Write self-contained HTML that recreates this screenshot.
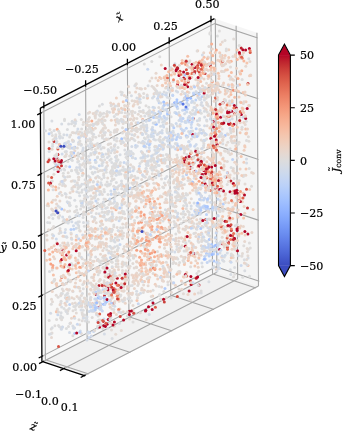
<!DOCTYPE html>
<html><head><meta charset="utf-8"><title>plot</title>
<style>html,body{margin:0;padding:0;background:#fff}svg{display:block}</style></head>
<body>
<svg width="343" height="432" viewBox="0 0 343 432" style="display:block">
<rect width="343" height="432" fill="#fff"/>
<polygon points="41.90,361.45 216.00,271.88 214.45,18.55 40.35,108.12" fill="#f8f8f8"/>
<polygon points="216.00,271.88 259.35,286.25 257.80,32.93 214.45,18.55" fill="#f5f5f5"/>
<polygon points="41.90,361.45 216.00,271.88 259.35,286.25 85.25,375.82" fill="#f1f1f1"/>
<path d="M45.38 359.66 L43.83 106.33 M45.38 359.66 L88.73 374.03 M87.17 338.16 L85.62 84.84 M87.17 338.16 L130.52 352.54 M128.95 316.66 L127.40 63.34 M128.95 316.66 L172.30 331.04 M170.73 295.16 L169.18 41.84 M170.73 295.16 L214.08 309.54 M212.52 273.67 L210.97 20.34 M212.52 273.67 L255.87 288.04 M41.87 356.38 L215.97 266.81 M215.97 266.81 L259.32 281.18 M41.50 295.59 L215.60 206.01 M215.60 206.01 L258.95 220.39 M41.12 234.79 L215.22 145.21 M215.22 145.21 L258.57 159.59 M40.75 173.99 L214.85 84.41 M214.85 84.41 L258.20 98.79 M40.38 113.19 L214.48 23.62 M214.48 23.62 L257.83 37.99 M42.77 361.74 L216.87 272.16 M216.87 272.16 L215.32 18.84 M63.58 368.64 L237.68 279.06 M237.68 279.06 L236.12 25.74 M84.38 375.54 L258.48 285.96 M258.48 285.96 L256.93 32.64" stroke="#a6a6a6" stroke-width="1.10" fill="none"/>
<g id="pts">
<g fill-opacity="1.00"><circle cx="54.7" cy="138.2" r="1.50" fill="#dddcdc"/><circle cx="61.1" cy="312.8" r="1.50" fill="#dadce0"/><circle cx="140.8" cy="158.0" r="1.50" fill="#d6dce4"/><circle cx="144.9" cy="156.1" r="1.50" fill="#dddcdc"/><circle cx="209.9" cy="252.4" r="1.50" fill="#e4d9d2"/><circle cx="153.0" cy="155.1" r="1.50" fill="#dadce0"/><circle cx="160.2" cy="207.7" r="1.50" fill="#f7b89c"/><circle cx="194.6" cy="253.6" r="1.50" fill="#d6dce4"/><circle cx="69.4" cy="216.9" r="1.50" fill="#e5d8d1"/><circle cx="223.1" cy="211.1" r="1.50" fill="#e1dad6"/><circle cx="185.1" cy="214.2" r="1.50" fill="#e4d9d2"/><circle cx="114.7" cy="272.1" r="1.50" fill="#e7d7ce"/><circle cx="96.5" cy="314.4" r="1.50" fill="#d2dbe8"/><circle cx="159.2" cy="102.8" r="1.50" fill="#c0d4f5"/><circle cx="153.5" cy="159.5" r="1.50" fill="#ccd9ed"/><circle cx="190.4" cy="219.1" r="1.50" fill="#e3d9d3"/><circle cx="87.0" cy="317.0" r="1.50" fill="#d3dbe7"/><circle cx="97.4" cy="157.8" r="1.50" fill="#dddcdc"/><circle cx="140.4" cy="102.4" r="1.50" fill="#dcdddd"/><circle cx="177.1" cy="178.6" r="1.50" fill="#e3d9d3"/><circle cx="132.2" cy="209.7" r="1.50" fill="#e2dad5"/><circle cx="142.7" cy="119.3" r="1.50" fill="#f6bfa6"/><circle cx="99.3" cy="165.7" r="1.50" fill="#c7d7f0"/><circle cx="186.6" cy="272.5" r="1.50" fill="#efcebd"/><circle cx="121.0" cy="174.1" r="1.50" fill="#dadce0"/><circle cx="75.4" cy="258.0" r="1.50" fill="#f3c7b1"/><circle cx="238.8" cy="236.0" r="1.50" fill="#e7d7ce"/><circle cx="153.6" cy="110.4" r="1.50" fill="#e8d6cc"/><circle cx="213.5" cy="254.0" r="1.50" fill="#b2ccfb"/><circle cx="98.0" cy="199.3" r="1.50" fill="#dcdddd"/><circle cx="148.2" cy="135.4" r="1.50" fill="#dadce0"/><circle cx="198.4" cy="234.4" r="1.50" fill="#ead5c9"/><circle cx="229.9" cy="226.1" r="1.50" fill="#b40426"/><circle cx="104.8" cy="273.0" r="1.50" fill="#ebd3c6"/><circle cx="130.2" cy="293.4" r="1.50" fill="#dedcdb"/><circle cx="170.3" cy="210.4" r="1.50" fill="#e1dad6"/><circle cx="132.5" cy="293.1" r="1.50" fill="#ead5c9"/><circle cx="215.6" cy="208.1" r="1.50" fill="#ecd3c5"/><circle cx="70.9" cy="156.0" r="1.50" fill="#dadce0"/><circle cx="172.9" cy="263.4" r="1.50" fill="#dedcdb"/><circle cx="82.5" cy="203.1" r="1.50" fill="#d8dce2"/><circle cx="242.1" cy="79.6" r="1.50" fill="#dddcdc"/><circle cx="166.1" cy="95.1" r="1.50" fill="#bed2f6"/><circle cx="165.5" cy="94.7" r="1.50" fill="#ccd9ed"/><circle cx="197.4" cy="252.7" r="1.50" fill="#f2cab5"/><circle cx="65.0" cy="264.5" r="1.50" fill="#f5c1a9"/><circle cx="236.3" cy="250.3" r="1.50" fill="#e6d7cf"/><circle cx="114.3" cy="273.9" r="1.50" fill="#e0dbd8"/><circle cx="227.3" cy="161.5" r="1.50" fill="#e1dad6"/><circle cx="196.2" cy="128.8" r="1.50" fill="#bfd3f6"/><circle cx="249.6" cy="189.6" r="1.50" fill="#eed0c0"/><circle cx="207.4" cy="64.5" r="1.50" fill="#e7d7ce"/><circle cx="89.6" cy="112.3" r="1.50" fill="#e7d7ce"/><circle cx="203.7" cy="52.8" r="1.50" fill="#e8d6cc"/><circle cx="198.0" cy="240.9" r="1.50" fill="#d4dbe6"/><circle cx="210.4" cy="65.9" r="1.50" fill="#c12b30"/><circle cx="78.6" cy="179.8" r="1.50" fill="#e1dad6"/><circle cx="144.5" cy="142.6" r="1.50" fill="#cfdaea"/><circle cx="181.1" cy="128.7" r="1.50" fill="#c5d6f2"/><circle cx="167.1" cy="243.1" r="1.50" fill="#e7d7ce"/><circle cx="228.4" cy="60.8" r="1.50" fill="#f2cbb7"/><circle cx="139.2" cy="94.3" r="1.50" fill="#dedcdb"/><circle cx="178.7" cy="169.5" r="1.50" fill="#dfdbd9"/><circle cx="214.0" cy="119.3" r="1.50" fill="#dcdddd"/><circle cx="201.1" cy="156.9" r="1.50" fill="#ebd3c6"/><circle cx="125.2" cy="144.9" r="1.50" fill="#f6bea4"/><circle cx="221.9" cy="186.6" r="1.50" fill="#f3c7b1"/><circle cx="116.6" cy="140.9" r="1.50" fill="#dfdbd9"/><circle cx="170.9" cy="124.4" r="1.50" fill="#d8dce2"/><circle cx="159.1" cy="286.5" r="1.50" fill="#dcdddd"/><circle cx="149.0" cy="114.9" r="1.50" fill="#efcfbf"/><circle cx="67.4" cy="129.4" r="1.50" fill="#dbdcde"/><circle cx="193.4" cy="163.0" r="1.50" fill="#e2dad5"/><circle cx="170.8" cy="173.9" r="1.50" fill="#dddcdc"/><circle cx="152.5" cy="212.9" r="1.50" fill="#efcebd"/><circle cx="111.6" cy="237.9" r="1.50" fill="#dfdbd9"/><circle cx="51.7" cy="181.2" r="1.50" fill="#ead4c8"/><circle cx="130.6" cy="155.3" r="1.50" fill="#b1cbfc"/><circle cx="88.2" cy="113.3" r="1.50" fill="#e1dad6"/><circle cx="48.5" cy="205.7" r="1.50" fill="#ead5c9"/><circle cx="85.0" cy="165.4" r="1.50" fill="#dfdbd9"/><circle cx="142.5" cy="134.4" r="1.50" fill="#d1dae9"/><circle cx="109.2" cy="156.1" r="1.50" fill="#dadce0"/><circle cx="205.4" cy="192.2" r="1.50" fill="#cfdaea"/><circle cx="189.7" cy="165.3" r="1.50" fill="#d4dbe6"/><circle cx="104.3" cy="300.6" r="1.50" fill="#dadce0"/><circle cx="130.4" cy="293.5" r="1.50" fill="#ead5c9"/><circle cx="127.4" cy="286.4" r="1.50" fill="#e5d8d1"/><circle cx="76.3" cy="272.7" r="1.50" fill="#f4c6af"/><circle cx="244.9" cy="231.6" r="1.50" fill="#b40426"/><circle cx="245.0" cy="146.9" r="1.50" fill="#f1cdba"/><circle cx="231.0" cy="224.8" r="1.50" fill="#d44e41"/><circle cx="170.3" cy="256.2" r="1.50" fill="#e7d7ce"/><circle cx="86.9" cy="286.8" r="1.50" fill="#ecd3c5"/><circle cx="119.0" cy="185.8" r="1.50" fill="#dfdbd9"/><circle cx="190.9" cy="227.3" r="1.50" fill="#dddcdc"/><circle cx="107.4" cy="207.5" r="1.50" fill="#dddcdc"/><circle cx="78.6" cy="142.6" r="1.50" fill="#d3dbe7"/><circle cx="111.9" cy="298.2" r="1.50" fill="#dedcdb"/><circle cx="198.2" cy="86.7" r="1.50" fill="#d7dce3"/><circle cx="172.2" cy="257.6" r="1.50" fill="#ead5c9"/><circle cx="248.0" cy="83.4" r="1.50" fill="#c73635"/><circle cx="119.7" cy="217.4" r="1.50" fill="#dbdcde"/><circle cx="203.6" cy="169.0" r="1.50" fill="#c53334"/><circle cx="150.8" cy="270.5" r="1.50" fill="#f2cbb7"/><circle cx="141.1" cy="230.6" r="1.50" fill="#f59f80"/><circle cx="105.8" cy="167.9" r="1.50" fill="#dedcdb"/><circle cx="71.5" cy="318.2" r="1.50" fill="#e7d7ce"/><circle cx="182.2" cy="60.4" r="1.50" fill="#f2c9b4"/><circle cx="78.2" cy="287.2" r="1.50" fill="#ead5c9"/><circle cx="249.9" cy="61.5" r="1.50" fill="#e5d8d1"/><circle cx="76.7" cy="248.0" r="1.50" fill="#f1cdba"/><circle cx="109.3" cy="185.3" r="1.50" fill="#dddcdc"/><circle cx="225.1" cy="221.3" r="1.50" fill="#b40426"/><circle cx="209.1" cy="76.0" r="1.50" fill="#dfdbd9"/><circle cx="178.4" cy="114.5" r="1.50" fill="#ccd9ed"/><circle cx="195.7" cy="112.1" r="1.50" fill="#d8dce2"/><circle cx="88.2" cy="226.6" r="1.50" fill="#ead5c9"/><circle cx="88.2" cy="145.8" r="1.50" fill="#d6dce4"/><circle cx="208.0" cy="56.9" r="1.50" fill="#dddcdc"/><circle cx="177.0" cy="143.8" r="1.50" fill="#c5d6f2"/><circle cx="152.5" cy="217.6" r="1.50" fill="#f3c7b1"/><circle cx="64.2" cy="243.1" r="1.50" fill="#f1cdba"/><circle cx="195.7" cy="277.8" r="1.50" fill="#f7b093"/><circle cx="167.8" cy="257.9" r="1.50" fill="#ead4c8"/><circle cx="86.1" cy="196.4" r="1.50" fill="#ead5c9"/><circle cx="121.7" cy="234.3" r="1.50" fill="#e5d8d1"/><circle cx="69.7" cy="205.7" r="1.50" fill="#dcdddd"/><circle cx="237.4" cy="215.1" r="1.50" fill="#edd2c3"/><circle cx="223.0" cy="209.2" r="1.50" fill="#dbdcde"/><circle cx="137.0" cy="300.5" r="1.50" fill="#f4c5ad"/><circle cx="63.6" cy="183.7" r="1.50" fill="#dddcdc"/><circle cx="206.5" cy="83.2" r="1.50" fill="#dfdbd9"/><circle cx="123.2" cy="121.8" r="1.50" fill="#e0dbd8"/><circle cx="92.7" cy="129.4" r="1.50" fill="#d8dce2"/><circle cx="180.2" cy="169.9" r="1.50" fill="#e6d7cf"/><circle cx="111.4" cy="229.6" r="1.50" fill="#e1dad6"/><circle cx="185.3" cy="202.5" r="1.50" fill="#d8dce2"/><circle cx="230.7" cy="137.8" r="1.50" fill="#d2dbe8"/><circle cx="243.5" cy="52.4" r="1.50" fill="#efcebd"/><circle cx="84.4" cy="183.9" r="1.50" fill="#d9dce1"/><circle cx="241.2" cy="156.5" r="1.50" fill="#f4c6af"/><circle cx="190.0" cy="168.7" r="1.50" fill="#de614d"/><circle cx="101.1" cy="206.4" r="1.50" fill="#d5dbe5"/><circle cx="236.2" cy="197.2" r="1.50" fill="#edd2c3"/><circle cx="84.3" cy="281.5" r="1.50" fill="#e7d7ce"/><circle cx="215.2" cy="52.6" r="1.50" fill="#efcfbf"/><circle cx="85.3" cy="132.4" r="1.50" fill="#dfdbd9"/><circle cx="213.8" cy="266.6" r="1.50" fill="#dcdddd"/><circle cx="214.5" cy="177.3" r="1.50" fill="#b40426"/><circle cx="180.8" cy="247.3" r="1.50" fill="#e1dad6"/><circle cx="240.8" cy="226.0" r="1.50" fill="#ead5c9"/><circle cx="148.1" cy="85.7" r="1.50" fill="#d9dce1"/><circle cx="110.8" cy="152.7" r="1.50" fill="#dbdcde"/><circle cx="190.5" cy="167.2" r="1.50" fill="#b40426"/><circle cx="90.6" cy="141.3" r="1.50" fill="#dbdcde"/><circle cx="127.7" cy="210.1" r="1.50" fill="#dadce0"/><circle cx="194.4" cy="135.8" r="1.50" fill="#bfd3f6"/><circle cx="115.1" cy="172.7" r="1.50" fill="#e1dad6"/><circle cx="183.6" cy="205.7" r="1.50" fill="#dcdddd"/><circle cx="87.6" cy="186.0" r="1.50" fill="#dadce0"/><circle cx="236.3" cy="107.9" r="1.50" fill="#b40426"/><circle cx="107.1" cy="268.5" r="1.50" fill="#e6d7cf"/><circle cx="225.2" cy="94.0" r="1.50" fill="#efcfbf"/><circle cx="176.8" cy="249.6" r="1.50" fill="#dfdbd9"/><circle cx="133.1" cy="184.6" r="1.50" fill="#dadce0"/><circle cx="99.0" cy="292.5" r="1.50" fill="#e5d8d1"/><circle cx="92.3" cy="231.4" r="1.50" fill="#e6d7cf"/><circle cx="129.0" cy="151.0" r="1.50" fill="#dbdcde"/><circle cx="222.4" cy="57.9" r="1.50" fill="#edd1c2"/><circle cx="140.3" cy="312.7" r="1.50" fill="#e2dad5"/><circle cx="214.2" cy="218.4" r="1.50" fill="#b40426"/><circle cx="67.8" cy="242.9" r="1.50" fill="#dddcdc"/><circle cx="148.0" cy="235.3" r="1.50" fill="#e3d9d3"/><circle cx="124.4" cy="263.1" r="1.50" fill="#dcdddd"/><circle cx="213.1" cy="267.4" r="1.50" fill="#d5dbe5"/><circle cx="167.3" cy="157.3" r="1.50" fill="#e2dad5"/><circle cx="205.9" cy="232.0" r="1.50" fill="#e6d7cf"/><circle cx="60.2" cy="230.7" r="1.50" fill="#e7d7ce"/><circle cx="220.9" cy="181.5" r="1.50" fill="#d95847"/><circle cx="135.1" cy="101.5" r="1.50" fill="#ead5c9"/><circle cx="101.3" cy="234.9" r="1.50" fill="#f3c7b1"/><circle cx="104.5" cy="212.3" r="1.50" fill="#dadce0"/><circle cx="176.9" cy="246.4" r="1.50" fill="#d9dce1"/><circle cx="180.7" cy="137.5" r="1.50" fill="#e3d9d3"/><circle cx="137.9" cy="233.5" r="1.50" fill="#e0dbd8"/><circle cx="168.3" cy="89.7" r="1.50" fill="#d2dbe8"/><circle cx="209.6" cy="196.0" r="1.50" fill="#d3dbe7"/><circle cx="136.4" cy="267.0" r="1.50" fill="#e6d7cf"/><circle cx="230.1" cy="148.7" r="1.50" fill="#e3d9d3"/><circle cx="105.0" cy="285.3" r="1.50" fill="#b40426"/><circle cx="131.2" cy="215.4" r="1.50" fill="#d4dbe6"/><circle cx="121.4" cy="283.8" r="1.50" fill="#ead5c9"/><circle cx="113.8" cy="241.0" r="1.50" fill="#dedcdb"/><circle cx="218.3" cy="260.5" r="1.50" fill="#dfdbd9"/><circle cx="188.7" cy="141.8" r="1.50" fill="#c5d6f2"/><circle cx="196.3" cy="176.1" r="1.50" fill="#dbdcde"/><circle cx="251.5" cy="186.3" r="1.50" fill="#dfdbd9"/><circle cx="125.7" cy="172.1" r="1.50" fill="#f2c9b4"/><circle cx="149.2" cy="314.5" r="1.50" fill="#d6dce4"/><circle cx="88.0" cy="162.5" r="1.50" fill="#e3d9d3"/><circle cx="187.6" cy="146.0" r="1.50" fill="#e3d9d3"/><circle cx="141.2" cy="281.0" r="1.50" fill="#efcfbf"/><circle cx="130.7" cy="218.4" r="1.50" fill="#dedcdb"/><circle cx="188.1" cy="118.0" r="1.50" fill="#d1dae9"/><circle cx="198.6" cy="172.4" r="1.50" fill="#f7b99e"/><circle cx="152.4" cy="190.8" r="1.50" fill="#f7bca1"/><circle cx="76.1" cy="244.9" r="1.50" fill="#edd1c2"/><circle cx="213.7" cy="184.7" r="1.50" fill="#e1dad6"/><circle cx="233.6" cy="183.2" r="1.50" fill="#e5d8d1"/><circle cx="243.1" cy="92.6" r="1.50" fill="#f3c7b1"/><circle cx="184.7" cy="240.3" r="1.50" fill="#f3c7b1"/><circle cx="114.9" cy="163.7" r="1.50" fill="#dbdcde"/><circle cx="227.9" cy="111.3" r="1.50" fill="#b40426"/><circle cx="219.0" cy="191.2" r="1.50" fill="#cdd9ec"/><circle cx="227.3" cy="133.8" r="1.50" fill="#d8dce2"/><circle cx="53.9" cy="174.2" r="1.50" fill="#e3d9d3"/><circle cx="233.4" cy="168.4" r="1.50" fill="#e1dad6"/><circle cx="95.4" cy="112.7" r="1.50" fill="#e0dbd8"/><circle cx="207.4" cy="202.1" r="1.50" fill="#dfdbd9"/><circle cx="170.9" cy="70.0" r="1.50" fill="#f5c1a9"/><circle cx="127.9" cy="298.7" r="1.50" fill="#d9dce1"/><circle cx="206.0" cy="178.9" r="1.50" fill="#e2dad5"/><circle cx="105.8" cy="298.9" r="1.50" fill="#cedaeb"/><circle cx="86.6" cy="303.6" r="1.50" fill="#e2dad5"/><circle cx="185.2" cy="198.3" r="1.50" fill="#d4dbe6"/><circle cx="112.2" cy="280.1" r="1.50" fill="#ec7f63"/><circle cx="53.6" cy="226.5" r="1.50" fill="#dfdbd9"/><circle cx="122.6" cy="109.5" r="1.50" fill="#cfdaea"/><circle cx="249.4" cy="242.9" r="1.50" fill="#dedcdb"/><circle cx="92.5" cy="235.8" r="1.50" fill="#dfdbd9"/><circle cx="57.9" cy="154.4" r="1.50" fill="#b40426"/><circle cx="151.6" cy="129.3" r="1.50" fill="#dbdcde"/><circle cx="76.4" cy="206.6" r="1.50" fill="#dcdddd"/><circle cx="107.4" cy="282.6" r="1.50" fill="#ead4c8"/><circle cx="187.3" cy="163.2" r="1.50" fill="#f6bfa6"/><circle cx="214.7" cy="86.8" r="1.50" fill="#cdd9ec"/><circle cx="74.5" cy="327.9" r="1.50" fill="#e2dad5"/><circle cx="169.8" cy="166.5" r="1.50" fill="#ebd3c6"/><circle cx="82.4" cy="293.5" r="1.50" fill="#d9dce1"/><circle cx="171.2" cy="135.6" r="1.50" fill="#e0dbd8"/><circle cx="64.5" cy="143.7" r="1.50" fill="#d2dbe8"/><circle cx="166.0" cy="199.8" r="1.50" fill="#e8d6cc"/><circle cx="163.6" cy="147.7" r="1.50" fill="#dfdbd9"/><circle cx="96.6" cy="122.2" r="1.50" fill="#e1dad6"/><circle cx="157.3" cy="157.0" r="1.50" fill="#dddcdc"/><circle cx="200.8" cy="234.5" r="1.50" fill="#e3d9d3"/><circle cx="169.1" cy="140.1" r="1.50" fill="#c5d6f2"/><circle cx="232.3" cy="103.0" r="1.50" fill="#c4d5f3"/><circle cx="242.7" cy="277.3" r="1.50" fill="#dcdddd"/><circle cx="137.5" cy="298.1" r="1.50" fill="#dfdbd9"/><circle cx="209.7" cy="182.7" r="1.50" fill="#e0dbd8"/><circle cx="130.3" cy="255.4" r="1.50" fill="#e8d6cc"/><circle cx="241.9" cy="129.2" r="1.50" fill="#e9d5cb"/><circle cx="113.1" cy="174.0" r="1.50" fill="#dedcdb"/><circle cx="105.4" cy="234.0" r="1.50" fill="#e6d7cf"/><circle cx="117.5" cy="254.0" r="1.50" fill="#f3c8b2"/><circle cx="61.0" cy="232.6" r="1.50" fill="#d9dce1"/><circle cx="213.9" cy="158.5" r="1.50" fill="#e3d9d3"/><circle cx="90.8" cy="268.8" r="1.50" fill="#e5d8d1"/><circle cx="97.7" cy="328.3" r="1.50" fill="#d5dbe5"/><circle cx="184.1" cy="251.1" r="1.50" fill="#dbdcde"/><circle cx="89.5" cy="303.6" r="1.50" fill="#c3d5f4"/><circle cx="124.6" cy="299.9" r="1.50" fill="#dedcdb"/><circle cx="146.0" cy="203.9" r="1.50" fill="#f7ba9f"/><circle cx="212.3" cy="225.7" r="1.50" fill="#dedcdb"/><circle cx="146.9" cy="233.2" r="1.50" fill="#f59d7e"/><circle cx="99.1" cy="213.7" r="1.50" fill="#d8dce2"/><circle cx="138.3" cy="193.2" r="1.50" fill="#d9dce1"/><circle cx="191.5" cy="222.8" r="1.50" fill="#ead4c8"/><circle cx="108.7" cy="219.3" r="1.50" fill="#e0dbd8"/><circle cx="202.3" cy="66.4" r="1.50" fill="#bd1f2d"/><circle cx="185.2" cy="214.6" r="1.50" fill="#dfdbd9"/><circle cx="200.2" cy="112.7" r="1.50" fill="#d8dce2"/><circle cx="244.1" cy="150.2" r="1.50" fill="#eed0c0"/><circle cx="167.3" cy="132.5" r="1.50" fill="#cfdaea"/><circle cx="181.2" cy="145.9" r="1.50" fill="#c6d6f1"/><circle cx="151.8" cy="61.4" r="1.50" fill="#dddcdc"/><circle cx="162.2" cy="170.8" r="1.50" fill="#ead5c9"/><circle cx="201.6" cy="163.1" r="1.50" fill="#d85646"/><circle cx="147.0" cy="223.1" r="1.50" fill="#edd1c2"/><circle cx="102.5" cy="156.8" r="1.50" fill="#c0d4f5"/><circle cx="174.6" cy="102.7" r="1.50" fill="#8caffe"/><circle cx="89.2" cy="311.4" r="1.50" fill="#cfdaea"/><circle cx="178.8" cy="264.9" r="1.50" fill="#e6d7cf"/><circle cx="208.7" cy="90.7" r="1.50" fill="#d7dce3"/><circle cx="137.9" cy="137.1" r="1.50" fill="#e7d7ce"/><circle cx="96.1" cy="237.0" r="1.50" fill="#d3dbe7"/><circle cx="127.3" cy="271.7" r="1.50" fill="#e4d9d2"/><circle cx="223.3" cy="203.9" r="1.50" fill="#b7cff9"/><circle cx="167.8" cy="154.9" r="1.50" fill="#d7dce3"/><circle cx="188.1" cy="217.4" r="1.50" fill="#e0dbd8"/><circle cx="99.1" cy="285.4" r="1.50" fill="#ba162b"/><circle cx="173.3" cy="139.1" r="1.50" fill="#dbdcde"/><circle cx="92.9" cy="173.7" r="1.50" fill="#d9dce1"/><circle cx="188.0" cy="76.4" r="1.50" fill="#edd1c2"/><circle cx="248.1" cy="258.0" r="1.50" fill="#d6dce4"/><circle cx="175.4" cy="240.3" r="1.50" fill="#cbd8ee"/><circle cx="198.9" cy="258.8" r="1.50" fill="#d8dce2"/><circle cx="198.6" cy="133.5" r="1.50" fill="#d8dce2"/><circle cx="230.9" cy="94.6" r="1.50" fill="#f6bea4"/><circle cx="207.7" cy="75.8" r="1.50" fill="#dfdbd9"/><circle cx="57.9" cy="149.1" r="1.50" fill="#dd5f4b"/><circle cx="149.8" cy="244.3" r="1.50" fill="#f5c0a7"/><circle cx="218.9" cy="227.3" r="1.50" fill="#edd2c3"/><circle cx="55.6" cy="136.7" r="1.50" fill="#e3d9d3"/><circle cx="181.3" cy="213.8" r="1.50" fill="#e3d9d3"/><circle cx="90.4" cy="238.3" r="1.50" fill="#f7bca1"/><circle cx="186.1" cy="157.4" r="1.50" fill="#b40426"/><circle cx="243.2" cy="117.3" r="1.50" fill="#cbd8ee"/><circle cx="213.5" cy="189.6" r="1.50" fill="#edd1c2"/><circle cx="100.3" cy="226.0" r="1.50" fill="#e2dad5"/><circle cx="227.9" cy="103.2" r="1.50" fill="#e8d6cc"/><circle cx="128.3" cy="132.0" r="1.50" fill="#e2dad5"/><circle cx="108.9" cy="251.2" r="1.50" fill="#e5d8d1"/><circle cx="134.1" cy="129.3" r="1.50" fill="#e1dad6"/><circle cx="64.5" cy="119.2" r="1.50" fill="#dfdbd9"/><circle cx="65.9" cy="310.6" r="1.50" fill="#dedcdb"/><circle cx="210.8" cy="245.7" r="1.50" fill="#bad0f8"/><circle cx="107.2" cy="111.4" r="1.50" fill="#dddcdc"/><circle cx="153.2" cy="267.9" r="1.50" fill="#e9785d"/><circle cx="159.4" cy="241.4" r="1.50" fill="#f6a283"/><circle cx="148.0" cy="162.8" r="1.50" fill="#d7dce3"/><circle cx="222.5" cy="260.0" r="1.50" fill="#d4dbe6"/><circle cx="226.8" cy="209.1" r="1.50" fill="#e1dad6"/><circle cx="79.2" cy="215.7" r="1.50" fill="#d2dbe8"/><circle cx="101.9" cy="153.5" r="1.50" fill="#dcdddd"/><circle cx="148.8" cy="116.0" r="1.50" fill="#dbdcde"/><circle cx="138.5" cy="283.7" r="1.50" fill="#e6d7cf"/><circle cx="123.2" cy="123.4" r="1.50" fill="#e1dad6"/><circle cx="71.0" cy="229.6" r="1.50" fill="#bad0f8"/><circle cx="212.3" cy="141.2" r="1.50" fill="#f2cbb7"/><circle cx="85.7" cy="197.5" r="1.50" fill="#e1dad6"/><circle cx="175.2" cy="66.6" r="1.50" fill="#f2c9b4"/><circle cx="132.2" cy="128.3" r="1.50" fill="#dddcdc"/><circle cx="232.2" cy="118.8" r="1.50" fill="#d7dce3"/><circle cx="163.5" cy="281.2" r="1.50" fill="#e7d7ce"/><circle cx="240.2" cy="102.1" r="1.50" fill="#dfdbd9"/><circle cx="99.6" cy="236.9" r="1.50" fill="#dedcdb"/><circle cx="102.0" cy="121.7" r="1.50" fill="#dfdbd9"/><circle cx="240.1" cy="132.7" r="1.50" fill="#f2cab5"/><circle cx="100.3" cy="305.8" r="1.50" fill="#f6bda2"/><circle cx="93.4" cy="186.3" r="1.50" fill="#e0dbd8"/><circle cx="199.6" cy="118.5" r="1.50" fill="#d4dbe6"/><circle cx="204.0" cy="94.7" r="1.50" fill="#d1dae9"/><circle cx="209.3" cy="239.6" r="1.50" fill="#aac7fd"/><circle cx="190.6" cy="266.7" r="1.50" fill="#dfdbd9"/><circle cx="118.0" cy="172.4" r="1.50" fill="#dedcdb"/><circle cx="212.1" cy="82.6" r="1.50" fill="#efcebd"/><circle cx="179.4" cy="232.3" r="1.50" fill="#e7d7ce"/><circle cx="67.8" cy="161.4" r="1.50" fill="#dfdbd9"/><circle cx="207.5" cy="206.4" r="1.50" fill="#adc9fd"/><circle cx="74.8" cy="147.3" r="1.50" fill="#9dbdff"/><circle cx="132.4" cy="247.2" r="1.50" fill="#ead5c9"/><circle cx="138.9" cy="294.4" r="1.50" fill="#e4d9d2"/><circle cx="113.8" cy="226.8" r="1.50" fill="#e0dbd8"/><circle cx="232.1" cy="100.6" r="1.50" fill="#edd1c2"/><circle cx="189.0" cy="121.9" r="1.50" fill="#c9d7f0"/><circle cx="149.8" cy="201.7" r="1.50" fill="#f59c7d"/><circle cx="102.0" cy="206.8" r="1.50" fill="#f2c9b4"/><circle cx="97.0" cy="168.8" r="1.50" fill="#e0dbd8"/><circle cx="140.6" cy="213.0" r="1.50" fill="#f7b99e"/><circle cx="78.2" cy="276.7" r="1.50" fill="#f3c8b2"/><circle cx="100.5" cy="308.1" r="1.50" fill="#b9d0f9"/><circle cx="225.3" cy="89.7" r="1.50" fill="#ebd3c6"/><circle cx="209.9" cy="34.0" r="1.50" fill="#dcdddd"/><circle cx="111.5" cy="104.7" r="1.50" fill="#cfdaea"/><circle cx="108.1" cy="263.7" r="1.50" fill="#ebd3c6"/><circle cx="161.1" cy="276.2" r="1.50" fill="#f2cbb7"/><circle cx="88.1" cy="248.2" r="1.50" fill="#e8d6cc"/><circle cx="100.2" cy="170.6" r="1.50" fill="#dfdbd9"/><circle cx="73.7" cy="122.6" r="1.50" fill="#d8dce2"/><circle cx="157.2" cy="227.1" r="1.50" fill="#e6d7cf"/><circle cx="223.8" cy="261.2" r="1.50" fill="#dadce0"/><circle cx="160.0" cy="92.8" r="1.50" fill="#dddcdc"/><circle cx="57.2" cy="129.2" r="1.50" fill="#f7b093"/><circle cx="104.1" cy="147.7" r="1.50" fill="#e1dad6"/><circle cx="100.4" cy="320.0" r="1.50" fill="#e2dad5"/><circle cx="201.5" cy="233.0" r="1.50" fill="#eed0c0"/><circle cx="66.3" cy="283.4" r="1.50" fill="#e5d8d1"/><circle cx="127.3" cy="136.6" r="1.50" fill="#e1dad6"/><circle cx="238.6" cy="193.9" r="1.50" fill="#de614d"/><circle cx="168.5" cy="209.2" r="1.50" fill="#f2cbb7"/><circle cx="106.8" cy="162.6" r="1.50" fill="#e6d7cf"/><circle cx="110.9" cy="283.4" r="1.50" fill="#dcdddd"/><circle cx="97.4" cy="111.1" r="1.50" fill="#d3dbe7"/><circle cx="168.5" cy="166.8" r="1.50" fill="#d7dce3"/><circle cx="104.3" cy="125.3" r="1.50" fill="#e5d8d1"/><circle cx="117.9" cy="122.1" r="1.50" fill="#e0dbd8"/><circle cx="97.7" cy="320.9" r="1.50" fill="#cbd8ee"/><circle cx="113.8" cy="208.1" r="1.50" fill="#f4c6af"/><circle cx="246.9" cy="63.1" r="1.50" fill="#f4c6af"/><circle cx="191.3" cy="131.2" r="1.50" fill="#bad0f8"/><circle cx="205.3" cy="164.9" r="1.50" fill="#e4d9d2"/><circle cx="167.6" cy="213.9" r="1.50" fill="#edd1c2"/><circle cx="64.0" cy="308.5" r="1.50" fill="#dcdddd"/><circle cx="157.2" cy="215.0" r="1.50" fill="#efcfbf"/><circle cx="146.0" cy="238.1" r="1.50" fill="#e4d9d2"/><circle cx="88.5" cy="239.8" r="1.50" fill="#e2dad5"/><circle cx="171.5" cy="198.2" r="1.50" fill="#e6d7cf"/><circle cx="74.9" cy="156.0" r="1.50" fill="#edd1c2"/><circle cx="189.3" cy="167.8" r="1.50" fill="#edd2c3"/><circle cx="201.6" cy="219.5" r="1.50" fill="#d9dce1"/><circle cx="202.7" cy="72.5" r="1.50" fill="#f7a889"/><circle cx="173.7" cy="276.4" r="1.50" fill="#e0dbd8"/><circle cx="53.0" cy="214.1" r="1.50" fill="#e3d9d3"/><circle cx="56.7" cy="283.6" r="1.50" fill="#ecd3c5"/><circle cx="227.7" cy="240.9" r="1.50" fill="#dbdcde"/><circle cx="95.9" cy="268.0" r="1.50" fill="#dcdddd"/><circle cx="165.9" cy="103.8" r="1.50" fill="#d4dbe6"/><circle cx="182.7" cy="173.0" r="1.50" fill="#efcfbf"/><circle cx="196.3" cy="278.2" r="1.50" fill="#b8122a"/><circle cx="216.3" cy="50.0" r="1.50" fill="#f7a98b"/><circle cx="136.5" cy="261.6" r="1.50" fill="#e6d7cf"/><circle cx="110.8" cy="317.4" r="1.50" fill="#dbdcde"/><circle cx="121.7" cy="188.8" r="1.50" fill="#dddcdc"/><circle cx="128.2" cy="253.8" r="1.50" fill="#e9d5cb"/><circle cx="147.3" cy="151.1" r="1.50" fill="#d1dae9"/><circle cx="99.2" cy="242.7" r="1.50" fill="#e6d7cf"/><circle cx="216.4" cy="207.6" r="1.50" fill="#cedaeb"/><circle cx="227.1" cy="104.9" r="1.50" fill="#e9785d"/><circle cx="105.2" cy="272.6" r="1.50" fill="#d2dbe8"/><circle cx="68.8" cy="296.7" r="1.50" fill="#dddcdc"/><circle cx="227.8" cy="142.3" r="1.50" fill="#e1dad6"/><circle cx="61.2" cy="160.6" r="1.50" fill="#dddcdc"/><circle cx="184.5" cy="150.6" r="1.50" fill="#e6d7cf"/><circle cx="104.0" cy="189.4" r="1.50" fill="#dfdbd9"/><circle cx="91.4" cy="235.5" r="1.50" fill="#f7bca1"/><circle cx="101.8" cy="130.6" r="1.50" fill="#e1dad6"/><circle cx="98.1" cy="297.9" r="1.50" fill="#9ebeff"/><circle cx="95.8" cy="288.4" r="1.50" fill="#b40426"/><circle cx="100.3" cy="221.8" r="1.50" fill="#e1dad6"/><circle cx="79.9" cy="297.9" r="1.50" fill="#d6dce4"/><circle cx="192.8" cy="245.3" r="1.50" fill="#dddcdc"/><circle cx="212.3" cy="132.8" r="1.50" fill="#f7b194"/><circle cx="104.7" cy="159.8" r="1.50" fill="#dddcdc"/><circle cx="175.5" cy="169.2" r="1.50" fill="#f5c4ac"/><circle cx="48.9" cy="249.3" r="1.50" fill="#efcebd"/><circle cx="172.2" cy="250.4" r="1.50" fill="#e5d8d1"/><circle cx="162.4" cy="280.7" r="1.50" fill="#e7d7ce"/><circle cx="178.9" cy="238.0" r="1.50" fill="#e9d5cb"/><circle cx="68.2" cy="202.8" r="1.50" fill="#c4d5f3"/><circle cx="148.7" cy="120.6" r="1.50" fill="#dddcdc"/><circle cx="96.0" cy="288.8" r="1.50" fill="#edd1c2"/><circle cx="206.9" cy="177.7" r="1.50" fill="#e16751"/><circle cx="129.0" cy="206.1" r="1.50" fill="#e7d7ce"/><circle cx="96.2" cy="294.6" r="1.50" fill="#b40426"/><circle cx="50.6" cy="313.3" r="1.50" fill="#d5dbe5"/><circle cx="91.6" cy="149.2" r="1.50" fill="#dddcdc"/><circle cx="216.0" cy="116.8" r="1.50" fill="#f7af91"/><circle cx="205.5" cy="64.8" r="1.50" fill="#f7af91"/><circle cx="149.6" cy="218.0" r="1.50" fill="#f7af91"/><circle cx="212.8" cy="160.7" r="1.50" fill="#f5c4ac"/><circle cx="124.8" cy="149.9" r="1.50" fill="#dadce0"/><circle cx="86.3" cy="214.6" r="1.50" fill="#dbdcde"/><circle cx="221.0" cy="222.8" r="1.50" fill="#dfdbd9"/><circle cx="131.7" cy="189.0" r="1.50" fill="#dcdddd"/><circle cx="214.6" cy="202.4" r="1.50" fill="#dfdbd9"/><circle cx="204.0" cy="79.0" r="1.50" fill="#ebd3c6"/><circle cx="103.9" cy="319.1" r="1.50" fill="#ccd9ed"/><circle cx="65.3" cy="297.8" r="1.50" fill="#dadce0"/><circle cx="60.6" cy="192.2" r="1.50" fill="#e8d6cc"/><circle cx="182.0" cy="245.7" r="1.50" fill="#e6d7cf"/><circle cx="233.9" cy="242.1" r="1.50" fill="#f2cab5"/><circle cx="175.4" cy="285.2" r="1.50" fill="#ead5c9"/><circle cx="153.7" cy="207.2" r="1.50" fill="#bbd1f8"/><circle cx="136.6" cy="267.4" r="1.50" fill="#e4d9d2"/><circle cx="126.2" cy="178.2" r="1.50" fill="#dadce0"/><circle cx="222.7" cy="85.5" r="1.50" fill="#e7d7ce"/><circle cx="67.0" cy="134.9" r="1.50" fill="#d3dbe7"/><circle cx="135.4" cy="211.3" r="1.50" fill="#e3d9d3"/><circle cx="83.1" cy="214.4" r="1.50" fill="#d4dbe6"/><circle cx="104.1" cy="177.6" r="1.50" fill="#dbdcde"/><circle cx="90.2" cy="259.6" r="1.50" fill="#e5d8d1"/><circle cx="142.1" cy="265.1" r="1.50" fill="#f4c6af"/><circle cx="56.8" cy="209.9" r="1.50" fill="#dcdddd"/><circle cx="152.5" cy="301.2" r="1.50" fill="#cfdaea"/><circle cx="156.5" cy="183.3" r="1.50" fill="#edd1c2"/><circle cx="132.0" cy="294.5" r="1.50" fill="#e6d7cf"/><circle cx="117.4" cy="294.2" r="1.50" fill="#e3d9d3"/><circle cx="203.8" cy="140.7" r="1.50" fill="#a5c3fe"/><circle cx="172.9" cy="125.7" r="1.50" fill="#d3dbe7"/><circle cx="154.0" cy="169.8" r="1.50" fill="#e3d9d3"/><circle cx="159.3" cy="295.4" r="1.50" fill="#dddcdc"/><circle cx="221.9" cy="219.9" r="1.50" fill="#f5c0a7"/><circle cx="68.5" cy="273.4" r="1.50" fill="#efcfbf"/><circle cx="103.7" cy="175.5" r="1.50" fill="#dadce0"/><circle cx="247.9" cy="234.0" r="1.50" fill="#b40426"/><circle cx="128.5" cy="287.1" r="1.50" fill="#e7d7ce"/><circle cx="86.5" cy="241.1" r="1.50" fill="#e8d6cc"/><circle cx="88.6" cy="187.2" r="1.50" fill="#dbdcde"/><circle cx="167.5" cy="255.8" r="1.50" fill="#dedcdb"/><circle cx="95.5" cy="152.5" r="1.50" fill="#dedcdb"/><circle cx="113.8" cy="255.9" r="1.50" fill="#dfdbd9"/><circle cx="115.9" cy="282.9" r="1.50" fill="#b40426"/><circle cx="236.1" cy="114.1" r="1.50" fill="#e4d9d2"/><circle cx="123.7" cy="284.5" r="1.50" fill="#f0cdbb"/><circle cx="63.2" cy="221.2" r="1.50" fill="#e0dbd8"/><circle cx="168.0" cy="284.8" r="1.50" fill="#dbdcde"/><circle cx="136.8" cy="182.8" r="1.50" fill="#e5d8d1"/><circle cx="174.5" cy="169.6" r="1.50" fill="#d2dbe8"/><circle cx="108.2" cy="149.8" r="1.50" fill="#dddcdc"/><circle cx="224.4" cy="99.6" r="1.50" fill="#edd1c2"/><circle cx="50.7" cy="183.0" r="1.50" fill="#b40426"/><circle cx="241.3" cy="114.5" r="1.50" fill="#b40426"/><circle cx="175.4" cy="143.5" r="1.50" fill="#dcdddd"/><circle cx="93.0" cy="229.9" r="1.50" fill="#e7d7ce"/><circle cx="64.6" cy="236.6" r="1.50" fill="#dcdddd"/><circle cx="136.3" cy="210.3" r="1.50" fill="#f5c0a7"/><circle cx="188.2" cy="149.1" r="1.50" fill="#e4d9d2"/><circle cx="184.9" cy="75.1" r="1.50" fill="#aac7fd"/><circle cx="94.8" cy="152.9" r="1.50" fill="#dbdcde"/><circle cx="125.0" cy="145.2" r="1.50" fill="#e7d7ce"/><circle cx="110.2" cy="271.6" r="1.50" fill="#e1dad6"/><circle cx="135.8" cy="84.4" r="1.50" fill="#e5d8d1"/><circle cx="51.4" cy="247.5" r="1.50" fill="#f3c7b1"/><circle cx="79.7" cy="246.2" r="1.50" fill="#f7b79b"/><circle cx="108.9" cy="211.2" r="1.50" fill="#dbdcde"/><circle cx="213.6" cy="63.3" r="1.50" fill="#f5c2aa"/><circle cx="218.1" cy="215.7" r="1.50" fill="#c4d5f3"/><circle cx="164.3" cy="109.9" r="1.50" fill="#dbdcde"/><circle cx="79.2" cy="138.2" r="1.50" fill="#dadce0"/><circle cx="83.1" cy="315.7" r="1.50" fill="#edd1c2"/><circle cx="121.9" cy="203.2" r="1.50" fill="#dedcdb"/><circle cx="91.6" cy="277.2" r="1.50" fill="#e0dbd8"/><circle cx="134.0" cy="169.1" r="1.50" fill="#dddcdc"/><circle cx="186.2" cy="159.8" r="1.50" fill="#e7d7ce"/><circle cx="214.5" cy="72.2" r="1.50" fill="#e3d9d3"/><circle cx="229.4" cy="115.7" r="1.50" fill="#dedcdb"/><circle cx="126.2" cy="227.0" r="1.50" fill="#dfdbd9"/><circle cx="77.4" cy="148.0" r="1.50" fill="#e0dbd8"/><circle cx="189.6" cy="118.9" r="1.50" fill="#b40426"/><circle cx="235.3" cy="54.7" r="1.50" fill="#edd2c3"/><circle cx="191.0" cy="73.7" r="1.50" fill="#f6bea4"/><circle cx="163.7" cy="127.1" r="1.50" fill="#cedaeb"/><circle cx="128.8" cy="258.1" r="1.50" fill="#dedcdb"/><circle cx="178.9" cy="289.1" r="1.50" fill="#e1dad6"/><circle cx="147.5" cy="171.7" r="1.50" fill="#e2dad5"/><circle cx="136.0" cy="122.8" r="1.50" fill="#e3d9d3"/><circle cx="147.9" cy="200.0" r="1.50" fill="#f3c7b1"/><circle cx="83.2" cy="151.2" r="1.50" fill="#dfdbd9"/><circle cx="135.7" cy="195.3" r="1.50" fill="#dcdddd"/><circle cx="215.2" cy="146.9" r="1.50" fill="#f59f80"/><circle cx="189.9" cy="60.8" r="1.50" fill="#e0dbd8"/><circle cx="97.9" cy="307.6" r="1.50" fill="#b40426"/><circle cx="134.8" cy="239.6" r="1.50" fill="#ead4c8"/><circle cx="201.4" cy="77.8" r="1.50" fill="#f7b599"/><circle cx="64.5" cy="284.4" r="1.50" fill="#dadce0"/><circle cx="78.6" cy="156.3" r="1.50" fill="#dbdcde"/><circle cx="49.2" cy="320.4" r="1.50" fill="#dedcdb"/><circle cx="113.8" cy="224.9" r="1.50" fill="#dddcdc"/><circle cx="177.5" cy="84.6" r="1.50" fill="#b40426"/><circle cx="217.9" cy="113.3" r="1.50" fill="#dedcdb"/><circle cx="79.3" cy="253.4" r="1.50" fill="#ead5c9"/><circle cx="86.5" cy="297.9" r="1.50" fill="#dcdddd"/><circle cx="222.7" cy="226.6" r="1.50" fill="#b40426"/><circle cx="213.3" cy="123.7" r="1.50" fill="#f1cdba"/><circle cx="143.3" cy="192.8" r="1.50" fill="#dfdbd9"/><circle cx="99.3" cy="296.9" r="1.50" fill="#b9d0f9"/><circle cx="163.3" cy="268.2" r="1.50" fill="#e2dad5"/><circle cx="223.9" cy="169.8" r="1.50" fill="#e7d7ce"/><circle cx="228.9" cy="96.5" r="1.50" fill="#ecd3c5"/><circle cx="80.7" cy="136.2" r="1.50" fill="#d6dce4"/><circle cx="103.6" cy="117.0" r="1.50" fill="#e0dbd8"/><circle cx="188.0" cy="227.6" r="1.50" fill="#e1dad6"/><circle cx="141.6" cy="263.3" r="1.50" fill="#efcfbf"/><circle cx="187.0" cy="154.4" r="1.50" fill="#dedcdb"/><circle cx="176.0" cy="238.3" r="1.50" fill="#e3d9d3"/><circle cx="75.2" cy="303.0" r="1.50" fill="#e3d9d3"/><circle cx="180.3" cy="116.5" r="1.50" fill="#c7d7f0"/><circle cx="218.9" cy="78.4" r="1.50" fill="#f1cdba"/><circle cx="202.8" cy="247.1" r="1.50" fill="#e0dbd8"/><circle cx="81.6" cy="129.0" r="1.50" fill="#dddcdc"/><circle cx="229.0" cy="86.0" r="1.50" fill="#c9d7f0"/><circle cx="95.1" cy="116.5" r="1.50" fill="#dbdcde"/><circle cx="120.3" cy="285.3" r="1.50" fill="#ead4c8"/><circle cx="202.8" cy="175.0" r="1.50" fill="#d8dce2"/><circle cx="188.0" cy="156.4" r="1.50" fill="#e2dad5"/><circle cx="109.6" cy="304.0" r="1.50" fill="#eed0c0"/><circle cx="231.9" cy="101.8" r="1.50" fill="#f1cdba"/><circle cx="190.9" cy="86.9" r="1.50" fill="#f0cdbb"/><circle cx="233.1" cy="257.5" r="1.50" fill="#e5d8d1"/><circle cx="208.6" cy="114.8" r="1.50" fill="#dbdcde"/><circle cx="72.9" cy="326.0" r="1.50" fill="#d9dce1"/><circle cx="111.3" cy="239.0" r="1.50" fill="#e5d8d1"/><circle cx="87.0" cy="181.6" r="1.50" fill="#d5dbe5"/><circle cx="49.0" cy="217.6" r="1.50" fill="#e1dad6"/><circle cx="186.8" cy="148.7" r="1.50" fill="#dbdcde"/><circle cx="177.6" cy="81.2" r="1.50" fill="#f7ba9f"/><circle cx="243.9" cy="162.2" r="1.50" fill="#efcebd"/><circle cx="116.6" cy="217.5" r="1.50" fill="#e5d8d1"/><circle cx="226.3" cy="145.1" r="1.50" fill="#e4d9d2"/><circle cx="136.6" cy="291.2" r="1.50" fill="#d7dce3"/><circle cx="111.7" cy="283.8" r="1.50" fill="#e0654f"/><circle cx="51.5" cy="215.0" r="1.50" fill="#d7dce3"/><circle cx="198.2" cy="267.3" r="1.50" fill="#ebd3c6"/><circle cx="183.5" cy="217.3" r="1.50" fill="#dbdcde"/><circle cx="67.2" cy="297.9" r="1.50" fill="#f2cab5"/><circle cx="145.3" cy="177.3" r="1.50" fill="#e2dad5"/><circle cx="108.0" cy="213.8" r="1.50" fill="#e1dad6"/><circle cx="236.2" cy="203.4" r="1.50" fill="#f0cdbb"/><circle cx="166.2" cy="199.9" r="1.50" fill="#ead5c9"/><circle cx="131.6" cy="194.7" r="1.50" fill="#dadce0"/><circle cx="77.7" cy="162.0" r="1.50" fill="#d9dce1"/><circle cx="72.7" cy="265.3" r="1.50" fill="#dbdcde"/><circle cx="137.8" cy="171.4" r="1.50" fill="#dcdddd"/><circle cx="177.5" cy="157.5" r="1.50" fill="#e1dad6"/><circle cx="216.8" cy="110.8" r="1.50" fill="#f7bca1"/><circle cx="89.4" cy="148.0" r="1.50" fill="#dadce0"/><circle cx="210.0" cy="190.4" r="1.50" fill="#e46e56"/><circle cx="119.6" cy="112.6" r="1.50" fill="#e7d7ce"/><circle cx="134.8" cy="140.4" r="1.50" fill="#dcdddd"/><circle cx="99.5" cy="272.6" r="1.50" fill="#e2dad5"/><circle cx="106.4" cy="245.9" r="1.50" fill="#f4c6af"/><circle cx="106.2" cy="138.8" r="1.50" fill="#d7dce3"/><circle cx="108.0" cy="194.5" r="1.50" fill="#dbdcde"/><circle cx="113.0" cy="179.4" r="1.50" fill="#dbdcde"/><circle cx="99.1" cy="190.9" r="1.50" fill="#dedcdb"/><circle cx="218.1" cy="243.4" r="1.50" fill="#d6dce4"/><circle cx="99.3" cy="177.5" r="1.50" fill="#dfdbd9"/><circle cx="229.1" cy="76.0" r="1.50" fill="#f7bca1"/><circle cx="214.1" cy="130.5" r="1.50" fill="#f39475"/><circle cx="167.8" cy="282.1" r="1.50" fill="#e1dad6"/><circle cx="220.6" cy="117.2" r="1.50" fill="#b40426"/><circle cx="82.4" cy="170.0" r="1.50" fill="#dadce0"/><circle cx="191.5" cy="114.2" r="1.50" fill="#dddcdc"/><circle cx="87.5" cy="280.8" r="1.50" fill="#e9d5cb"/><circle cx="98.8" cy="119.8" r="1.50" fill="#e1dad6"/><circle cx="76.0" cy="215.5" r="1.50" fill="#d6dce4"/><circle cx="223.9" cy="165.1" r="1.50" fill="#e5d8d1"/><circle cx="204.0" cy="107.9" r="1.50" fill="#e6d7cf"/><circle cx="164.2" cy="273.4" r="1.50" fill="#e8d6cc"/><circle cx="117.5" cy="236.5" r="1.50" fill="#dddcdc"/><circle cx="83.2" cy="174.0" r="1.50" fill="#dddcdc"/><circle cx="129.3" cy="133.8" r="1.50" fill="#dbdcde"/><circle cx="185.4" cy="148.3" r="1.50" fill="#dadce0"/><circle cx="97.7" cy="235.4" r="1.50" fill="#dedcdb"/><circle cx="246.7" cy="132.9" r="1.50" fill="#f1cdba"/><circle cx="108.3" cy="291.6" r="1.50" fill="#edd2c3"/><circle cx="162.9" cy="149.2" r="1.50" fill="#cbd8ee"/><circle cx="80.8" cy="267.4" r="1.50" fill="#f3c8b2"/><circle cx="177.8" cy="67.3" r="1.50" fill="#e6d7cf"/><circle cx="173.2" cy="259.4" r="1.50" fill="#ead4c8"/><circle cx="88.5" cy="229.9" r="1.50" fill="#dbdcde"/><circle cx="117.3" cy="250.7" r="1.50" fill="#e1dad6"/><circle cx="135.7" cy="256.0" r="1.50" fill="#e6d7cf"/><circle cx="203.5" cy="131.8" r="1.50" fill="#d5dbe5"/><circle cx="174.6" cy="257.7" r="1.50" fill="#e9d5cb"/><circle cx="75.9" cy="132.9" r="1.50" fill="#dbdcde"/><circle cx="131.1" cy="151.6" r="1.50" fill="#d8dce2"/><circle cx="192.9" cy="244.5" r="1.50" fill="#ebd3c6"/><circle cx="133.5" cy="258.3" r="1.50" fill="#e1dad6"/><circle cx="84.6" cy="161.0" r="1.50" fill="#d8dce2"/><circle cx="167.2" cy="195.2" r="1.50" fill="#dfdbd9"/><circle cx="179.4" cy="160.6" r="1.50" fill="#e3d9d3"/><circle cx="154.1" cy="88.5" r="1.50" fill="#e2dad5"/><circle cx="226.7" cy="221.4" r="1.50" fill="#da5a49"/><circle cx="154.2" cy="161.9" r="1.50" fill="#dedcdb"/><circle cx="126.3" cy="135.0" r="1.50" fill="#dfdbd9"/><circle cx="152.0" cy="226.4" r="1.50" fill="#f59f80"/><circle cx="96.4" cy="111.7" r="1.50" fill="#e1dad6"/><circle cx="162.2" cy="279.8" r="1.50" fill="#e6d7cf"/><circle cx="62.5" cy="185.6" r="1.50" fill="#e0dbd8"/><circle cx="157.1" cy="85.4" r="1.50" fill="#e7d7ce"/><circle cx="88.8" cy="162.7" r="1.50" fill="#dddcdc"/><circle cx="145.1" cy="253.7" r="1.50" fill="#f6bda2"/><circle cx="160.3" cy="232.9" r="1.50" fill="#edd2c3"/><circle cx="56.4" cy="311.7" r="1.50" fill="#e5d8d1"/><circle cx="91.9" cy="311.2" r="1.50" fill="#dadce0"/><circle cx="111.0" cy="288.4" r="1.50" fill="#e6d7cf"/><circle cx="188.6" cy="104.9" r="1.50" fill="#cdd9ec"/><circle cx="153.1" cy="273.6" r="1.50" fill="#e2dad5"/><circle cx="179.8" cy="200.8" r="1.50" fill="#f3c8b2"/><circle cx="161.6" cy="299.5" r="1.50" fill="#e2dad5"/><circle cx="239.6" cy="196.5" r="1.50" fill="#efcfbf"/><circle cx="163.0" cy="266.3" r="1.50" fill="#d6dce4"/><circle cx="110.4" cy="132.3" r="1.50" fill="#dcdddd"/><circle cx="210.9" cy="90.5" r="1.50" fill="#f5c0a7"/><circle cx="111.1" cy="170.9" r="1.50" fill="#e1dad6"/><circle cx="176.8" cy="155.1" r="1.50" fill="#dedcdb"/><circle cx="202.6" cy="105.8" r="1.50" fill="#d5dbe5"/><circle cx="98.7" cy="237.4" r="1.50" fill="#f6bda2"/><circle cx="184.2" cy="277.1" r="1.50" fill="#eed0c0"/><circle cx="180.7" cy="247.9" r="1.50" fill="#dcdddd"/><circle cx="73.0" cy="180.8" r="1.50" fill="#e1dad6"/><circle cx="196.8" cy="219.7" r="1.50" fill="#e8d6cc"/><circle cx="151.3" cy="134.6" r="1.50" fill="#cdd9ec"/><circle cx="213.7" cy="154.2" r="1.50" fill="#e6d7cf"/><circle cx="219.1" cy="110.8" r="1.50" fill="#eed0c0"/><circle cx="148.4" cy="112.0" r="1.50" fill="#dedcdb"/><circle cx="218.3" cy="84.6" r="1.50" fill="#e3d9d3"/><circle cx="168.2" cy="234.3" r="1.50" fill="#f3c7b1"/><circle cx="177.7" cy="149.7" r="1.50" fill="#f6bfa6"/><circle cx="146.5" cy="247.4" r="1.50" fill="#e2dad5"/><circle cx="194.7" cy="162.7" r="1.50" fill="#dbdcde"/><circle cx="100.1" cy="191.6" r="1.50" fill="#dddcdc"/><circle cx="98.1" cy="171.6" r="1.50" fill="#e0dbd8"/><circle cx="168.2" cy="256.5" r="1.50" fill="#f3c8b2"/><circle cx="105.5" cy="326.4" r="1.50" fill="#b40426"/><circle cx="193.8" cy="94.1" r="1.50" fill="#a7c5fe"/><circle cx="204.7" cy="246.0" r="1.50" fill="#e4d9d2"/><circle cx="206.6" cy="120.1" r="1.50" fill="#d4dbe6"/><circle cx="160.3" cy="149.1" r="1.50" fill="#e3d9d3"/><circle cx="178.1" cy="134.3" r="1.50" fill="#cbd8ee"/><circle cx="201.5" cy="196.0" r="1.50" fill="#c1d4f4"/><circle cx="190.1" cy="237.6" r="1.50" fill="#f3c7b1"/><circle cx="200.6" cy="61.2" r="1.50" fill="#edd2c3"/><circle cx="125.3" cy="154.0" r="1.50" fill="#dedcdb"/><circle cx="129.4" cy="311.3" r="1.50" fill="#b40426"/><circle cx="97.2" cy="229.2" r="1.50" fill="#f2c9b4"/><circle cx="167.7" cy="252.8" r="1.50" fill="#efcfbf"/><circle cx="232.4" cy="142.6" r="1.50" fill="#e2dad5"/><circle cx="204.6" cy="117.0" r="1.50" fill="#d8dce2"/><circle cx="67.5" cy="142.6" r="1.50" fill="#e7d7ce"/><circle cx="219.4" cy="30.9" r="1.50" fill="#dedcdb"/><circle cx="213.2" cy="121.5" r="1.50" fill="#b40426"/><circle cx="144.7" cy="218.4" r="1.50" fill="#dcdddd"/><circle cx="232.6" cy="159.6" r="1.50" fill="#c1d4f4"/><circle cx="237.2" cy="230.5" r="1.50" fill="#b40426"/><circle cx="191.3" cy="124.6" r="1.50" fill="#ccd9ed"/><circle cx="235.3" cy="136.6" r="1.50" fill="#ead4c8"/><circle cx="126.1" cy="262.9" r="1.50" fill="#e6d7cf"/><circle cx="113.4" cy="149.6" r="1.50" fill="#d4dbe6"/><circle cx="234.4" cy="113.7" r="1.50" fill="#cd423b"/><circle cx="56.1" cy="267.9" r="1.50" fill="#dbdcde"/><circle cx="230.8" cy="180.9" r="1.50" fill="#be242e"/><circle cx="229.8" cy="105.3" r="1.50" fill="#f4c6af"/><circle cx="103.0" cy="289.7" r="1.50" fill="#c9d7f0"/><circle cx="83.2" cy="237.9" r="1.50" fill="#f2c9b4"/><circle cx="135.8" cy="207.5" r="1.50" fill="#f4c5ad"/><circle cx="166.8" cy="176.6" r="1.50" fill="#dadce0"/><circle cx="110.3" cy="278.5" r="1.50" fill="#eed0c0"/><circle cx="186.0" cy="251.0" r="1.50" fill="#e1dad6"/><circle cx="189.1" cy="255.1" r="1.50" fill="#c32e31"/><circle cx="219.0" cy="220.7" r="1.50" fill="#ebd3c6"/><circle cx="229.0" cy="110.7" r="1.50" fill="#e7d7ce"/><circle cx="122.5" cy="277.4" r="1.50" fill="#e1dad6"/><circle cx="63.3" cy="290.8" r="1.50" fill="#e3d9d3"/><circle cx="60.6" cy="262.7" r="1.50" fill="#e3d9d3"/><circle cx="136.3" cy="189.9" r="1.50" fill="#e1dad6"/><circle cx="78.8" cy="243.6" r="1.50" fill="#dddcdc"/><circle cx="210.3" cy="74.6" r="1.50" fill="#e4d9d2"/><circle cx="89.4" cy="234.5" r="1.50" fill="#f7ba9f"/><circle cx="176.3" cy="217.6" r="1.50" fill="#dbdcde"/><circle cx="179.0" cy="120.4" r="1.50" fill="#d7dce3"/><circle cx="146.4" cy="240.2" r="1.50" fill="#f6a283"/><circle cx="227.6" cy="172.8" r="1.50" fill="#f08a6c"/><circle cx="82.7" cy="235.1" r="1.50" fill="#d4dbe6"/><circle cx="140.8" cy="279.4" r="1.50" fill="#edd1c2"/><circle cx="198.2" cy="211.0" r="1.50" fill="#d7dce3"/><circle cx="147.7" cy="69.2" r="1.50" fill="#cad8ef"/><circle cx="90.8" cy="153.4" r="1.50" fill="#d8dce2"/><circle cx="107.3" cy="211.4" r="1.50" fill="#e0dbd8"/><circle cx="150.4" cy="119.7" r="1.50" fill="#dadce0"/><circle cx="116.0" cy="206.2" r="1.50" fill="#e5d8d1"/><circle cx="235.8" cy="76.5" r="1.50" fill="#ead4c8"/><circle cx="167.9" cy="112.3" r="1.50" fill="#d1dae9"/><circle cx="208.3" cy="166.9" r="1.50" fill="#d75445"/><circle cx="201.3" cy="196.7" r="1.50" fill="#f1cdba"/><circle cx="153.2" cy="159.8" r="1.50" fill="#dcdddd"/><circle cx="182.5" cy="160.7" r="1.50" fill="#e3d9d3"/><circle cx="54.9" cy="325.7" r="1.50" fill="#dddcdc"/><circle cx="109.0" cy="204.6" r="1.50" fill="#dddcdc"/><circle cx="195.2" cy="184.4" r="1.50" fill="#edd2c3"/><circle cx="64.0" cy="219.5" r="1.50" fill="#dadce0"/><circle cx="74.8" cy="200.2" r="1.50" fill="#d9dce1"/><circle cx="145.7" cy="274.5" r="1.50" fill="#e9d5cb"/><circle cx="106.7" cy="116.3" r="1.50" fill="#e6d7cf"/><circle cx="139.7" cy="221.8" r="1.50" fill="#e0dbd8"/><circle cx="193.9" cy="157.5" r="1.50" fill="#ecd3c5"/><circle cx="234.3" cy="105.4" r="1.50" fill="#b40426"/><circle cx="220.9" cy="189.3" r="1.50" fill="#b40426"/><circle cx="81.2" cy="170.8" r="1.50" fill="#d7dce3"/><circle cx="154.4" cy="167.0" r="1.50" fill="#e0dbd8"/><circle cx="90.3" cy="188.7" r="1.50" fill="#dedcdb"/><circle cx="167.9" cy="193.5" r="1.50" fill="#e0dbd8"/><circle cx="127.4" cy="235.1" r="1.50" fill="#ead4c8"/><circle cx="108.5" cy="151.5" r="1.50" fill="#e0dbd8"/><circle cx="212.3" cy="74.5" r="1.50" fill="#ead4c8"/><circle cx="197.1" cy="68.3" r="1.50" fill="#f6a283"/><circle cx="56.6" cy="204.0" r="1.50" fill="#e7d7ce"/><circle cx="159.0" cy="175.7" r="1.50" fill="#d3dbe7"/><circle cx="210.3" cy="52.8" r="1.50" fill="#f2cbb7"/><circle cx="96.2" cy="151.9" r="1.50" fill="#dcdddd"/><circle cx="197.3" cy="226.9" r="1.50" fill="#e2dad5"/><circle cx="52.6" cy="186.2" r="1.50" fill="#f4c6af"/><circle cx="80.1" cy="230.9" r="1.50" fill="#ecd3c5"/><circle cx="101.8" cy="156.0" r="1.50" fill="#d9dce1"/><circle cx="84.1" cy="136.3" r="1.50" fill="#c9d7f0"/><circle cx="166.9" cy="87.2" r="1.50" fill="#d9dce1"/><circle cx="140.5" cy="293.2" r="1.50" fill="#d3dbe7"/><circle cx="213.0" cy="222.6" r="1.50" fill="#f1cdba"/><circle cx="134.5" cy="101.0" r="1.50" fill="#e3d9d3"/><circle cx="58.5" cy="346.6" r="1.50" fill="#d85646"/><circle cx="120.5" cy="212.7" r="1.50" fill="#edd2c3"/><circle cx="211.5" cy="71.5" r="1.50" fill="#e5d8d1"/><circle cx="173.8" cy="262.3" r="1.50" fill="#dfdbd9"/><circle cx="183.3" cy="241.6" r="1.50" fill="#e3d9d3"/><circle cx="175.5" cy="240.5" r="1.50" fill="#e6d7cf"/><circle cx="64.3" cy="209.9" r="1.50" fill="#e4d9d2"/><circle cx="121.7" cy="139.9" r="1.50" fill="#dcdddd"/><circle cx="122.6" cy="262.1" r="1.50" fill="#e3d9d3"/><circle cx="207.8" cy="147.6" r="1.50" fill="#ebd3c6"/><circle cx="99.5" cy="327.2" r="1.50" fill="#c0282f"/><circle cx="115.1" cy="196.3" r="1.50" fill="#dadce0"/><circle cx="111.1" cy="105.7" r="1.50" fill="#dedcdb"/><circle cx="79.7" cy="324.7" r="1.50" fill="#e1dad6"/><circle cx="188.0" cy="180.5" r="1.50" fill="#dedcdb"/><circle cx="146.4" cy="168.6" r="1.50" fill="#e0dbd8"/><circle cx="225.9" cy="108.0" r="1.50" fill="#ebd3c6"/><circle cx="195.5" cy="149.7" r="1.50" fill="#dbdcde"/><circle cx="236.9" cy="90.1" r="1.50" fill="#ead4c8"/><circle cx="162.0" cy="96.8" r="1.50" fill="#e1dad6"/><circle cx="90.5" cy="263.3" r="1.50" fill="#f3c8b2"/><circle cx="228.5" cy="181.5" r="1.50" fill="#e5d8d1"/><circle cx="194.5" cy="137.0" r="1.50" fill="#e3d9d3"/><circle cx="103.3" cy="267.2" r="1.50" fill="#e6d7cf"/><circle cx="211.9" cy="253.3" r="1.50" fill="#b5cdfa"/><circle cx="213.1" cy="180.5" r="1.50" fill="#e57058"/><circle cx="135.2" cy="182.0" r="1.50" fill="#dadce0"/><circle cx="100.9" cy="185.0" r="1.50" fill="#dcdddd"/><circle cx="111.9" cy="293.6" r="1.50" fill="#d8dce2"/><circle cx="199.4" cy="206.5" r="1.50" fill="#dadce0"/><circle cx="244.7" cy="213.2" r="1.50" fill="#ebd3c6"/><circle cx="216.9" cy="128.3" r="1.50" fill="#e1dad6"/><circle cx="91.3" cy="336.1" r="1.50" fill="#d1dae9"/><circle cx="153.7" cy="133.1" r="1.50" fill="#b9d0f9"/><circle cx="205.7" cy="219.4" r="1.50" fill="#cf453c"/><circle cx="80.3" cy="169.5" r="1.50" fill="#dadce0"/><circle cx="127.8" cy="175.1" r="1.50" fill="#d9dce1"/><circle cx="207.2" cy="262.4" r="1.50" fill="#c5d6f2"/><circle cx="78.2" cy="187.5" r="1.50" fill="#e4d9d2"/><circle cx="184.3" cy="162.5" r="1.50" fill="#b40426"/><circle cx="144.8" cy="158.2" r="1.50" fill="#dbdcde"/><circle cx="135.8" cy="178.3" r="1.50" fill="#dddcdc"/><circle cx="208.6" cy="166.5" r="1.50" fill="#e0dbd8"/><circle cx="51.2" cy="329.1" r="1.50" fill="#dedcdb"/><circle cx="59.4" cy="168.4" r="1.50" fill="#cf453c"/><circle cx="130.4" cy="188.0" r="1.50" fill="#bad0f8"/><circle cx="239.7" cy="53.9" r="1.50" fill="#d65244"/><circle cx="65.7" cy="156.2" r="1.50" fill="#e0dbd8"/><circle cx="208.7" cy="231.4" r="1.50" fill="#dedcdb"/><circle cx="129.8" cy="119.4" r="1.50" fill="#ead5c9"/><circle cx="150.4" cy="242.6" r="1.50" fill="#edd2c3"/><circle cx="206.3" cy="186.1" r="1.50" fill="#b40426"/><circle cx="205.0" cy="73.5" r="1.50" fill="#c53334"/><circle cx="180.4" cy="102.7" r="1.50" fill="#c5d6f2"/><circle cx="97.9" cy="148.1" r="1.50" fill="#e1dad6"/><circle cx="172.1" cy="137.4" r="1.50" fill="#cfdaea"/><circle cx="104.5" cy="295.7" r="1.50" fill="#c0282f"/><circle cx="225.6" cy="63.8" r="1.50" fill="#e7d7ce"/><circle cx="143.0" cy="123.7" r="1.50" fill="#dedcdb"/><circle cx="145.6" cy="262.8" r="1.50" fill="#ecd3c5"/><circle cx="138.7" cy="101.8" r="1.50" fill="#d9dce1"/><circle cx="106.2" cy="243.5" r="1.50" fill="#ead5c9"/><circle cx="136.4" cy="127.9" r="1.50" fill="#ebd3c6"/><circle cx="156.2" cy="90.7" r="1.50" fill="#d3dbe7"/><circle cx="203.1" cy="152.1" r="1.50" fill="#dbdcde"/><circle cx="73.0" cy="310.7" r="1.50" fill="#e0dbd8"/><circle cx="142.1" cy="133.6" r="1.50" fill="#d5dbe5"/><circle cx="208.1" cy="198.5" r="1.50" fill="#c3d5f4"/><circle cx="112.8" cy="216.5" r="1.50" fill="#d6dce4"/><circle cx="106.2" cy="258.4" r="1.50" fill="#dcdddd"/><circle cx="154.5" cy="201.5" r="1.50" fill="#f7a889"/><circle cx="110.2" cy="276.3" r="1.50" fill="#e26952"/><circle cx="87.1" cy="122.1" r="1.50" fill="#ebd3c6"/><circle cx="216.3" cy="115.0" r="1.50" fill="#f7b89c"/><circle cx="204.6" cy="198.0" r="1.50" fill="#cfdaea"/><circle cx="112.0" cy="248.2" r="1.50" fill="#e0dbd8"/><circle cx="193.4" cy="118.5" r="1.50" fill="#d95847"/><circle cx="136.9" cy="128.9" r="1.50" fill="#e1dad6"/><circle cx="186.3" cy="60.7" r="1.50" fill="#f7b89c"/><circle cx="100.7" cy="245.3" r="1.50" fill="#ead4c8"/><circle cx="186.5" cy="204.4" r="1.50" fill="#dedcdb"/><circle cx="127.9" cy="161.9" r="1.50" fill="#d7dce3"/><circle cx="215.2" cy="108.1" r="1.50" fill="#e0dbd8"/><circle cx="134.5" cy="283.7" r="1.50" fill="#e8d6cc"/><circle cx="58.7" cy="212.5" r="1.50" fill="#e2dad5"/><circle cx="114.4" cy="322.1" r="1.50" fill="#b50927"/><circle cx="146.8" cy="113.3" r="1.50" fill="#dcdddd"/><circle cx="91.5" cy="186.8" r="1.50" fill="#dadce0"/><circle cx="95.3" cy="128.3" r="1.50" fill="#e7d7ce"/><circle cx="111.4" cy="193.9" r="1.50" fill="#dcdddd"/><circle cx="191.1" cy="262.7" r="1.50" fill="#f2cbb7"/><circle cx="91.2" cy="267.1" r="1.50" fill="#e3d9d3"/><circle cx="217.6" cy="268.7" r="1.50" fill="#ccd9ed"/><circle cx="227.2" cy="184.4" r="1.50" fill="#dedcdb"/><circle cx="146.0" cy="198.0" r="1.50" fill="#e2dad5"/><circle cx="112.1" cy="338.5" r="1.50" fill="#d9dce1"/><circle cx="188.4" cy="81.2" r="1.50" fill="#dedcdb"/><circle cx="249.2" cy="168.4" r="1.50" fill="#dcdddd"/><circle cx="169.9" cy="268.9" r="1.50" fill="#e1dad6"/><circle cx="111.6" cy="248.3" r="1.50" fill="#d8dce2"/><circle cx="59.6" cy="133.5" r="1.50" fill="#dddcdc"/><circle cx="135.6" cy="145.6" r="1.50" fill="#c6d6f1"/><circle cx="191.1" cy="284.6" r="1.50" fill="#b40426"/><circle cx="167.6" cy="265.1" r="1.50" fill="#f1ccb8"/><circle cx="93.6" cy="134.3" r="1.50" fill="#d8dce2"/><circle cx="79.6" cy="230.4" r="1.50" fill="#dddcdc"/><circle cx="128.8" cy="216.5" r="1.50" fill="#d7dce3"/><circle cx="86.0" cy="267.5" r="1.50" fill="#ead5c9"/><circle cx="148.9" cy="139.9" r="1.50" fill="#d2dbe8"/><circle cx="121.8" cy="170.0" r="1.50" fill="#dbdcde"/><circle cx="204.6" cy="125.8" r="1.50" fill="#d3dbe7"/><circle cx="158.6" cy="101.0" r="1.50" fill="#d8dce2"/><circle cx="71.4" cy="159.6" r="1.50" fill="#d7dce3"/><circle cx="175.6" cy="149.1" r="1.50" fill="#c5d6f2"/><circle cx="222.9" cy="169.0" r="1.50" fill="#e6d7cf"/><circle cx="132.1" cy="176.3" r="1.50" fill="#e1dad6"/><circle cx="205.5" cy="108.9" r="1.50" fill="#dbdcde"/><circle cx="224.7" cy="230.2" r="1.50" fill="#f5c1a9"/><circle cx="102.3" cy="311.1" r="1.50" fill="#c4d5f3"/><circle cx="70.6" cy="135.1" r="1.50" fill="#e1dad6"/><circle cx="191.6" cy="77.3" r="1.50" fill="#f0cdbb"/><circle cx="144.8" cy="116.0" r="1.50" fill="#dadce0"/><circle cx="207.1" cy="125.8" r="1.50" fill="#e1dad6"/><circle cx="167.1" cy="118.2" r="1.50" fill="#d6dce4"/><circle cx="141.6" cy="265.3" r="1.50" fill="#eed0c0"/><circle cx="216.3" cy="137.0" r="1.50" fill="#f2c9b4"/><circle cx="49.0" cy="142.1" r="1.50" fill="#e2dad5"/><circle cx="96.7" cy="300.8" r="1.50" fill="#ead5c9"/><circle cx="137.3" cy="231.0" r="1.50" fill="#f7b79b"/><circle cx="225.2" cy="198.9" r="1.50" fill="#dcdddd"/><circle cx="116.0" cy="289.3" r="1.50" fill="#d8dce2"/><circle cx="204.1" cy="174.6" r="1.50" fill="#b40426"/><circle cx="85.4" cy="321.0" r="1.50" fill="#dbdcde"/><circle cx="225.7" cy="91.5" r="1.50" fill="#f2cbb7"/><circle cx="229.7" cy="119.9" r="1.50" fill="#d2dbe8"/><circle cx="109.8" cy="270.6" r="1.50" fill="#e0dbd8"/><circle cx="158.2" cy="80.4" r="1.50" fill="#f0cdbb"/><circle cx="110.8" cy="261.3" r="1.50" fill="#e5d8d1"/><circle cx="193.8" cy="253.8" r="1.50" fill="#b40426"/><circle cx="131.3" cy="250.1" r="1.50" fill="#e9d5cb"/><circle cx="144.0" cy="281.6" r="1.50" fill="#f0cdbb"/><circle cx="161.4" cy="237.4" r="1.50" fill="#f6a586"/><circle cx="94.4" cy="188.6" r="1.50" fill="#f1cdba"/><circle cx="151.2" cy="178.2" r="1.50" fill="#ead4c8"/><circle cx="46.7" cy="235.3" r="1.50" fill="#e3d9d3"/><circle cx="190.4" cy="280.9" r="1.50" fill="#ca3b37"/><circle cx="56.9" cy="158.1" r="1.50" fill="#ba162b"/><circle cx="136.7" cy="130.9" r="1.50" fill="#e1dad6"/><circle cx="168.0" cy="252.6" r="1.50" fill="#e4d9d2"/><circle cx="136.0" cy="279.8" r="1.50" fill="#e2dad5"/><circle cx="102.8" cy="147.4" r="1.50" fill="#dddcdc"/><circle cx="122.0" cy="266.8" r="1.50" fill="#e0dbd8"/><circle cx="100.1" cy="112.8" r="1.50" fill="#e2dad5"/><circle cx="195.0" cy="257.0" r="1.50" fill="#edd1c2"/><circle cx="116.2" cy="260.8" r="1.50" fill="#dcdddd"/><circle cx="227.3" cy="172.8" r="1.50" fill="#cbd8ee"/><circle cx="142.8" cy="153.6" r="1.50" fill="#d9dce1"/><circle cx="134.9" cy="134.5" r="1.50" fill="#e6d7cf"/><circle cx="186.9" cy="168.8" r="1.50" fill="#ead5c9"/><circle cx="164.3" cy="144.3" r="1.50" fill="#dcdddd"/><circle cx="181.1" cy="146.9" r="1.50" fill="#e5d8d1"/><circle cx="180.1" cy="137.6" r="1.50" fill="#e5d8d1"/><circle cx="201.6" cy="102.4" r="1.50" fill="#d5dbe5"/><circle cx="182.8" cy="165.8" r="1.50" fill="#e9d5cb"/><circle cx="196.0" cy="67.2" r="1.50" fill="#e2dad5"/><circle cx="220.2" cy="61.2" r="1.50" fill="#ebd3c6"/><circle cx="144.3" cy="290.3" r="1.50" fill="#ead4c8"/><circle cx="207.7" cy="157.3" r="1.50" fill="#ecd3c5"/><circle cx="83.8" cy="283.2" r="1.50" fill="#e9d5cb"/><circle cx="93.4" cy="292.5" r="1.50" fill="#dedcdb"/><circle cx="124.3" cy="95.4" r="1.50" fill="#e7d7ce"/><circle cx="95.7" cy="236.5" r="1.50" fill="#f5c4ac"/><circle cx="52.0" cy="332.9" r="1.50" fill="#e2dad5"/><circle cx="251.9" cy="232.5" r="1.50" fill="#e8d6cc"/><circle cx="145.4" cy="139.1" r="1.50" fill="#d7dce3"/><circle cx="71.4" cy="181.3" r="1.50" fill="#e4d9d2"/><circle cx="158.2" cy="93.3" r="1.50" fill="#dddcdc"/><circle cx="221.5" cy="63.9" r="1.50" fill="#f3c8b2"/><circle cx="63.8" cy="245.9" r="1.50" fill="#efcfbf"/><circle cx="127.4" cy="288.9" r="1.50" fill="#ebd3c6"/><circle cx="178.4" cy="228.4" r="1.50" fill="#e6d7cf"/><circle cx="109.5" cy="112.3" r="1.50" fill="#d9dce1"/><circle cx="165.4" cy="215.0" r="1.50" fill="#d3dbe7"/><circle cx="51.9" cy="121.1" r="1.50" fill="#d9dce1"/><circle cx="89.4" cy="117.4" r="1.50" fill="#e2dad5"/><circle cx="195.5" cy="233.0" r="1.50" fill="#e2dad5"/><circle cx="186.3" cy="195.1" r="1.50" fill="#dadce0"/><circle cx="97.5" cy="203.0" r="1.50" fill="#dadce0"/><circle cx="141.8" cy="268.2" r="1.50" fill="#f2cbb7"/><circle cx="70.0" cy="148.3" r="1.50" fill="#dddcdc"/><circle cx="228.8" cy="49.8" r="1.50" fill="#edd2c3"/><circle cx="63.3" cy="176.1" r="1.50" fill="#e0dbd8"/><circle cx="176.4" cy="69.5" r="1.50" fill="#b40426"/><circle cx="101.3" cy="193.5" r="1.50" fill="#e1dad6"/><circle cx="79.2" cy="248.0" r="1.50" fill="#f7b396"/><circle cx="139.4" cy="166.3" r="1.50" fill="#cbd8ee"/><circle cx="192.6" cy="73.3" r="1.50" fill="#d44e41"/><circle cx="208.2" cy="187.7" r="1.50" fill="#e1dad6"/><circle cx="131.9" cy="224.6" r="1.50" fill="#f3c7b1"/><circle cx="220.7" cy="107.8" r="1.50" fill="#e8d6cc"/><circle cx="242.2" cy="58.2" r="1.50" fill="#f08b6e"/><circle cx="118.7" cy="240.0" r="1.50" fill="#c5d6f2"/><circle cx="89.8" cy="138.7" r="1.50" fill="#dbdcde"/><circle cx="135.8" cy="274.6" r="1.50" fill="#edd1c2"/><circle cx="106.4" cy="220.2" r="1.50" fill="#e5d8d1"/><circle cx="158.7" cy="185.2" r="1.50" fill="#efcebd"/><circle cx="185.9" cy="165.1" r="1.50" fill="#e2dad5"/><circle cx="118.0" cy="166.2" r="1.50" fill="#d7dce3"/><circle cx="215.9" cy="189.3" r="1.50" fill="#dddcdc"/><circle cx="201.9" cy="248.4" r="1.50" fill="#d6dce4"/><circle cx="206.5" cy="253.4" r="1.50" fill="#afcafc"/><circle cx="117.7" cy="187.0" r="1.50" fill="#dadce0"/><circle cx="201.6" cy="252.1" r="1.50" fill="#dfdbd9"/><circle cx="140.9" cy="199.3" r="1.50" fill="#e1dad6"/><circle cx="143.3" cy="176.3" r="1.50" fill="#e0dbd8"/><circle cx="220.7" cy="220.9" r="1.50" fill="#dfdbd9"/><circle cx="223.1" cy="84.7" r="1.50" fill="#e3d9d3"/><circle cx="184.4" cy="184.6" r="1.50" fill="#dedcdb"/><circle cx="194.4" cy="72.9" r="1.50" fill="#b40426"/><circle cx="175.7" cy="240.8" r="1.50" fill="#e5d8d1"/><circle cx="121.3" cy="255.6" r="1.50" fill="#dedcdb"/><circle cx="222.2" cy="55.5" r="1.50" fill="#f2cbb7"/><circle cx="219.1" cy="92.5" r="1.50" fill="#cbd8ee"/><circle cx="157.4" cy="147.6" r="1.50" fill="#d2dbe8"/><circle cx="176.1" cy="144.1" r="1.50" fill="#d9dce1"/><circle cx="69.5" cy="332.4" r="1.50" fill="#d3dbe7"/><circle cx="115.4" cy="125.0" r="1.50" fill="#e8d6cc"/><circle cx="52.4" cy="135.5" r="1.50" fill="#dedcdb"/><circle cx="101.8" cy="185.1" r="1.50" fill="#dadce0"/><circle cx="60.5" cy="280.6" r="1.50" fill="#f5c4ac"/><circle cx="140.0" cy="163.4" r="1.50" fill="#dddcdc"/><circle cx="152.4" cy="216.8" r="1.50" fill="#f0cdbb"/><circle cx="89.5" cy="305.3" r="1.50" fill="#d2dbe8"/><circle cx="132.4" cy="157.7" r="1.50" fill="#d4dbe6"/><circle cx="192.6" cy="130.9" r="1.50" fill="#dddcdc"/><circle cx="182.6" cy="130.4" r="1.50" fill="#d1dae9"/><circle cx="232.9" cy="56.4" r="1.50" fill="#e1dad6"/><circle cx="90.3" cy="252.9" r="1.50" fill="#e7d7ce"/><circle cx="198.3" cy="152.0" r="1.50" fill="#dddcdc"/><circle cx="176.8" cy="257.8" r="1.50" fill="#e3d9d3"/><circle cx="124.7" cy="174.8" r="1.50" fill="#e0dbd8"/><circle cx="209.2" cy="114.1" r="1.50" fill="#dfdbd9"/><circle cx="203.0" cy="67.4" r="1.50" fill="#f2cbb7"/><circle cx="235.8" cy="145.8" r="1.50" fill="#ead5c9"/><circle cx="242.1" cy="107.9" r="1.50" fill="#f2cab5"/><circle cx="133.7" cy="183.0" r="1.50" fill="#dfdbd9"/><circle cx="74.9" cy="186.7" r="1.50" fill="#e0dbd8"/><circle cx="152.0" cy="231.4" r="1.50" fill="#dcdddd"/><circle cx="91.5" cy="190.1" r="1.50" fill="#dfdbd9"/><circle cx="203.2" cy="89.3" r="1.50" fill="#ecd3c5"/><circle cx="217.4" cy="100.0" r="1.50" fill="#e0dbd8"/><circle cx="59.6" cy="215.4" r="1.50" fill="#dddcdc"/><circle cx="132.9" cy="157.6" r="1.50" fill="#d9dce1"/><circle cx="205.1" cy="133.5" r="1.50" fill="#cdd9ec"/><circle cx="93.2" cy="129.9" r="1.50" fill="#e3d9d3"/><circle cx="136.4" cy="195.6" r="1.50" fill="#e3d9d3"/><circle cx="114.3" cy="116.6" r="1.50" fill="#dbdcde"/><circle cx="187.4" cy="146.3" r="1.50" fill="#e4d9d2"/><circle cx="54.6" cy="258.7" r="1.50" fill="#e5d8d1"/><circle cx="82.3" cy="258.7" r="1.50" fill="#e3d9d3"/><circle cx="117.3" cy="204.6" r="1.50" fill="#dcdddd"/><circle cx="70.6" cy="323.1" r="1.50" fill="#e7d7ce"/><circle cx="100.8" cy="304.1" r="1.50" fill="#9abbff"/><circle cx="93.9" cy="205.9" r="1.50" fill="#ebd3c6"/><circle cx="192.8" cy="69.8" r="1.50" fill="#df634e"/><circle cx="175.7" cy="243.8" r="1.50" fill="#e9d5cb"/><circle cx="115.8" cy="206.3" r="1.50" fill="#c6d6f1"/><circle cx="205.0" cy="62.9" r="1.50" fill="#e1dad6"/><circle cx="177.6" cy="179.3" r="1.50" fill="#e6d7cf"/><circle cx="183.6" cy="78.1" r="1.50" fill="#b40426"/><circle cx="225.4" cy="202.4" r="1.50" fill="#e4d9d2"/><circle cx="115.8" cy="130.2" r="1.50" fill="#ecd3c5"/><circle cx="107.4" cy="232.8" r="1.50" fill="#ead4c8"/><circle cx="149.3" cy="245.5" r="1.50" fill="#f1ccb8"/><circle cx="210.3" cy="178.0" r="1.50" fill="#cd423b"/><circle cx="103.0" cy="268.1" r="1.50" fill="#e3d9d3"/><circle cx="201.3" cy="64.1" r="1.50" fill="#e16751"/><circle cx="90.5" cy="299.7" r="1.50" fill="#ebd3c6"/><circle cx="119.9" cy="308.9" r="1.50" fill="#e4d9d2"/><circle cx="177.9" cy="161.7" r="1.50" fill="#f4c6af"/><circle cx="208.4" cy="91.9" r="1.50" fill="#e9d5cb"/><circle cx="192.2" cy="70.4" r="1.50" fill="#efcfbf"/><circle cx="79.6" cy="187.0" r="1.50" fill="#dddcdc"/><circle cx="245.5" cy="95.0" r="1.50" fill="#eed0c0"/><circle cx="192.4" cy="247.4" r="1.50" fill="#f2cbb7"/><circle cx="161.3" cy="95.9" r="1.50" fill="#e2dad5"/><circle cx="62.2" cy="181.3" r="1.50" fill="#dddcdc"/><circle cx="199.9" cy="193.5" r="1.50" fill="#e1dad6"/><circle cx="197.6" cy="277.0" r="1.50" fill="#b40426"/><circle cx="87.7" cy="197.0" r="1.50" fill="#d7dce3"/><circle cx="240.2" cy="111.8" r="1.50" fill="#d24b40"/><circle cx="158.9" cy="140.1" r="1.50" fill="#d2dbe8"/><circle cx="105.2" cy="269.5" r="1.50" fill="#e1dad6"/><circle cx="165.3" cy="185.1" r="1.50" fill="#e5d8d1"/><circle cx="221.3" cy="112.0" r="1.50" fill="#f0cdbb"/><circle cx="171.0" cy="68.4" r="1.50" fill="#d2dbe8"/><circle cx="165.4" cy="240.3" r="1.50" fill="#efcebd"/><circle cx="175.5" cy="197.1" r="1.50" fill="#dfdbd9"/><circle cx="195.1" cy="66.7" r="1.50" fill="#f5c1a9"/><circle cx="114.4" cy="276.0" r="1.50" fill="#d7dce3"/><circle cx="92.9" cy="137.1" r="1.50" fill="#e1dad6"/><circle cx="105.9" cy="293.0" r="1.50" fill="#cdd9ec"/><circle cx="136.1" cy="206.4" r="1.50" fill="#dedcdb"/><circle cx="228.4" cy="242.3" r="1.50" fill="#b40426"/><circle cx="67.6" cy="176.7" r="1.50" fill="#dfdbd9"/><circle cx="214.5" cy="176.5" r="1.50" fill="#e8d6cc"/><circle cx="206.2" cy="207.1" r="1.50" fill="#9ebeff"/><circle cx="164.0" cy="145.1" r="1.50" fill="#d3dbe7"/><circle cx="204.9" cy="140.3" r="1.50" fill="#cedaeb"/><circle cx="79.1" cy="298.0" r="1.50" fill="#dfdbd9"/><circle cx="233.3" cy="191.0" r="1.50" fill="#f5c1a9"/><circle cx="140.7" cy="251.2" r="1.50" fill="#f7a889"/><circle cx="204.4" cy="174.8" r="1.50" fill="#efcebd"/><circle cx="159.0" cy="139.6" r="1.50" fill="#dedcdb"/><circle cx="220.0" cy="135.2" r="1.50" fill="#d9dce1"/><circle cx="212.9" cy="161.9" r="1.50" fill="#dedcdb"/><circle cx="164.5" cy="244.5" r="1.50" fill="#f5c4ac"/><circle cx="117.2" cy="257.3" r="1.50" fill="#dddcdc"/><circle cx="51.9" cy="202.3" r="1.50" fill="#f4c6af"/><circle cx="195.1" cy="171.2" r="1.50" fill="#c43032"/><circle cx="222.6" cy="123.7" r="1.50" fill="#cf453c"/><circle cx="138.7" cy="198.0" r="1.50" fill="#e8d6cc"/><circle cx="179.9" cy="182.1" r="1.50" fill="#ecd3c5"/><circle cx="250.6" cy="75.5" r="1.50" fill="#f2cab5"/><circle cx="165.0" cy="288.4" r="1.50" fill="#b2ccfb"/><circle cx="233.0" cy="142.7" r="1.50" fill="#dedcdb"/><circle cx="199.8" cy="199.6" r="1.50" fill="#d7dce3"/><circle cx="112.3" cy="267.7" r="1.50" fill="#ecd3c5"/><circle cx="197.4" cy="85.5" r="1.50" fill="#edd2c3"/><circle cx="143.1" cy="110.6" r="1.50" fill="#dadce0"/><circle cx="172.7" cy="95.1" r="1.50" fill="#cdd9ec"/><circle cx="98.2" cy="274.8" r="1.50" fill="#dcdddd"/><circle cx="87.7" cy="301.9" r="1.50" fill="#dcdddd"/><circle cx="238.4" cy="184.0" r="1.50" fill="#edd2c3"/><circle cx="177.0" cy="106.7" r="1.50" fill="#a3c2fe"/><circle cx="100.0" cy="323.2" r="1.50" fill="#dadce0"/><circle cx="202.2" cy="169.2" r="1.50" fill="#e3d9d3"/><circle cx="212.2" cy="141.9" r="1.50" fill="#ead5c9"/><circle cx="111.1" cy="231.4" r="1.50" fill="#ebd3c6"/><circle cx="106.5" cy="263.9" r="1.50" fill="#e3d9d3"/><circle cx="147.2" cy="98.0" r="1.50" fill="#dcdddd"/><circle cx="174.9" cy="63.7" r="1.50" fill="#d3dbe7"/><circle cx="68.6" cy="124.0" r="1.50" fill="#d9dce1"/><circle cx="101.3" cy="284.6" r="1.50" fill="#f1cdba"/><circle cx="219.8" cy="61.1" r="1.50" fill="#f2c9b4"/><circle cx="67.5" cy="271.3" r="1.50" fill="#eb7d62"/><circle cx="184.5" cy="88.5" r="1.50" fill="#f6bea4"/><circle cx="204.7" cy="87.8" r="1.50" fill="#d4dbe6"/><circle cx="90.8" cy="256.7" r="1.50" fill="#e2dad5"/><circle cx="117.0" cy="206.2" r="1.50" fill="#e1dad6"/><circle cx="197.7" cy="50.8" r="1.50" fill="#edd1c2"/><circle cx="131.5" cy="175.2" r="1.50" fill="#dcdddd"/><circle cx="63.9" cy="169.1" r="1.50" fill="#dddcdc"/><circle cx="224.0" cy="71.6" r="1.50" fill="#e1dad6"/><circle cx="82.2" cy="206.0" r="1.50" fill="#e9d5cb"/><circle cx="181.8" cy="63.2" r="1.50" fill="#f4987a"/><circle cx="157.3" cy="134.5" r="1.50" fill="#d7dce3"/><circle cx="162.1" cy="119.2" r="1.50" fill="#dddcdc"/><circle cx="164.4" cy="104.0" r="1.50" fill="#dcdddd"/><circle cx="121.9" cy="186.1" r="1.50" fill="#dadce0"/><circle cx="160.4" cy="242.1" r="1.50" fill="#f5a081"/><circle cx="59.7" cy="184.3" r="1.50" fill="#e2dad5"/><circle cx="104.1" cy="215.5" r="1.50" fill="#d5dbe5"/><circle cx="110.6" cy="103.1" r="1.50" fill="#e8d6cc"/><circle cx="189.3" cy="161.9" r="1.50" fill="#f2cbb7"/><circle cx="86.0" cy="182.7" r="1.50" fill="#f1ccb8"/><circle cx="220.4" cy="56.4" r="1.50" fill="#ead4c8"/><circle cx="66.6" cy="255.0" r="1.50" fill="#b40426"/><circle cx="94.4" cy="124.0" r="1.50" fill="#e0dbd8"/><circle cx="230.1" cy="123.3" r="1.50" fill="#da5a49"/><circle cx="116.8" cy="161.6" r="1.50" fill="#dbdcde"/><circle cx="180.4" cy="102.8" r="1.50" fill="#96b7ff"/><circle cx="157.9" cy="150.1" r="1.50" fill="#d3dbe7"/><circle cx="148.1" cy="197.0" r="1.50" fill="#edd1c2"/><circle cx="194.5" cy="247.3" r="1.50" fill="#e4d9d2"/><circle cx="69.6" cy="274.8" r="1.50" fill="#e5d8d1"/><circle cx="97.5" cy="143.6" r="1.50" fill="#dbdcde"/><circle cx="93.9" cy="261.3" r="1.50" fill="#e9d5cb"/><circle cx="122.2" cy="211.0" r="1.50" fill="#e0dbd8"/><circle cx="190.9" cy="276.4" r="1.50" fill="#b40426"/><circle cx="153.9" cy="96.6" r="1.50" fill="#d2dbe8"/><circle cx="207.5" cy="169.0" r="1.50" fill="#d75445"/><circle cx="199.8" cy="61.2" r="1.50" fill="#f2cbb7"/><circle cx="146.6" cy="245.3" r="1.50" fill="#f5c4ac"/><circle cx="195.4" cy="107.5" r="1.50" fill="#dadce0"/><circle cx="167.0" cy="210.8" r="1.50" fill="#e6d7cf"/><circle cx="75.8" cy="287.1" r="1.50" fill="#d4dbe6"/><circle cx="112.2" cy="262.3" r="1.50" fill="#e1dad6"/><circle cx="198.4" cy="83.2" r="1.50" fill="#ecd3c5"/><circle cx="110.9" cy="190.9" r="1.50" fill="#d4dbe6"/><circle cx="217.7" cy="243.9" r="1.50" fill="#cedaeb"/><circle cx="115.7" cy="334.3" r="1.50" fill="#e4d9d2"/><circle cx="133.6" cy="167.3" r="1.50" fill="#e1dad6"/><circle cx="196.1" cy="79.4" r="1.50" fill="#efcfbf"/><circle cx="178.3" cy="135.5" r="1.50" fill="#cfdaea"/><circle cx="184.7" cy="98.4" r="1.50" fill="#92b4fe"/><circle cx="60.9" cy="161.9" r="1.50" fill="#b40426"/><circle cx="133.3" cy="139.1" r="1.50" fill="#d9dce1"/><circle cx="212.3" cy="86.6" r="1.50" fill="#d9dce1"/><circle cx="128.3" cy="195.5" r="1.50" fill="#e4d9d2"/><circle cx="133.4" cy="120.0" r="1.50" fill="#e2dad5"/><circle cx="151.2" cy="195.3" r="1.50" fill="#e3d9d3"/><circle cx="65.2" cy="193.6" r="1.50" fill="#dadce0"/><circle cx="129.0" cy="113.9" r="1.50" fill="#dfdbd9"/><circle cx="210.3" cy="88.8" r="1.50" fill="#e6d7cf"/><circle cx="137.6" cy="295.2" r="1.50" fill="#e4d9d2"/><circle cx="176.2" cy="123.6" r="1.50" fill="#cedaeb"/><circle cx="220.5" cy="132.5" r="1.50" fill="#d9dce1"/><circle cx="57.8" cy="314.8" r="1.50" fill="#ccd9ed"/><circle cx="230.3" cy="269.8" r="1.50" fill="#dadce0"/><circle cx="203.3" cy="69.6" r="1.50" fill="#edd2c3"/><circle cx="78.9" cy="271.4" r="1.50" fill="#e2dad5"/><circle cx="199.4" cy="98.3" r="1.50" fill="#d4dbe6"/><circle cx="133.7" cy="281.6" r="1.50" fill="#ead5c9"/><circle cx="119.1" cy="301.2" r="1.50" fill="#ead5c9"/><circle cx="148.0" cy="120.0" r="1.50" fill="#e1dad6"/><circle cx="74.8" cy="211.6" r="1.50" fill="#dedcdb"/><circle cx="81.7" cy="135.8" r="1.50" fill="#dbdcde"/><circle cx="151.9" cy="77.9" r="1.50" fill="#e5d8d1"/><circle cx="217.6" cy="118.4" r="1.50" fill="#f18d6f"/><circle cx="154.7" cy="204.1" r="1.50" fill="#f1cdba"/><circle cx="87.8" cy="280.9" r="1.50" fill="#e8d6cc"/><circle cx="116.9" cy="171.1" r="1.50" fill="#d9dce1"/><circle cx="140.3" cy="185.5" r="1.50" fill="#d6dce4"/><circle cx="52.5" cy="301.7" r="1.50" fill="#e2dad5"/><circle cx="67.5" cy="313.4" r="1.50" fill="#dbdcde"/><circle cx="164.8" cy="245.0" r="1.50" fill="#e9d5cb"/><circle cx="189.1" cy="141.6" r="1.50" fill="#d3dbe7"/><circle cx="60.0" cy="228.4" r="1.50" fill="#dddcdc"/><circle cx="110.6" cy="313.4" r="1.50" fill="#b40426"/><circle cx="99.1" cy="205.7" r="1.50" fill="#dcdddd"/><circle cx="132.1" cy="285.6" r="1.50" fill="#dbdcde"/><circle cx="71.4" cy="237.9" r="1.50" fill="#ead5c9"/><circle cx="203.1" cy="141.2" r="1.50" fill="#d8dce2"/><circle cx="160.8" cy="103.0" r="1.50" fill="#d9dce1"/><circle cx="166.5" cy="93.1" r="1.50" fill="#d6dce4"/><circle cx="107.2" cy="301.2" r="1.50" fill="#b3cdfb"/><circle cx="61.0" cy="181.7" r="1.50" fill="#e5d8d1"/><circle cx="166.0" cy="194.4" r="1.50" fill="#e5d8d1"/><circle cx="219.3" cy="125.4" r="1.50" fill="#f1ccb8"/><circle cx="218.3" cy="122.5" r="1.50" fill="#f7b89c"/><circle cx="147.5" cy="222.1" r="1.50" fill="#d8dce2"/><circle cx="55.9" cy="208.0" r="1.50" fill="#e9d5cb"/><circle cx="234.8" cy="243.3" r="1.50" fill="#e5d8d1"/><circle cx="130.0" cy="285.8" r="1.50" fill="#dddcdc"/><circle cx="161.5" cy="95.5" r="1.50" fill="#e5d8d1"/><circle cx="56.3" cy="239.0" r="1.50" fill="#cedaeb"/><circle cx="88.9" cy="208.1" r="1.50" fill="#d9dce1"/><circle cx="192.2" cy="283.3" r="1.50" fill="#dd5f4b"/><circle cx="108.3" cy="139.1" r="1.50" fill="#e0dbd8"/><circle cx="114.0" cy="164.4" r="1.50" fill="#dadce0"/><circle cx="66.0" cy="194.2" r="1.50" fill="#d9dce1"/><circle cx="191.4" cy="139.0" r="1.50" fill="#dddcdc"/><circle cx="112.0" cy="212.0" r="1.50" fill="#e1dad6"/><circle cx="107.5" cy="165.6" r="1.50" fill="#e5d8d1"/><circle cx="220.2" cy="92.1" r="1.50" fill="#efcfbf"/><circle cx="95.2" cy="247.0" r="1.50" fill="#eed0c0"/><circle cx="157.6" cy="98.5" r="1.50" fill="#c4d5f3"/><circle cx="107.3" cy="115.1" r="1.50" fill="#e7d7ce"/><circle cx="162.0" cy="277.3" r="1.50" fill="#ead5c9"/><circle cx="108.1" cy="153.9" r="1.50" fill="#e2dad5"/><circle cx="135.0" cy="112.5" r="1.50" fill="#dddcdc"/><circle cx="157.9" cy="173.9" r="1.50" fill="#e1dad6"/><circle cx="191.1" cy="208.8" r="1.50" fill="#dcdddd"/><circle cx="103.7" cy="173.8" r="1.50" fill="#e0dbd8"/><circle cx="132.2" cy="114.6" r="1.50" fill="#e0dbd8"/><circle cx="210.1" cy="90.5" r="1.50" fill="#d9dce1"/><circle cx="160.3" cy="236.8" r="1.50" fill="#f6bfa6"/><circle cx="103.7" cy="297.9" r="1.50" fill="#aac7fd"/><circle cx="216.6" cy="128.4" r="1.50" fill="#ee8669"/><circle cx="200.3" cy="212.5" r="1.50" fill="#cfdaea"/><circle cx="77.8" cy="221.9" r="1.50" fill="#dadce0"/><circle cx="186.2" cy="226.3" r="1.50" fill="#e0dbd8"/><circle cx="161.0" cy="254.4" r="1.50" fill="#f4c6af"/><circle cx="106.0" cy="219.4" r="1.50" fill="#d6dce4"/><circle cx="200.8" cy="129.8" r="1.50" fill="#b6cefa"/><circle cx="141.3" cy="142.7" r="1.50" fill="#d8dce2"/><circle cx="177.2" cy="137.2" r="1.50" fill="#bed2f6"/><circle cx="199.2" cy="222.2" r="1.50" fill="#dcdddd"/><circle cx="157.4" cy="161.6" r="1.50" fill="#c0d4f5"/><circle cx="192.4" cy="167.7" r="1.50" fill="#dfdbd9"/><circle cx="73.6" cy="141.0" r="1.50" fill="#d9dce1"/><circle cx="169.2" cy="227.0" r="1.50" fill="#ecd3c5"/><circle cx="221.5" cy="123.5" r="1.50" fill="#c73635"/><circle cx="230.7" cy="209.2" r="1.50" fill="#edd1c2"/><circle cx="152.5" cy="98.0" r="1.50" fill="#d7dce3"/><circle cx="170.8" cy="147.2" r="1.50" fill="#d5dbe5"/><circle cx="239.1" cy="142.3" r="1.50" fill="#e2dad5"/><circle cx="56.5" cy="155.4" r="1.50" fill="#d9dce1"/><circle cx="184.5" cy="98.1" r="1.50" fill="#e9d5cb"/><circle cx="208.9" cy="166.8" r="1.50" fill="#ebd3c6"/><circle cx="72.8" cy="248.7" r="1.50" fill="#efcfbf"/><circle cx="212.1" cy="141.2" r="1.50" fill="#f1cdba"/><circle cx="169.4" cy="136.0" r="1.50" fill="#bed2f6"/><circle cx="248.4" cy="249.5" r="1.50" fill="#e0dbd8"/><circle cx="232.8" cy="207.2" r="1.50" fill="#dadce0"/><circle cx="105.9" cy="229.1" r="1.50" fill="#c6d6f1"/><circle cx="167.2" cy="274.4" r="1.50" fill="#e2dad5"/><circle cx="60.5" cy="260.9" r="1.50" fill="#f39577"/><circle cx="184.5" cy="159.9" r="1.50" fill="#b40426"/><circle cx="67.8" cy="311.1" r="1.50" fill="#e0dbd8"/><circle cx="112.9" cy="255.0" r="1.50" fill="#e1dad6"/><circle cx="163.8" cy="291.5" r="1.50" fill="#dfdbd9"/><circle cx="139.6" cy="257.2" r="1.50" fill="#f7aa8c"/><circle cx="119.7" cy="275.2" r="1.50" fill="#edd2c3"/><circle cx="175.8" cy="223.8" r="1.50" fill="#e6d7cf"/><circle cx="196.3" cy="228.6" r="1.50" fill="#ead4c8"/><circle cx="122.2" cy="92.5" r="1.50" fill="#dcdddd"/><circle cx="115.3" cy="238.0" r="1.50" fill="#dcdddd"/><circle cx="85.1" cy="131.6" r="1.50" fill="#e3d9d3"/><circle cx="69.4" cy="197.5" r="1.50" fill="#e2dad5"/><circle cx="213.8" cy="185.0" r="1.50" fill="#e9d5cb"/><circle cx="54.3" cy="162.2" r="1.50" fill="#dddcdc"/><circle cx="223.9" cy="233.1" r="1.50" fill="#e9d5cb"/><circle cx="150.7" cy="160.6" r="1.50" fill="#e9d5cb"/><circle cx="174.8" cy="159.4" r="1.50" fill="#ebd3c6"/><circle cx="84.9" cy="303.5" r="1.50" fill="#dedcdb"/><circle cx="150.4" cy="257.7" r="1.50" fill="#f7af91"/><circle cx="193.1" cy="182.6" r="1.50" fill="#f4c6af"/><circle cx="155.8" cy="208.1" r="1.50" fill="#ebd3c6"/><circle cx="184.0" cy="200.9" r="1.50" fill="#dedcdb"/><circle cx="146.8" cy="127.0" r="1.50" fill="#e0dbd8"/><circle cx="104.9" cy="212.4" r="1.50" fill="#e0dbd8"/><circle cx="114.3" cy="132.3" r="1.50" fill="#e1dad6"/><circle cx="114.9" cy="130.1" r="1.50" fill="#dfdbd9"/><circle cx="116.3" cy="182.5" r="1.50" fill="#dbdcde"/><circle cx="149.4" cy="150.4" r="1.50" fill="#cedaeb"/><circle cx="172.3" cy="228.3" r="1.50" fill="#d5dbe5"/><circle cx="223.9" cy="120.9" r="1.50" fill="#dcdddd"/><circle cx="212.1" cy="124.7" r="1.50" fill="#f3c7b1"/><circle cx="227.0" cy="240.9" r="1.50" fill="#e2dad5"/><circle cx="79.0" cy="298.6" r="1.50" fill="#dfdbd9"/><circle cx="123.2" cy="199.3" r="1.50" fill="#f0cdbb"/><circle cx="172.3" cy="88.3" r="1.50" fill="#d3dbe7"/><circle cx="181.5" cy="238.2" r="1.50" fill="#e2dad5"/><circle cx="170.0" cy="240.7" r="1.50" fill="#edd1c2"/><circle cx="53.1" cy="210.8" r="1.50" fill="#e7d7ce"/><circle cx="162.5" cy="94.3" r="1.50" fill="#ccd9ed"/><circle cx="189.5" cy="171.8" r="1.50" fill="#f4c6af"/><circle cx="233.6" cy="233.5" r="1.50" fill="#e67259"/><circle cx="222.3" cy="243.7" r="1.50" fill="#b40426"/><circle cx="200.0" cy="172.9" r="1.50" fill="#f1cdba"/><circle cx="105.8" cy="266.0" r="1.50" fill="#dbdcde"/><circle cx="163.1" cy="228.7" r="1.50" fill="#f7aa8c"/><circle cx="99.4" cy="187.6" r="1.50" fill="#d6dce4"/><circle cx="52.9" cy="218.5" r="1.50" fill="#d9dce1"/><circle cx="238.4" cy="227.8" r="1.50" fill="#cd423b"/><circle cx="223.3" cy="228.2" r="1.50" fill="#dfdbd9"/><circle cx="184.1" cy="99.1" r="1.50" fill="#cbd8ee"/><circle cx="131.8" cy="146.6" r="1.50" fill="#d4dbe6"/><circle cx="69.4" cy="289.6" r="1.50" fill="#e2dad5"/><circle cx="132.0" cy="217.1" r="1.50" fill="#f2cbb7"/><circle cx="148.6" cy="224.7" r="1.50" fill="#dcdddd"/><circle cx="128.8" cy="103.5" r="1.50" fill="#e2dad5"/><circle cx="124.2" cy="290.7" r="1.50" fill="#e1dad6"/><circle cx="79.8" cy="167.3" r="1.50" fill="#e1dad6"/><circle cx="200.5" cy="218.9" r="1.50" fill="#e1dad6"/><circle cx="207.4" cy="200.4" r="1.50" fill="#d3dbe7"/><circle cx="150.1" cy="143.5" r="1.50" fill="#c7d7f0"/><circle cx="102.8" cy="250.6" r="1.50" fill="#e7d7ce"/><circle cx="200.7" cy="91.2" r="1.50" fill="#adc9fd"/><circle cx="171.3" cy="171.3" r="1.50" fill="#e2dad5"/><circle cx="139.4" cy="107.5" r="1.50" fill="#dadce0"/><circle cx="71.0" cy="280.4" r="1.50" fill="#e9d5cb"/><circle cx="217.4" cy="174.2" r="1.50" fill="#eed0c0"/><circle cx="56.8" cy="285.7" r="1.50" fill="#f0cdbb"/><circle cx="128.2" cy="235.1" r="1.50" fill="#dcdddd"/><circle cx="73.0" cy="291.4" r="1.50" fill="#dadce0"/><circle cx="91.7" cy="306.8" r="1.50" fill="#c5d6f2"/><circle cx="98.0" cy="229.1" r="1.50" fill="#dcdddd"/><circle cx="160.3" cy="196.0" r="1.50" fill="#e0dbd8"/><circle cx="86.3" cy="189.7" r="1.50" fill="#dddcdc"/><circle cx="224.5" cy="150.7" r="1.50" fill="#e4d9d2"/><circle cx="116.8" cy="119.1" r="1.50" fill="#d6dce4"/><circle cx="151.1" cy="235.8" r="1.50" fill="#e3d9d3"/><circle cx="192.6" cy="67.1" r="1.50" fill="#f7b396"/><circle cx="164.9" cy="269.9" r="1.50" fill="#ebd3c6"/><circle cx="159.7" cy="204.0" r="1.50" fill="#f6bda2"/><circle cx="114.4" cy="269.9" r="1.50" fill="#ead4c8"/><circle cx="73.8" cy="246.8" r="1.50" fill="#f2c9b4"/><circle cx="116.1" cy="156.5" r="1.50" fill="#d8dce2"/><circle cx="49.2" cy="151.4" r="1.50" fill="#d8dce2"/><circle cx="150.4" cy="227.3" r="1.50" fill="#f7b497"/><circle cx="55.7" cy="187.1" r="1.50" fill="#f7b79b"/><circle cx="162.9" cy="155.5" r="1.50" fill="#dadce0"/><circle cx="200.4" cy="162.7" r="1.50" fill="#b40426"/><circle cx="108.8" cy="232.8" r="1.50" fill="#ead4c8"/><circle cx="177.8" cy="259.1" r="1.50" fill="#dddcdc"/><circle cx="172.1" cy="88.9" r="1.50" fill="#e1dad6"/><circle cx="140.2" cy="172.3" r="1.50" fill="#f5c1a9"/><circle cx="49.5" cy="149.0" r="1.50" fill="#dfdbd9"/><circle cx="148.7" cy="279.7" r="1.50" fill="#f2cab5"/><circle cx="111.3" cy="194.2" r="1.50" fill="#c6d6f1"/><circle cx="142.8" cy="120.4" r="1.50" fill="#d4dbe6"/><circle cx="179.5" cy="250.8" r="1.50" fill="#e7d7ce"/><circle cx="102.1" cy="212.3" r="1.50" fill="#dedcdb"/><circle cx="104.1" cy="247.9" r="1.50" fill="#e0dbd8"/><circle cx="174.5" cy="73.2" r="1.50" fill="#ecd3c5"/><circle cx="192.3" cy="182.1" r="1.50" fill="#a7c5fe"/><circle cx="123.8" cy="286.9" r="1.50" fill="#e7d7ce"/><circle cx="191.1" cy="243.1" r="1.50" fill="#efcebd"/><circle cx="64.4" cy="180.6" r="1.50" fill="#dfdbd9"/><circle cx="93.5" cy="276.7" r="1.50" fill="#e1dad6"/><circle cx="110.3" cy="315.4" r="1.50" fill="#b40426"/><circle cx="164.8" cy="161.9" r="1.50" fill="#e1dad6"/><circle cx="239.4" cy="52.5" r="1.50" fill="#b40426"/><circle cx="212.2" cy="177.8" r="1.50" fill="#ee8669"/><circle cx="206.9" cy="121.0" r="1.50" fill="#dddcdc"/><circle cx="61.2" cy="276.6" r="1.50" fill="#ead5c9"/><circle cx="204.6" cy="64.8" r="1.50" fill="#f7ac8e"/><circle cx="133.1" cy="310.7" r="1.50" fill="#e8d6cc"/><circle cx="232.0" cy="249.2" r="1.50" fill="#ecd3c5"/><circle cx="113.5" cy="271.0" r="1.50" fill="#e3d9d3"/><circle cx="48.1" cy="176.4" r="1.50" fill="#e8d6cc"/><circle cx="58.5" cy="325.4" r="1.50" fill="#dedcdb"/><circle cx="147.4" cy="256.7" r="1.50" fill="#f1cdba"/><circle cx="245.7" cy="118.5" r="1.50" fill="#b40426"/><circle cx="82.9" cy="173.3" r="1.50" fill="#f1cdba"/><circle cx="214.6" cy="251.2" r="1.50" fill="#c1d4f4"/><circle cx="83.1" cy="317.9" r="1.50" fill="#e2dad5"/><circle cx="194.0" cy="113.7" r="1.50" fill="#cfdaea"/><circle cx="238.6" cy="183.0" r="1.50" fill="#f1cdba"/><circle cx="125.2" cy="282.0" r="1.50" fill="#ecd3c5"/><circle cx="52.5" cy="238.0" r="1.50" fill="#e7d7ce"/><circle cx="181.2" cy="256.2" r="1.50" fill="#e6d7cf"/><circle cx="150.3" cy="115.7" r="1.50" fill="#d8dce2"/><circle cx="90.7" cy="196.1" r="1.50" fill="#dddcdc"/><circle cx="111.7" cy="176.3" r="1.50" fill="#dedcdb"/><circle cx="115.8" cy="290.3" r="1.50" fill="#b40426"/><circle cx="160.4" cy="277.5" r="1.50" fill="#cad8ef"/><circle cx="183.0" cy="195.7" r="1.50" fill="#e2dad5"/><circle cx="246.5" cy="189.2" r="1.50" fill="#da5a49"/><circle cx="122.2" cy="196.5" r="1.50" fill="#e0dbd8"/><circle cx="228.3" cy="152.7" r="1.50" fill="#e3d9d3"/><circle cx="166.9" cy="244.4" r="1.50" fill="#f1ccb8"/><circle cx="245.8" cy="66.2" r="1.50" fill="#e5d8d1"/><circle cx="139.5" cy="263.3" r="1.50" fill="#f1cdba"/><circle cx="184.8" cy="79.0" r="1.50" fill="#da5a49"/><circle cx="83.5" cy="222.4" r="1.50" fill="#d8dce2"/><circle cx="206.8" cy="161.7" r="1.50" fill="#edd1c2"/><circle cx="61.1" cy="328.0" r="1.50" fill="#e0dbd8"/><circle cx="157.2" cy="158.1" r="1.50" fill="#e4d9d2"/><circle cx="165.1" cy="77.0" r="1.50" fill="#f7ba9f"/><circle cx="150.8" cy="267.8" r="1.50" fill="#d6dce4"/><circle cx="246.0" cy="101.7" r="1.50" fill="#efcebd"/><circle cx="153.8" cy="139.3" r="1.50" fill="#d5dbe5"/><circle cx="189.1" cy="240.9" r="1.50" fill="#dbdcde"/><circle cx="214.1" cy="85.5" r="1.50" fill="#e0dbd8"/><circle cx="86.7" cy="133.5" r="1.50" fill="#dddcdc"/><circle cx="129.8" cy="127.4" r="1.50" fill="#dcdddd"/><circle cx="126.7" cy="163.7" r="1.50" fill="#d9dce1"/><circle cx="169.2" cy="221.9" r="1.50" fill="#e4d9d2"/><circle cx="217.5" cy="175.1" r="1.50" fill="#f08a6c"/><circle cx="178.4" cy="225.6" r="1.50" fill="#e6d7cf"/><circle cx="172.2" cy="203.2" r="1.50" fill="#e2dad5"/><circle cx="150.6" cy="193.4" r="1.50" fill="#e9d5cb"/><circle cx="59.1" cy="250.3" r="1.50" fill="#ead4c8"/><circle cx="165.8" cy="230.0" r="1.50" fill="#f5c0a7"/><circle cx="173.6" cy="174.1" r="1.50" fill="#e6d7cf"/><circle cx="227.4" cy="247.2" r="1.50" fill="#d85646"/><circle cx="189.7" cy="221.9" r="1.50" fill="#dddcdc"/><circle cx="73.4" cy="141.0" r="1.50" fill="#d9dce1"/><circle cx="133.0" cy="238.1" r="1.50" fill="#f6bda2"/><circle cx="111.8" cy="229.6" r="1.50" fill="#d9dce1"/><circle cx="52.2" cy="327.7" r="1.50" fill="#dadce0"/><circle cx="53.1" cy="200.3" r="1.50" fill="#e4d9d2"/><circle cx="211.0" cy="83.7" r="1.50" fill="#e4d9d2"/><circle cx="164.7" cy="117.9" r="1.50" fill="#c4d5f3"/><circle cx="99.4" cy="106.0" r="1.50" fill="#dddcdc"/><circle cx="125.2" cy="188.4" r="1.50" fill="#e2dad5"/><circle cx="52.1" cy="149.2" r="1.50" fill="#e4d9d2"/><circle cx="181.4" cy="281.1" r="1.50" fill="#efcfbf"/><circle cx="183.0" cy="229.1" r="1.50" fill="#e7d7ce"/><circle cx="144.8" cy="247.4" r="1.50" fill="#e4d9d2"/><circle cx="134.2" cy="277.9" r="1.50" fill="#e2dad5"/><circle cx="52.2" cy="181.1" r="1.50" fill="#dfdbd9"/><circle cx="60.3" cy="136.3" r="1.50" fill="#dcdddd"/><circle cx="117.3" cy="240.0" r="1.50" fill="#e3d9d3"/><circle cx="119.1" cy="295.3" r="1.50" fill="#f08b6e"/><circle cx="231.2" cy="140.3" r="1.50" fill="#e5d8d1"/><circle cx="126.2" cy="96.8" r="1.50" fill="#dedcdb"/><circle cx="123.2" cy="121.1" r="1.50" fill="#d8dce2"/><circle cx="89.7" cy="182.1" r="1.50" fill="#dbdcde"/><circle cx="222.8" cy="139.5" r="1.50" fill="#ebd3c6"/><circle cx="101.3" cy="261.1" r="1.50" fill="#dedcdb"/><circle cx="69.2" cy="298.9" r="1.50" fill="#dadce0"/><circle cx="74.9" cy="150.8" r="1.50" fill="#e7d7ce"/><circle cx="111.5" cy="251.8" r="1.50" fill="#dfdbd9"/><circle cx="205.6" cy="173.6" r="1.50" fill="#b40426"/><circle cx="133.3" cy="119.9" r="1.50" fill="#e4d9d2"/><circle cx="210.1" cy="227.2" r="1.50" fill="#ead5c9"/><circle cx="191.1" cy="282.5" r="1.50" fill="#ecd3c5"/><circle cx="171.5" cy="251.7" r="1.50" fill="#d8dce2"/><circle cx="182.2" cy="79.1" r="1.50" fill="#dcdddd"/><circle cx="235.3" cy="142.5" r="1.50" fill="#dbdcde"/><circle cx="248.9" cy="141.3" r="1.50" fill="#e0dbd8"/><circle cx="228.3" cy="134.5" r="1.50" fill="#e5d8d1"/><circle cx="145.8" cy="125.9" r="1.50" fill="#d9dce1"/><circle cx="236.6" cy="137.6" r="1.50" fill="#dddcdc"/><circle cx="154.0" cy="219.3" r="1.50" fill="#e3d9d3"/><circle cx="245.9" cy="263.8" r="1.50" fill="#dfdbd9"/><circle cx="107.7" cy="177.9" r="1.50" fill="#e3d9d3"/><circle cx="242.0" cy="127.3" r="1.50" fill="#dcdddd"/><circle cx="157.8" cy="100.1" r="1.50" fill="#d9dce1"/><circle cx="111.6" cy="261.8" r="1.50" fill="#dcdddd"/><circle cx="170.3" cy="222.2" r="1.50" fill="#ead5c9"/><circle cx="185.9" cy="243.9" r="1.50" fill="#ead5c9"/><circle cx="105.2" cy="289.0" r="1.50" fill="#d6dce4"/><circle cx="70.1" cy="192.7" r="1.50" fill="#e4d9d2"/><circle cx="51.7" cy="209.1" r="1.50" fill="#e8d6cc"/><circle cx="148.4" cy="141.6" r="1.50" fill="#d1dae9"/><circle cx="214.2" cy="101.2" r="1.50" fill="#ead5c9"/><circle cx="81.8" cy="132.7" r="1.50" fill="#dbdcde"/><circle cx="118.0" cy="147.4" r="1.50" fill="#dcdddd"/><circle cx="207.4" cy="95.2" r="1.50" fill="#dadce0"/><circle cx="92.7" cy="303.9" r="1.50" fill="#e7745b"/><circle cx="250.6" cy="75.1" r="1.50" fill="#e8d6cc"/><circle cx="104.0" cy="199.0" r="1.50" fill="#dadce0"/><circle cx="195.4" cy="133.8" r="1.50" fill="#cad8ef"/><circle cx="208.5" cy="243.9" r="1.50" fill="#cdd9ec"/><circle cx="217.4" cy="36.0" r="1.50" fill="#dcdddd"/><circle cx="176.2" cy="91.0" r="1.50" fill="#d7dce3"/><circle cx="116.1" cy="193.3" r="1.50" fill="#e0dbd8"/><circle cx="208.0" cy="115.6" r="1.50" fill="#e8d6cc"/><circle cx="101.1" cy="204.1" r="1.50" fill="#dedcdb"/><circle cx="85.0" cy="260.3" r="1.50" fill="#dfdbd9"/><circle cx="208.1" cy="231.4" r="1.50" fill="#dddcdc"/><circle cx="69.2" cy="308.6" r="1.50" fill="#d8dce2"/><circle cx="233.6" cy="186.3" r="1.50" fill="#ead5c9"/><circle cx="159.8" cy="237.9" r="1.50" fill="#f7b99e"/><circle cx="91.6" cy="207.1" r="1.50" fill="#dfdbd9"/><circle cx="221.2" cy="59.6" r="1.50" fill="#edd2c3"/><circle cx="194.5" cy="114.1" r="1.50" fill="#d6dce4"/><circle cx="158.5" cy="96.3" r="1.50" fill="#cfdaea"/><circle cx="198.2" cy="70.6" r="1.50" fill="#de614d"/><circle cx="167.8" cy="115.0" r="1.50" fill="#d8dce2"/><circle cx="92.2" cy="188.7" r="1.50" fill="#e0dbd8"/><circle cx="153.8" cy="216.6" r="1.50" fill="#dcdddd"/><circle cx="93.3" cy="187.6" r="1.50" fill="#dddcdc"/><circle cx="231.2" cy="61.3" r="1.50" fill="#f7ba9f"/><circle cx="215.3" cy="178.9" r="1.50" fill="#f2c9b4"/><circle cx="141.1" cy="262.4" r="1.50" fill="#f7b093"/><circle cx="155.0" cy="124.1" r="1.50" fill="#cfdaea"/><circle cx="209.0" cy="186.9" r="1.50" fill="#e2dad5"/><circle cx="122.7" cy="224.1" r="1.50" fill="#e4d9d2"/><circle cx="111.8" cy="236.8" r="1.50" fill="#f2cab5"/><circle cx="211.3" cy="108.5" r="1.50" fill="#f0cdbb"/><circle cx="231.7" cy="111.2" r="1.50" fill="#b40426"/><circle cx="134.8" cy="85.8" r="1.50" fill="#dadce0"/><circle cx="211.3" cy="239.2" r="1.50" fill="#e7d7ce"/><circle cx="96.4" cy="144.7" r="1.50" fill="#dcdddd"/><circle cx="173.2" cy="81.6" r="1.50" fill="#dddcdc"/><circle cx="85.6" cy="244.4" r="1.50" fill="#ebd3c6"/><circle cx="116.7" cy="131.8" r="1.50" fill="#e0dbd8"/><circle cx="175.6" cy="190.7" r="1.50" fill="#e5d8d1"/><circle cx="151.4" cy="239.6" r="1.50" fill="#f0cdbb"/><circle cx="144.7" cy="217.6" r="1.50" fill="#f7b79b"/><circle cx="193.1" cy="217.7" r="1.50" fill="#e7d7ce"/><circle cx="75.8" cy="121.2" r="1.50" fill="#d7dce3"/><circle cx="124.6" cy="251.8" r="1.50" fill="#e1dad6"/><circle cx="204.7" cy="256.5" r="1.50" fill="#c3d5f4"/><circle cx="81.6" cy="192.3" r="1.50" fill="#dcdddd"/><circle cx="204.4" cy="240.3" r="1.50" fill="#dbdcde"/><circle cx="62.2" cy="326.9" r="1.50" fill="#dddcdc"/><circle cx="232.6" cy="218.6" r="1.50" fill="#f4c5ad"/><circle cx="154.9" cy="269.4" r="1.50" fill="#f4987a"/><circle cx="154.9" cy="162.2" r="1.50" fill="#e1dad6"/><circle cx="75.5" cy="169.9" r="1.50" fill="#dddcdc"/><circle cx="215.7" cy="192.9" r="1.50" fill="#e4d9d2"/><circle cx="159.4" cy="114.6" r="1.50" fill="#e0dbd8"/><circle cx="95.2" cy="160.3" r="1.50" fill="#bcd2f7"/><circle cx="216.1" cy="150.0" r="1.50" fill="#f5a081"/><circle cx="196.9" cy="273.4" r="1.50" fill="#dedcdb"/><circle cx="237.5" cy="245.2" r="1.50" fill="#e0dbd8"/><circle cx="100.5" cy="304.3" r="1.50" fill="#dadce0"/><circle cx="152.9" cy="130.1" r="1.50" fill="#dddcdc"/><circle cx="66.2" cy="311.6" r="1.50" fill="#d9dce1"/><circle cx="210.9" cy="246.8" r="1.50" fill="#9bbcff"/><circle cx="58.8" cy="218.1" r="1.50" fill="#d9dce1"/><circle cx="83.2" cy="310.2" r="1.50" fill="#dbdcde"/><circle cx="177.2" cy="177.7" r="1.50" fill="#ebd3c6"/><circle cx="227.9" cy="226.6" r="1.50" fill="#e8d6cc"/><circle cx="116.1" cy="219.0" r="1.50" fill="#dbdcde"/><circle cx="163.0" cy="217.4" r="1.50" fill="#e1dad6"/><circle cx="58.1" cy="205.9" r="1.50" fill="#d8dce2"/><circle cx="88.4" cy="176.1" r="1.50" fill="#dbdcde"/><circle cx="180.7" cy="199.0" r="1.50" fill="#dfdbd9"/><circle cx="78.6" cy="161.2" r="1.50" fill="#dcdddd"/><circle cx="210.8" cy="107.0" r="1.50" fill="#efcebd"/><circle cx="232.8" cy="244.6" r="1.50" fill="#ebd3c6"/><circle cx="228.6" cy="243.4" r="1.50" fill="#e36c55"/><circle cx="95.2" cy="287.1" r="1.50" fill="#dedcdb"/><circle cx="197.8" cy="210.5" r="1.50" fill="#d1dae9"/><circle cx="246.7" cy="259.5" r="1.50" fill="#e3d9d3"/><circle cx="219.5" cy="189.6" r="1.50" fill="#b40426"/><circle cx="82.2" cy="190.1" r="1.50" fill="#dadce0"/><circle cx="164.9" cy="163.0" r="1.50" fill="#e6d7cf"/><circle cx="118.7" cy="297.7" r="1.50" fill="#e1dad6"/><circle cx="178.2" cy="165.4" r="1.50" fill="#f3c8b2"/><circle cx="165.2" cy="137.4" r="1.50" fill="#cdd9ec"/><circle cx="127.8" cy="195.5" r="1.50" fill="#e1dad6"/><circle cx="182.6" cy="74.4" r="1.50" fill="#e3d9d3"/><circle cx="195.0" cy="211.7" r="1.50" fill="#d1dae9"/><circle cx="100.3" cy="206.8" r="1.50" fill="#dcdddd"/><circle cx="62.7" cy="243.1" r="1.50" fill="#e7d7ce"/><circle cx="110.9" cy="173.6" r="1.50" fill="#dfdbd9"/><circle cx="146.7" cy="223.2" r="1.50" fill="#e2dad5"/><circle cx="202.4" cy="59.8" r="1.50" fill="#f5c0a7"/><circle cx="81.2" cy="144.2" r="1.50" fill="#dfdbd9"/><circle cx="183.5" cy="211.5" r="1.50" fill="#d8dce2"/><circle cx="212.1" cy="62.2" r="1.50" fill="#f5c2aa"/><circle cx="202.0" cy="234.0" r="1.50" fill="#d4dbe6"/><circle cx="181.8" cy="80.4" r="1.50" fill="#f7b396"/><circle cx="231.3" cy="230.5" r="1.50" fill="#c73635"/><circle cx="212.3" cy="81.6" r="1.50" fill="#f6a283"/><circle cx="72.2" cy="147.9" r="1.50" fill="#c4d5f3"/><circle cx="110.3" cy="282.9" r="1.50" fill="#cedaeb"/><circle cx="192.5" cy="73.5" r="1.50" fill="#e57058"/><circle cx="76.1" cy="239.9" r="1.50" fill="#f6bea4"/><circle cx="129.7" cy="245.9" r="1.50" fill="#edd2c3"/><circle cx="206.3" cy="134.5" r="1.50" fill="#cfdaea"/><circle cx="220.3" cy="174.6" r="1.50" fill="#f4c6af"/><circle cx="188.5" cy="104.7" r="1.50" fill="#cedaeb"/><circle cx="102.0" cy="163.7" r="1.50" fill="#dcdddd"/><circle cx="200.6" cy="195.0" r="1.50" fill="#d2dbe8"/><circle cx="163.7" cy="102.0" r="1.50" fill="#a6c4fe"/><circle cx="136.9" cy="185.1" r="1.50" fill="#e3d9d3"/><circle cx="156.6" cy="170.8" r="1.50" fill="#e5d8d1"/><circle cx="103.0" cy="286.2" r="1.50" fill="#e6d7cf"/><circle cx="117.3" cy="119.2" r="1.50" fill="#dedcdb"/><circle cx="140.5" cy="129.0" r="1.50" fill="#e3d9d3"/><circle cx="156.0" cy="203.7" r="1.50" fill="#edd1c2"/><circle cx="69.9" cy="268.5" r="1.50" fill="#f7ba9f"/><circle cx="209.4" cy="164.9" r="1.50" fill="#f2cbb7"/><circle cx="190.1" cy="146.2" r="1.50" fill="#c9d7f0"/><circle cx="120.4" cy="162.4" r="1.50" fill="#dadce0"/><circle cx="210.6" cy="197.9" r="1.50" fill="#dedcdb"/><circle cx="127.5" cy="176.3" r="1.50" fill="#d9dce1"/><circle cx="137.2" cy="196.7" r="1.50" fill="#f0cdbb"/><circle cx="114.9" cy="167.4" r="1.50" fill="#dbdcde"/><circle cx="129.0" cy="268.2" r="1.50" fill="#e7d7ce"/><circle cx="89.2" cy="180.5" r="1.50" fill="#dfdbd9"/><circle cx="199.0" cy="181.2" r="1.50" fill="#f6a586"/><circle cx="110.5" cy="183.9" r="1.50" fill="#dcdddd"/><circle cx="198.8" cy="237.1" r="1.50" fill="#c7d7f0"/><circle cx="141.8" cy="161.4" r="1.50" fill="#dcdddd"/><circle cx="119.9" cy="170.9" r="1.50" fill="#d9dce1"/><circle cx="221.4" cy="185.8" r="1.50" fill="#edd2c3"/><circle cx="178.6" cy="186.8" r="1.50" fill="#e0dbd8"/><circle cx="182.2" cy="118.2" r="1.50" fill="#dbdcde"/><circle cx="119.9" cy="194.5" r="1.50" fill="#dddcdc"/><circle cx="133.4" cy="275.7" r="1.50" fill="#efcfbf"/><circle cx="127.7" cy="158.4" r="1.50" fill="#dcdddd"/><circle cx="180.2" cy="124.5" r="1.50" fill="#d2dbe8"/><circle cx="91.1" cy="290.1" r="1.50" fill="#e6d7cf"/><circle cx="160.4" cy="155.1" r="1.50" fill="#c5d6f2"/><circle cx="125.1" cy="218.5" r="1.50" fill="#e7d7ce"/><circle cx="198.9" cy="257.8" r="1.50" fill="#f4c6af"/><circle cx="232.0" cy="183.3" r="1.50" fill="#efcfbf"/><circle cx="145.5" cy="310.9" r="1.50" fill="#b70d28"/><circle cx="249.5" cy="105.6" r="1.50" fill="#e7d7ce"/><circle cx="178.1" cy="166.8" r="1.50" fill="#efcebd"/><circle cx="118.6" cy="105.8" r="1.50" fill="#ead5c9"/><circle cx="73.5" cy="328.2" r="1.50" fill="#d6dce4"/><circle cx="108.5" cy="150.5" r="1.50" fill="#dadce0"/><circle cx="111.2" cy="253.7" r="1.50" fill="#dadce0"/><circle cx="100.9" cy="264.0" r="1.50" fill="#dcdddd"/><circle cx="210.1" cy="146.9" r="1.50" fill="#f5c4ac"/><circle cx="126.4" cy="133.6" r="1.50" fill="#dddcdc"/><circle cx="178.1" cy="193.8" r="1.50" fill="#dddcdc"/><circle cx="136.8" cy="277.5" r="1.50" fill="#e5d8d1"/><circle cx="117.3" cy="129.5" r="1.50" fill="#e7d7ce"/><circle cx="90.2" cy="189.0" r="1.50" fill="#e0dbd8"/><circle cx="194.7" cy="146.2" r="1.50" fill="#cad8ef"/><circle cx="124.6" cy="191.5" r="1.50" fill="#dedcdb"/><circle cx="204.0" cy="159.9" r="1.50" fill="#dcdddd"/><circle cx="135.6" cy="92.1" r="1.50" fill="#ead5c9"/><circle cx="183.0" cy="176.4" r="1.50" fill="#d4dbe6"/><circle cx="176.1" cy="102.4" r="1.50" fill="#cbd8ee"/><circle cx="101.2" cy="309.5" r="1.50" fill="#d3dbe7"/><circle cx="97.3" cy="260.4" r="1.50" fill="#eed0c0"/><circle cx="101.6" cy="231.5" r="1.50" fill="#e7d7ce"/><circle cx="198.6" cy="88.3" r="1.50" fill="#e4d9d2"/><circle cx="82.2" cy="204.8" r="1.50" fill="#d7dce3"/><circle cx="239.5" cy="84.8" r="1.50" fill="#f6bea4"/><circle cx="236.9" cy="261.0" r="1.50" fill="#e2dad5"/><circle cx="209.6" cy="158.9" r="1.50" fill="#f1ccb8"/><circle cx="69.6" cy="137.0" r="1.50" fill="#dddcdc"/><circle cx="146.1" cy="133.5" r="1.50" fill="#d7dce3"/><circle cx="152.0" cy="263.8" r="1.50" fill="#f5c4ac"/><circle cx="215.0" cy="108.5" r="1.50" fill="#e7d7ce"/><circle cx="171.3" cy="124.9" r="1.50" fill="#dddcdc"/><circle cx="177.6" cy="92.0" r="1.50" fill="#d5dbe5"/><circle cx="165.0" cy="228.2" r="1.50" fill="#f7ba9f"/><circle cx="56.1" cy="283.9" r="1.50" fill="#efcfbf"/><circle cx="208.3" cy="209.0" r="1.50" fill="#aac7fd"/><circle cx="178.4" cy="217.7" r="1.50" fill="#e1dad6"/><circle cx="118.4" cy="285.3" r="1.50" fill="#d75445"/><circle cx="231.3" cy="255.4" r="1.50" fill="#cad8ef"/><circle cx="137.0" cy="240.5" r="1.50" fill="#f59f80"/><circle cx="113.2" cy="112.2" r="1.50" fill="#ecd3c5"/><circle cx="176.3" cy="139.5" r="1.50" fill="#b9d0f9"/><circle cx="86.0" cy="318.1" r="1.50" fill="#dcdddd"/><circle cx="102.0" cy="122.2" r="1.50" fill="#e6d7cf"/><circle cx="161.9" cy="159.4" r="1.50" fill="#e1dad6"/><circle cx="207.3" cy="219.5" r="1.50" fill="#dbdcde"/><circle cx="195.0" cy="210.5" r="1.50" fill="#b3cdfb"/><circle cx="77.0" cy="296.4" r="1.50" fill="#e6d7cf"/><circle cx="210.3" cy="118.9" r="1.50" fill="#d2dbe8"/><circle cx="48.0" cy="161.7" r="1.50" fill="#cd423b"/><circle cx="96.1" cy="162.0" r="1.50" fill="#dcdddd"/><circle cx="194.9" cy="71.5" r="1.50" fill="#c73635"/><circle cx="223.1" cy="116.0" r="1.50" fill="#d7dce3"/><circle cx="78.1" cy="185.1" r="1.50" fill="#dadce0"/><circle cx="148.5" cy="282.0" r="1.50" fill="#f2cbb7"/><circle cx="193.2" cy="120.1" r="1.50" fill="#d4dbe6"/><circle cx="234.7" cy="172.9" r="1.50" fill="#e4d9d2"/><circle cx="159.6" cy="216.5" r="1.50" fill="#f29072"/><circle cx="192.7" cy="134.4" r="1.50" fill="#b40426"/><circle cx="107.9" cy="289.7" r="1.50" fill="#b40426"/><circle cx="214.0" cy="246.4" r="1.50" fill="#aec9fc"/><circle cx="131.4" cy="95.8" r="1.50" fill="#d7dce3"/><circle cx="172.2" cy="125.0" r="1.50" fill="#dbdcde"/><circle cx="111.3" cy="231.3" r="1.50" fill="#e3d9d3"/><circle cx="146.0" cy="271.6" r="1.50" fill="#f4c6af"/><circle cx="184.3" cy="93.6" r="1.50" fill="#e2dad5"/><circle cx="214.5" cy="90.9" r="1.50" fill="#e3d9d3"/><circle cx="165.9" cy="236.1" r="1.50" fill="#f2c9b4"/><circle cx="93.2" cy="182.0" r="1.50" fill="#dedcdb"/><circle cx="130.0" cy="224.7" r="1.50" fill="#e4d9d2"/><circle cx="200.0" cy="88.3" r="1.50" fill="#e1dad6"/><circle cx="54.1" cy="141.6" r="1.50" fill="#c53334"/><circle cx="106.8" cy="259.8" r="1.50" fill="#d4dbe6"/><circle cx="230.2" cy="261.3" r="1.50" fill="#e5d8d1"/><circle cx="99.6" cy="326.6" r="1.50" fill="#b40426"/><circle cx="131.3" cy="138.4" r="1.50" fill="#d7dce3"/><circle cx="200.9" cy="104.7" r="1.50" fill="#d9dce1"/><circle cx="64.6" cy="170.1" r="1.50" fill="#dbdcde"/><circle cx="190.6" cy="98.2" r="1.50" fill="#9bbcff"/><circle cx="123.6" cy="320.1" r="1.50" fill="#b40426"/><circle cx="242.0" cy="256.1" r="1.50" fill="#dbdcde"/><circle cx="104.4" cy="334.0" r="1.50" fill="#d5dbe5"/><circle cx="76.2" cy="228.2" r="1.50" fill="#d3dbe7"/><circle cx="206.9" cy="219.3" r="1.50" fill="#cfdaea"/><circle cx="178.5" cy="73.5" r="1.50" fill="#eed0c0"/><circle cx="220.7" cy="241.9" r="1.50" fill="#e3d9d3"/><circle cx="185.0" cy="121.3" r="1.50" fill="#dbdcde"/><circle cx="112.4" cy="179.1" r="1.50" fill="#e1dad6"/><circle cx="117.9" cy="240.1" r="1.50" fill="#e3d9d3"/><circle cx="126.7" cy="265.8" r="1.50" fill="#dbdcde"/><circle cx="91.9" cy="133.3" r="1.50" fill="#dddcdc"/><circle cx="87.8" cy="248.9" r="1.50" fill="#edd2c3"/><circle cx="208.5" cy="96.7" r="1.50" fill="#dbdcde"/><circle cx="173.5" cy="239.5" r="1.50" fill="#d4dbe6"/><circle cx="97.7" cy="326.2" r="1.50" fill="#dfdbd9"/><circle cx="239.1" cy="114.3" r="1.50" fill="#dfdbd9"/><circle cx="135.5" cy="211.3" r="1.50" fill="#f7b599"/><circle cx="68.9" cy="145.1" r="1.50" fill="#dedcdb"/><circle cx="137.0" cy="262.1" r="1.50" fill="#ebd3c6"/><circle cx="178.5" cy="196.4" r="1.50" fill="#e1dad6"/><circle cx="55.5" cy="164.2" r="1.50" fill="#dfdbd9"/><circle cx="118.5" cy="269.6" r="1.50" fill="#e8d6cc"/><circle cx="223.3" cy="190.5" r="1.50" fill="#f3c8b2"/><circle cx="68.5" cy="326.5" r="1.50" fill="#dedcdb"/><circle cx="241.1" cy="265.4" r="1.50" fill="#ccd9ed"/><circle cx="137.8" cy="123.1" r="1.50" fill="#e3d9d3"/><circle cx="179.7" cy="163.3" r="1.50" fill="#e8d6cc"/><circle cx="105.7" cy="302.8" r="1.50" fill="#dedcdb"/><circle cx="225.5" cy="193.7" r="1.50" fill="#ebd3c6"/><circle cx="213.2" cy="92.8" r="1.50" fill="#dbdcde"/><circle cx="60.9" cy="169.9" r="1.50" fill="#d8dce2"/><circle cx="90.3" cy="143.5" r="1.50" fill="#d9dce1"/><circle cx="219.2" cy="131.3" r="1.50" fill="#f7b396"/><circle cx="175.0" cy="135.1" r="1.50" fill="#d8dce2"/><circle cx="128.5" cy="279.9" r="1.50" fill="#dfdbd9"/><circle cx="201.9" cy="262.9" r="1.50" fill="#d4dbe6"/><circle cx="179.0" cy="174.7" r="1.50" fill="#e8d6cc"/><circle cx="145.4" cy="249.6" r="1.50" fill="#f59c7d"/><circle cx="170.1" cy="158.5" r="1.50" fill="#e7d7ce"/><circle cx="56.6" cy="319.5" r="1.50" fill="#dedcdb"/><circle cx="121.7" cy="183.4" r="1.50" fill="#dfdbd9"/><circle cx="150.5" cy="224.3" r="1.50" fill="#ebd3c6"/><circle cx="215.3" cy="97.2" r="1.50" fill="#cfdaea"/><circle cx="176.2" cy="187.5" r="1.50" fill="#eed0c0"/><circle cx="185.0" cy="230.1" r="1.50" fill="#e4d9d2"/><circle cx="247.2" cy="248.5" r="1.50" fill="#e4d9d2"/><circle cx="185.4" cy="284.5" r="1.50" fill="#f0cdbb"/><circle cx="60.8" cy="315.8" r="1.50" fill="#dadce0"/><circle cx="189.6" cy="183.8" r="1.50" fill="#f0cdbb"/><circle cx="215.5" cy="88.8" r="1.50" fill="#e9d5cb"/><circle cx="73.7" cy="132.7" r="1.50" fill="#e3d9d3"/><circle cx="189.5" cy="158.6" r="1.50" fill="#f1cdba"/><circle cx="185.2" cy="122.2" r="1.50" fill="#cbd8ee"/><circle cx="78.2" cy="152.9" r="1.50" fill="#dbdcde"/><circle cx="81.3" cy="203.1" r="1.50" fill="#dadce0"/><circle cx="244.1" cy="206.5" r="1.50" fill="#ecd3c5"/><circle cx="67.9" cy="310.0" r="1.50" fill="#dfdbd9"/><circle cx="240.1" cy="57.2" r="1.50" fill="#f7b89c"/><circle cx="208.8" cy="246.1" r="1.50" fill="#c5d6f2"/><circle cx="209.5" cy="174.6" r="1.50" fill="#dadce0"/><circle cx="228.7" cy="202.7" r="1.50" fill="#ecd3c5"/><circle cx="155.9" cy="265.7" r="1.50" fill="#dddcdc"/><circle cx="219.9" cy="211.6" r="1.50" fill="#dbdcde"/><circle cx="167.4" cy="97.2" r="1.50" fill="#d9dce1"/><circle cx="99.7" cy="314.0" r="1.50" fill="#df634e"/><circle cx="97.8" cy="181.7" r="1.50" fill="#e1dad6"/><circle cx="114.5" cy="189.2" r="1.50" fill="#abc8fd"/><circle cx="243.9" cy="60.9" r="1.50" fill="#f7b89c"/><circle cx="222.7" cy="140.6" r="1.50" fill="#e5d8d1"/><circle cx="176.9" cy="99.7" r="1.50" fill="#adc9fd"/><circle cx="170.9" cy="217.8" r="1.50" fill="#e9d5cb"/><circle cx="113.5" cy="104.0" r="1.50" fill="#ead5c9"/><circle cx="239.1" cy="233.9" r="1.50" fill="#f2cab5"/><circle cx="101.6" cy="223.5" r="1.50" fill="#dfdbd9"/><circle cx="186.1" cy="84.6" r="1.50" fill="#df634e"/><circle cx="125.9" cy="175.0" r="1.50" fill="#dbdcde"/><circle cx="165.2" cy="68.5" r="1.50" fill="#b40426"/><circle cx="61.0" cy="266.1" r="1.50" fill="#f7af91"/><circle cx="147.6" cy="291.6" r="1.50" fill="#e4d9d2"/><circle cx="88.3" cy="125.8" r="1.50" fill="#e7d7ce"/><circle cx="223.8" cy="123.0" r="1.50" fill="#b40426"/><circle cx="196.0" cy="188.5" r="1.50" fill="#e2dad5"/><circle cx="158.4" cy="211.9" r="1.50" fill="#e5d8d1"/><circle cx="130.2" cy="196.0" r="1.50" fill="#f3c8b2"/><circle cx="144.4" cy="138.0" r="1.50" fill="#dcdddd"/><circle cx="122.7" cy="185.2" r="1.50" fill="#e0dbd8"/><circle cx="213.5" cy="127.0" r="1.50" fill="#b40426"/><circle cx="105.1" cy="120.5" r="1.50" fill="#dcdddd"/><circle cx="228.8" cy="57.6" r="1.50" fill="#f2cbb7"/><circle cx="95.5" cy="309.5" r="1.50" fill="#dcdddd"/><circle cx="177.6" cy="68.5" r="1.50" fill="#b40426"/><circle cx="144.6" cy="281.5" r="1.50" fill="#efcfbf"/><circle cx="161.9" cy="169.4" r="1.50" fill="#efcebd"/><circle cx="139.5" cy="111.3" r="1.50" fill="#dadce0"/><circle cx="220.8" cy="55.0" r="1.50" fill="#e1dad6"/><circle cx="200.5" cy="189.1" r="1.50" fill="#f2cbb7"/><circle cx="216.4" cy="241.2" r="1.50" fill="#d7dce3"/><circle cx="71.2" cy="255.4" r="1.50" fill="#e0dbd8"/><circle cx="212.4" cy="183.0" r="1.50" fill="#b40426"/><circle cx="214.2" cy="70.2" r="1.50" fill="#f1ccb8"/><circle cx="222.5" cy="110.0" r="1.50" fill="#e9d5cb"/><circle cx="177.7" cy="145.8" r="1.50" fill="#bed2f6"/><circle cx="204.3" cy="176.3" r="1.50" fill="#e9d5cb"/><circle cx="203.2" cy="168.3" r="1.50" fill="#f5c1a9"/><circle cx="165.6" cy="271.8" r="1.50" fill="#ead5c9"/><circle cx="216.0" cy="149.5" r="1.50" fill="#ebd3c6"/><circle cx="119.4" cy="235.9" r="1.50" fill="#e1dad6"/><circle cx="71.9" cy="243.4" r="1.50" fill="#e6d7cf"/><circle cx="84.2" cy="297.9" r="1.50" fill="#dddcdc"/><circle cx="146.2" cy="164.3" r="1.50" fill="#d9dce1"/><circle cx="66.1" cy="222.2" r="1.50" fill="#dedcdb"/><circle cx="208.6" cy="90.5" r="1.50" fill="#e7d7ce"/><circle cx="106.3" cy="169.4" r="1.50" fill="#dfdbd9"/><circle cx="134.3" cy="118.2" r="1.50" fill="#e6d7cf"/><circle cx="213.9" cy="188.4" r="1.50" fill="#e2dad5"/><circle cx="197.9" cy="80.1" r="1.50" fill="#f3c8b2"/><circle cx="65.3" cy="179.7" r="1.50" fill="#e3d9d3"/><circle cx="197.9" cy="124.6" r="1.50" fill="#e1dad6"/><circle cx="199.4" cy="170.3" r="1.50" fill="#e3d9d3"/><circle cx="121.2" cy="143.4" r="1.50" fill="#dfdbd9"/><circle cx="226.1" cy="177.1" r="1.50" fill="#d95847"/><circle cx="73.5" cy="225.7" r="1.50" fill="#d1dae9"/><circle cx="215.4" cy="238.3" r="1.50" fill="#dedcdb"/><circle cx="99.5" cy="114.8" r="1.50" fill="#e0dbd8"/><circle cx="120.0" cy="165.5" r="1.50" fill="#efcfbf"/><circle cx="173.3" cy="132.4" r="1.50" fill="#dadce0"/><circle cx="116.0" cy="209.8" r="1.50" fill="#f7b79b"/><circle cx="114.6" cy="201.6" r="1.50" fill="#d3dbe7"/><circle cx="163.5" cy="162.7" r="1.50" fill="#dbdcde"/><circle cx="143.3" cy="227.0" r="1.50" fill="#f4c6af"/><circle cx="217.6" cy="82.7" r="1.50" fill="#e6d7cf"/><circle cx="117.6" cy="105.8" r="1.50" fill="#dfdbd9"/><circle cx="223.2" cy="241.8" r="1.50" fill="#e3d9d3"/><circle cx="70.5" cy="197.8" r="1.50" fill="#dadce0"/><circle cx="231.4" cy="141.1" r="1.50" fill="#e3d9d3"/><circle cx="108.5" cy="314.8" r="1.50" fill="#bb1b2c"/><circle cx="129.7" cy="260.2" r="1.50" fill="#dbdcde"/><circle cx="181.2" cy="182.6" r="1.50" fill="#d8dce2"/><circle cx="218.9" cy="177.9" r="1.50" fill="#f4c5ad"/><circle cx="83.6" cy="317.9" r="1.50" fill="#d4dbe6"/><circle cx="188.0" cy="77.4" r="1.50" fill="#e3d9d3"/><circle cx="117.8" cy="114.0" r="1.50" fill="#ead4c8"/><circle cx="157.9" cy="151.5" r="1.50" fill="#cbd8ee"/><circle cx="193.8" cy="85.9" r="1.50" fill="#e2dad5"/><circle cx="237.1" cy="224.4" r="1.50" fill="#dbdcde"/><circle cx="128.2" cy="182.9" r="1.50" fill="#dedcdb"/><circle cx="104.4" cy="170.0" r="1.50" fill="#cbd8ee"/><circle cx="237.9" cy="216.9" r="1.50" fill="#f3c7b1"/><circle cx="152.1" cy="165.7" r="1.50" fill="#e6d7cf"/><circle cx="117.2" cy="296.3" r="1.50" fill="#f29072"/><circle cx="77.3" cy="131.4" r="1.50" fill="#dddcdc"/><circle cx="163.9" cy="138.9" r="1.50" fill="#dfdbd9"/><circle cx="91.2" cy="228.3" r="1.50" fill="#e0dbd8"/><circle cx="91.3" cy="145.8" r="1.50" fill="#cdd9ec"/><circle cx="103.7" cy="113.3" r="1.50" fill="#dddcdc"/><circle cx="124.3" cy="131.3" r="1.50" fill="#ebd3c6"/><circle cx="153.3" cy="218.4" r="1.50" fill="#f4c6af"/><circle cx="104.3" cy="256.6" r="1.50" fill="#e1dad6"/><circle cx="227.5" cy="249.2" r="1.50" fill="#e36c55"/><circle cx="178.8" cy="200.0" r="1.50" fill="#dcdddd"/><circle cx="75.3" cy="306.5" r="1.50" fill="#dddcdc"/><circle cx="192.1" cy="64.2" r="1.50" fill="#b40426"/><circle cx="180.2" cy="119.2" r="1.50" fill="#c9d7f0"/><circle cx="140.9" cy="111.6" r="1.50" fill="#e0dbd8"/><circle cx="192.7" cy="190.2" r="1.50" fill="#edd2c3"/><circle cx="142.6" cy="160.7" r="1.50" fill="#e2dad5"/><circle cx="151.2" cy="167.3" r="1.50" fill="#dcdddd"/><circle cx="153.6" cy="87.6" r="1.50" fill="#e0dbd8"/><circle cx="223.0" cy="102.7" r="1.50" fill="#b8122a"/><circle cx="190.0" cy="192.9" r="1.50" fill="#ead5c9"/><circle cx="168.3" cy="84.4" r="1.50" fill="#dddcdc"/><circle cx="231.3" cy="229.1" r="1.50" fill="#ee8669"/><circle cx="123.5" cy="232.9" r="1.50" fill="#dfdbd9"/><circle cx="240.2" cy="122.6" r="1.50" fill="#ecd3c5"/><circle cx="114.0" cy="312.4" r="1.50" fill="#edd1c2"/><circle cx="146.1" cy="170.9" r="1.50" fill="#dedcdb"/><circle cx="146.7" cy="124.9" r="1.50" fill="#d6dce4"/><circle cx="93.0" cy="310.6" r="1.50" fill="#bed2f6"/><circle cx="100.5" cy="324.9" r="1.50" fill="#dddcdc"/><circle cx="198.0" cy="135.5" r="1.50" fill="#dddcdc"/><circle cx="145.7" cy="268.3" r="1.50" fill="#ead4c8"/><circle cx="209.9" cy="128.1" r="1.50" fill="#f1ccb8"/><circle cx="118.6" cy="309.4" r="1.50" fill="#ee8669"/><circle cx="208.9" cy="209.8" r="1.50" fill="#c5d6f2"/><circle cx="50.5" cy="184.7" r="1.50" fill="#dc5d4a"/><circle cx="225.5" cy="100.7" r="1.50" fill="#d8dce2"/><circle cx="156.0" cy="274.9" r="1.50" fill="#efcebd"/><circle cx="83.3" cy="288.7" r="1.50" fill="#dddcdc"/><circle cx="107.1" cy="283.0" r="1.50" fill="#d4dbe6"/><circle cx="207.5" cy="103.9" r="1.50" fill="#dadce0"/><circle cx="125.8" cy="116.7" r="1.50" fill="#ead4c8"/><circle cx="159.5" cy="261.8" r="1.50" fill="#f0cdbb"/><circle cx="47.2" cy="205.4" r="1.50" fill="#e1dad6"/><circle cx="209.9" cy="178.1" r="1.50" fill="#f0cdbb"/><circle cx="199.8" cy="208.4" r="1.50" fill="#c7d7f0"/><circle cx="113.4" cy="303.3" r="1.50" fill="#cb3e38"/><circle cx="236.4" cy="121.9" r="1.50" fill="#e8d6cc"/><circle cx="169.7" cy="216.3" r="1.50" fill="#e4d9d2"/><circle cx="92.6" cy="249.8" r="1.50" fill="#e6d7cf"/><circle cx="118.4" cy="248.0" r="1.50" fill="#d9dce1"/><circle cx="227.2" cy="226.4" r="1.50" fill="#edd1c2"/><circle cx="157.2" cy="117.2" r="1.50" fill="#ead4c8"/><circle cx="247.2" cy="108.6" r="1.50" fill="#b40426"/><circle cx="242.3" cy="201.7" r="1.50" fill="#f1cdba"/><circle cx="99.1" cy="135.7" r="1.50" fill="#e0dbd8"/><circle cx="228.3" cy="152.3" r="1.50" fill="#dfdbd9"/><circle cx="107.4" cy="157.6" r="1.50" fill="#d9dce1"/><circle cx="94.8" cy="145.0" r="1.50" fill="#d8dce2"/><circle cx="138.1" cy="281.8" r="1.50" fill="#ead5c9"/><circle cx="185.2" cy="257.3" r="1.50" fill="#d5dbe5"/><circle cx="146.9" cy="113.3" r="1.50" fill="#dddcdc"/><circle cx="208.4" cy="57.6" r="1.50" fill="#e9d5cb"/><circle cx="115.4" cy="187.7" r="1.50" fill="#dadce0"/><circle cx="118.9" cy="110.8" r="1.50" fill="#eed0c0"/><circle cx="172.5" cy="282.9" r="1.50" fill="#e7d7ce"/><circle cx="138.4" cy="241.2" r="1.50" fill="#edd2c3"/><circle cx="181.7" cy="289.2" r="1.50" fill="#e8d6cc"/><circle cx="212.4" cy="226.1" r="1.50" fill="#e4d9d2"/><circle cx="228.9" cy="218.9" r="1.50" fill="#e7d7ce"/><circle cx="131.4" cy="210.7" r="1.50" fill="#e0dbd8"/><circle cx="55.2" cy="161.0" r="1.50" fill="#b40426"/><circle cx="231.4" cy="153.7" r="1.50" fill="#ead4c8"/><circle cx="197.0" cy="136.4" r="1.50" fill="#b7cff9"/><circle cx="141.2" cy="127.7" r="1.50" fill="#dbdcde"/><circle cx="124.5" cy="213.7" r="1.50" fill="#dddcdc"/><circle cx="208.5" cy="75.7" r="1.50" fill="#f5c4ac"/><circle cx="182.7" cy="133.1" r="1.50" fill="#c5d6f2"/><circle cx="62.6" cy="327.0" r="1.50" fill="#d1dae9"/><circle cx="214.1" cy="178.7" r="1.50" fill="#f3c8b2"/><circle cx="159.7" cy="77.5" r="1.50" fill="#f4c5ad"/><circle cx="159.0" cy="120.1" r="1.50" fill="#ccd9ed"/><circle cx="57.4" cy="154.6" r="1.50" fill="#d44e41"/><circle cx="210.1" cy="180.4" r="1.50" fill="#edd2c3"/><circle cx="74.2" cy="316.8" r="1.50" fill="#f4c5ad"/><circle cx="77.8" cy="154.2" r="1.50" fill="#dedcdb"/><circle cx="142.6" cy="157.6" r="1.50" fill="#d1dae9"/><circle cx="194.5" cy="135.8" r="1.50" fill="#b6cefa"/><circle cx="207.6" cy="234.3" r="1.50" fill="#dedcdb"/><circle cx="97.6" cy="287.8" r="1.50" fill="#d6dce4"/><circle cx="149.5" cy="240.4" r="1.50" fill="#d9dce1"/><circle cx="164.0" cy="272.8" r="1.50" fill="#f0cdbb"/><circle cx="58.7" cy="131.2" r="1.50" fill="#dcdddd"/><circle cx="169.0" cy="155.8" r="1.50" fill="#e6d7cf"/><circle cx="230.3" cy="79.2" r="1.50" fill="#e0dbd8"/><circle cx="51.1" cy="333.7" r="1.50" fill="#dbdcde"/><circle cx="128.7" cy="109.5" r="1.50" fill="#e7d7ce"/><circle cx="210.9" cy="126.8" r="1.50" fill="#e2dad5"/><circle cx="129.3" cy="203.9" r="1.50" fill="#ead4c8"/><circle cx="164.1" cy="92.0" r="1.50" fill="#dadce0"/><circle cx="78.5" cy="133.9" r="1.50" fill="#e8d6cc"/><circle cx="205.3" cy="259.0" r="1.50" fill="#b6cefa"/><circle cx="212.7" cy="55.0" r="1.50" fill="#ecd3c5"/><circle cx="229.7" cy="220.2" r="1.50" fill="#edd2c3"/><circle cx="178.8" cy="183.9" r="1.50" fill="#ecd3c5"/><circle cx="179.9" cy="126.2" r="1.50" fill="#e8d6cc"/><circle cx="175.2" cy="202.9" r="1.50" fill="#edd1c2"/><circle cx="85.0" cy="179.7" r="1.50" fill="#dbdcde"/><circle cx="76.2" cy="244.2" r="1.50" fill="#eed0c0"/><circle cx="111.6" cy="231.4" r="1.50" fill="#d9dce1"/><circle cx="168.8" cy="133.6" r="1.50" fill="#e3d9d3"/><circle cx="180.0" cy="104.1" r="1.50" fill="#cbd8ee"/><circle cx="129.8" cy="253.3" r="1.50" fill="#e1dad6"/><circle cx="80.2" cy="280.6" r="1.50" fill="#ead4c8"/><circle cx="62.9" cy="183.4" r="1.50" fill="#d9dce1"/><circle cx="88.1" cy="221.6" r="1.50" fill="#e0dbd8"/><circle cx="85.1" cy="274.2" r="1.50" fill="#dedcdb"/><circle cx="82.2" cy="320.7" r="1.50" fill="#dfdbd9"/><circle cx="158.5" cy="219.1" r="1.50" fill="#f4987a"/><circle cx="219.1" cy="180.9" r="1.50" fill="#f1cdba"/><circle cx="142.6" cy="192.8" r="1.50" fill="#f6a385"/><circle cx="148.9" cy="151.4" r="1.50" fill="#efcfbf"/><circle cx="201.4" cy="221.4" r="1.50" fill="#e1dad6"/><circle cx="138.6" cy="212.6" r="1.50" fill="#e5d8d1"/><circle cx="75.5" cy="185.1" r="1.50" fill="#dadce0"/><circle cx="94.3" cy="197.7" r="1.50" fill="#dedcdb"/><circle cx="229.6" cy="62.3" r="1.50" fill="#edd1c2"/><circle cx="229.0" cy="212.8" r="1.50" fill="#eed0c0"/><circle cx="123.5" cy="142.4" r="1.50" fill="#d9dce1"/><circle cx="157.2" cy="236.3" r="1.50" fill="#f59d7e"/><circle cx="138.8" cy="98.0" r="1.50" fill="#dddcdc"/><circle cx="149.3" cy="144.7" r="1.50" fill="#b6cefa"/><circle cx="211.8" cy="169.9" r="1.50" fill="#f6bda2"/><circle cx="93.3" cy="277.7" r="1.50" fill="#e9d5cb"/><circle cx="106.5" cy="238.9" r="1.50" fill="#ecd3c5"/><circle cx="151.2" cy="263.3" r="1.50" fill="#f7bca1"/><circle cx="123.0" cy="301.5" r="1.50" fill="#dcdddd"/><circle cx="204.4" cy="93.4" r="1.50" fill="#dfdbd9"/><circle cx="78.4" cy="177.2" r="1.50" fill="#dadce0"/><circle cx="165.3" cy="217.9" r="1.50" fill="#ecd3c5"/><circle cx="141.7" cy="276.8" r="1.50" fill="#eed0c0"/><circle cx="119.1" cy="172.1" r="1.50" fill="#dcdddd"/><circle cx="68.3" cy="147.5" r="1.50" fill="#d7dce3"/><circle cx="146.4" cy="171.4" r="1.50" fill="#dbdcde"/><circle cx="80.7" cy="185.9" r="1.50" fill="#dbdcde"/><circle cx="245.0" cy="91.9" r="1.50" fill="#ebd3c6"/><circle cx="191.2" cy="119.0" r="1.50" fill="#d8dce2"/><circle cx="237.7" cy="85.5" r="1.50" fill="#d1dae9"/><circle cx="111.5" cy="303.1" r="1.50" fill="#b6cefa"/><circle cx="156.4" cy="261.5" r="1.50" fill="#e2dad5"/><circle cx="89.0" cy="337.6" r="1.50" fill="#cbd8ee"/><circle cx="123.5" cy="249.1" r="1.50" fill="#e4d9d2"/><circle cx="72.3" cy="160.4" r="1.50" fill="#dbdcde"/><circle cx="48.4" cy="190.1" r="1.50" fill="#f7ba9f"/><circle cx="96.1" cy="308.2" r="1.50" fill="#cedaeb"/><circle cx="48.6" cy="182.9" r="1.50" fill="#d95847"/><circle cx="234.9" cy="273.9" r="1.50" fill="#dedcdb"/><circle cx="154.7" cy="252.0" r="1.50" fill="#f39475"/><circle cx="107.1" cy="246.3" r="1.50" fill="#e2dad5"/><circle cx="222.2" cy="237.3" r="1.50" fill="#e3d9d3"/><circle cx="111.3" cy="120.3" r="1.50" fill="#ecd3c5"/><circle cx="199.5" cy="120.3" r="1.50" fill="#dedcdb"/><circle cx="59.6" cy="144.2" r="1.50" fill="#dddcdc"/><circle cx="66.3" cy="197.1" r="1.50" fill="#dfdbd9"/><circle cx="148.5" cy="225.6" r="1.50" fill="#f1ccb8"/><circle cx="110.8" cy="218.4" r="1.50" fill="#d9dce1"/><circle cx="160.8" cy="213.6" r="1.50" fill="#f7b396"/><circle cx="199.1" cy="204.0" r="1.50" fill="#e6d7cf"/><circle cx="81.6" cy="158.7" r="1.50" fill="#dbdcde"/><circle cx="189.8" cy="133.7" r="1.50" fill="#d1dae9"/><circle cx="210.6" cy="77.6" r="1.50" fill="#dedcdb"/><circle cx="211.0" cy="143.7" r="1.50" fill="#edd1c2"/><circle cx="78.0" cy="304.0" r="1.50" fill="#dedcdb"/><circle cx="107.6" cy="233.7" r="1.50" fill="#edd1c2"/><circle cx="177.6" cy="108.5" r="1.50" fill="#ccd9ed"/><circle cx="81.3" cy="257.3" r="1.50" fill="#d8dce2"/><circle cx="205.6" cy="187.4" r="1.50" fill="#f6bfa6"/><circle cx="121.3" cy="207.8" r="1.50" fill="#dedcdb"/><circle cx="187.1" cy="166.1" r="1.50" fill="#f1ccb8"/><circle cx="79.6" cy="253.8" r="1.50" fill="#e0dbd8"/><circle cx="91.5" cy="254.6" r="1.50" fill="#edd1c2"/><circle cx="232.7" cy="236.1" r="1.50" fill="#df634e"/><circle cx="77.5" cy="159.0" r="1.50" fill="#e2dad5"/><circle cx="82.1" cy="312.8" r="1.50" fill="#dfdbd9"/><circle cx="152.5" cy="215.4" r="1.50" fill="#e6d7cf"/><circle cx="242.5" cy="55.3" r="1.50" fill="#e3d9d3"/><circle cx="77.9" cy="224.5" r="1.50" fill="#d8dce2"/><circle cx="81.3" cy="333.6" r="1.50" fill="#e1dad6"/><circle cx="81.7" cy="305.1" r="1.50" fill="#ecd3c5"/><circle cx="215.6" cy="109.6" r="1.50" fill="#c73635"/><circle cx="121.4" cy="108.3" r="1.50" fill="#edd1c2"/><circle cx="147.7" cy="164.1" r="1.50" fill="#d6dce4"/><circle cx="113.0" cy="166.8" r="1.50" fill="#e0dbd8"/><circle cx="234.7" cy="114.5" r="1.50" fill="#ead4c8"/><circle cx="143.6" cy="97.6" r="1.50" fill="#dcdddd"/><circle cx="204.1" cy="93.1" r="1.50" fill="#b40426"/><circle cx="136.9" cy="276.4" r="1.50" fill="#e9d5cb"/><circle cx="69.4" cy="202.7" r="1.50" fill="#dbdcde"/><circle cx="88.8" cy="283.1" r="1.50" fill="#dadce0"/><circle cx="198.4" cy="213.3" r="1.50" fill="#a3c2fe"/><circle cx="72.3" cy="153.0" r="1.50" fill="#edd2c3"/><circle cx="95.0" cy="172.2" r="1.50" fill="#d8dce2"/><circle cx="241.2" cy="48.0" r="1.50" fill="#be242e"/><circle cx="196.4" cy="153.8" r="1.50" fill="#ebd3c6"/><circle cx="182.9" cy="179.3" r="1.50" fill="#f1cdba"/><circle cx="62.2" cy="254.7" r="1.50" fill="#f18f71"/><circle cx="152.2" cy="309.4" r="1.50" fill="#b40426"/><circle cx="93.3" cy="307.5" r="1.50" fill="#e0dbd8"/><circle cx="212.4" cy="132.5" r="1.50" fill="#e6d7cf"/><circle cx="131.8" cy="183.0" r="1.50" fill="#e1dad6"/><circle cx="218.2" cy="266.1" r="1.50" fill="#d6dce4"/><circle cx="107.0" cy="267.9" r="1.50" fill="#b40426"/><circle cx="204.1" cy="205.8" r="1.50" fill="#c1d4f4"/><circle cx="227.9" cy="90.5" r="1.50" fill="#edd1c2"/><circle cx="224.6" cy="160.9" r="1.50" fill="#ead5c9"/><circle cx="164.3" cy="183.0" r="1.50" fill="#dddcdc"/><circle cx="110.2" cy="273.8" r="1.50" fill="#dddcdc"/><circle cx="86.7" cy="196.0" r="1.50" fill="#dadce0"/><circle cx="244.7" cy="145.7" r="1.50" fill="#f0cdbb"/><circle cx="55.8" cy="134.7" r="1.50" fill="#dddcdc"/><circle cx="232.4" cy="87.2" r="1.50" fill="#f1ccb8"/><circle cx="190.5" cy="153.4" r="1.50" fill="#e8765c"/><circle cx="102.1" cy="118.9" r="1.50" fill="#e5d8d1"/><circle cx="73.8" cy="306.5" r="1.50" fill="#dcdddd"/><circle cx="212.7" cy="207.7" r="1.50" fill="#d3dbe7"/><circle cx="121.6" cy="94.7" r="1.50" fill="#dadce0"/><circle cx="182.7" cy="213.9" r="1.50" fill="#dcdddd"/><circle cx="161.7" cy="160.9" r="1.50" fill="#dfdbd9"/><circle cx="211.6" cy="244.4" r="1.50" fill="#aec9fc"/><circle cx="177.6" cy="181.4" r="1.50" fill="#e9d5cb"/><circle cx="240.7" cy="112.1" r="1.50" fill="#e26952"/><circle cx="148.8" cy="257.1" r="1.50" fill="#e1dad6"/><circle cx="115.1" cy="120.0" r="1.50" fill="#ead4c8"/><circle cx="97.2" cy="268.2" r="1.50" fill="#eed0c0"/><circle cx="170.9" cy="67.7" r="1.50" fill="#dcdddd"/><circle cx="111.1" cy="147.5" r="1.50" fill="#dedcdb"/><circle cx="134.7" cy="188.7" r="1.50" fill="#dcdddd"/><circle cx="136.8" cy="87.9" r="1.50" fill="#e7d7ce"/><circle cx="156.0" cy="73.3" r="1.50" fill="#e7d7ce"/><circle cx="149.7" cy="253.7" r="1.50" fill="#f49a7b"/><circle cx="177.4" cy="67.8" r="1.50" fill="#bd1f2d"/><circle cx="160.5" cy="299.0" r="1.50" fill="#dcdddd"/><circle cx="141.5" cy="260.0" r="1.50" fill="#f7ac8e"/><circle cx="192.8" cy="101.6" r="1.50" fill="#d2dbe8"/><circle cx="95.4" cy="117.9" r="1.50" fill="#e2dad5"/><circle cx="222.2" cy="128.9" r="1.50" fill="#dfdbd9"/><circle cx="56.8" cy="242.8" r="1.50" fill="#e6d7cf"/><circle cx="161.8" cy="238.0" r="1.50" fill="#f2c9b4"/><circle cx="121.0" cy="288.1" r="1.50" fill="#edd2c3"/><circle cx="108.4" cy="130.4" r="1.50" fill="#e7d7ce"/><circle cx="83.5" cy="122.2" r="1.50" fill="#e2dad5"/><circle cx="150.4" cy="234.5" r="1.50" fill="#c3d5f4"/><circle cx="195.6" cy="210.1" r="1.50" fill="#e3d9d3"/><circle cx="58.1" cy="297.3" r="1.50" fill="#dedcdb"/><circle cx="200.4" cy="163.5" r="1.50" fill="#f0cdbb"/><circle cx="74.1" cy="246.2" r="1.50" fill="#efcfbf"/><circle cx="119.4" cy="323.5" r="1.50" fill="#d7dce3"/><circle cx="192.6" cy="255.6" r="1.50" fill="#f3c8b2"/><circle cx="138.0" cy="122.7" r="1.50" fill="#cad8ef"/><circle cx="208.3" cy="70.4" r="1.50" fill="#e3d9d3"/><circle cx="120.1" cy="154.8" r="1.50" fill="#d7dce3"/><circle cx="224.3" cy="257.0" r="1.50" fill="#d7dce3"/><circle cx="246.1" cy="133.9" r="1.50" fill="#edd2c3"/><circle cx="51.6" cy="177.4" r="1.50" fill="#da5a49"/><circle cx="239.1" cy="194.3" r="1.50" fill="#f2c9b4"/><circle cx="163.8" cy="270.0" r="1.50" fill="#dfdbd9"/><circle cx="236.8" cy="109.4" r="1.50" fill="#f5c1a9"/><circle cx="114.7" cy="303.0" r="1.50" fill="#dedcdb"/><circle cx="68.2" cy="254.0" r="1.50" fill="#efcfbf"/><circle cx="66.6" cy="299.3" r="1.50" fill="#ecd3c5"/><circle cx="239.7" cy="120.5" r="1.50" fill="#c32e31"/><circle cx="116.5" cy="170.8" r="1.50" fill="#c3d5f4"/><circle cx="200.2" cy="90.8" r="1.50" fill="#cdd9ec"/><circle cx="194.9" cy="67.5" r="1.50" fill="#b40426"/><circle cx="141.4" cy="280.0" r="1.50" fill="#f1ccb8"/><circle cx="93.6" cy="249.2" r="1.50" fill="#ecd3c5"/><circle cx="116.4" cy="98.0" r="1.50" fill="#edd2c3"/><circle cx="202.3" cy="183.0" r="1.50" fill="#df634e"/><circle cx="205.1" cy="183.7" r="1.50" fill="#b40426"/><circle cx="170.4" cy="145.7" r="1.50" fill="#d1dae9"/><circle cx="131.4" cy="123.1" r="1.50" fill="#e5d8d1"/><circle cx="149.4" cy="259.3" r="1.50" fill="#f59c7d"/><circle cx="217.1" cy="144.6" r="1.50" fill="#b40426"/><circle cx="217.9" cy="146.0" r="1.50" fill="#f2c9b4"/><circle cx="62.6" cy="283.2" r="1.50" fill="#dedcdb"/><circle cx="193.1" cy="282.7" r="1.50" fill="#ccd9ed"/><circle cx="52.4" cy="234.4" r="1.50" fill="#dedcdb"/><circle cx="49.1" cy="133.7" r="1.50" fill="#b7cff9"/><circle cx="177.6" cy="212.9" r="1.50" fill="#e2dad5"/><circle cx="223.2" cy="157.9" r="1.50" fill="#e1dad6"/><circle cx="114.0" cy="288.5" r="1.50" fill="#e67259"/><circle cx="146.5" cy="233.4" r="1.50" fill="#f5c0a7"/><circle cx="143.2" cy="143.3" r="1.50" fill="#e0dbd8"/><circle cx="147.2" cy="143.7" r="1.50" fill="#cad8ef"/><circle cx="160.7" cy="212.1" r="1.50" fill="#f4c5ad"/><circle cx="171.0" cy="132.5" r="1.50" fill="#c4d5f3"/><circle cx="140.9" cy="116.2" r="1.50" fill="#e3d9d3"/><circle cx="160.0" cy="222.7" r="1.50" fill="#f2cab5"/><circle cx="76.7" cy="167.4" r="1.50" fill="#d4dbe6"/><circle cx="199.8" cy="129.6" r="1.50" fill="#dbdcde"/><circle cx="127.4" cy="154.7" r="1.50" fill="#dbdcde"/><circle cx="146.1" cy="161.4" r="1.50" fill="#d5dbe5"/><circle cx="208.7" cy="232.7" r="1.50" fill="#cad8ef"/><circle cx="236.9" cy="190.3" r="1.50" fill="#b70d28"/><circle cx="70.4" cy="144.4" r="1.50" fill="#c1d4f4"/><circle cx="239.3" cy="71.8" r="1.50" fill="#e1dad6"/><circle cx="141.0" cy="133.1" r="1.50" fill="#e8d6cc"/><circle cx="113.4" cy="203.2" r="1.50" fill="#dadce0"/><circle cx="197.5" cy="190.3" r="1.50" fill="#dedcdb"/><circle cx="94.5" cy="154.3" r="1.50" fill="#e1dad6"/><circle cx="175.9" cy="206.2" r="1.50" fill="#e1dad6"/><circle cx="133.3" cy="228.5" r="1.50" fill="#f2cbb7"/><circle cx="125.4" cy="250.7" r="1.50" fill="#e7d7ce"/><circle cx="244.0" cy="101.8" r="1.50" fill="#e5d8d1"/><circle cx="173.5" cy="146.8" r="1.50" fill="#d4dbe6"/><circle cx="188.2" cy="82.1" r="1.50" fill="#cc403a"/><circle cx="120.9" cy="295.1" r="1.50" fill="#dedcdb"/><circle cx="148.3" cy="238.3" r="1.50" fill="#efcfbf"/><circle cx="148.1" cy="285.8" r="1.50" fill="#e5d8d1"/><circle cx="206.2" cy="109.8" r="1.50" fill="#e6d7cf"/><circle cx="125.3" cy="177.8" r="1.50" fill="#dcdddd"/><circle cx="224.9" cy="176.7" r="1.50" fill="#d9dce1"/><circle cx="142.9" cy="141.3" r="1.50" fill="#d5dbe5"/><circle cx="170.8" cy="137.1" r="1.50" fill="#dedcdb"/><circle cx="205.2" cy="224.4" r="1.50" fill="#dddcdc"/><circle cx="174.4" cy="179.9" r="1.50" fill="#dedcdb"/><circle cx="138.8" cy="98.7" r="1.50" fill="#e2dad5"/><circle cx="100.5" cy="298.8" r="1.50" fill="#bed2f6"/><circle cx="95.7" cy="177.9" r="1.50" fill="#d9dce1"/><circle cx="221.5" cy="181.9" r="1.50" fill="#edd2c3"/><circle cx="188.2" cy="260.6" r="1.50" fill="#f7b99e"/><circle cx="158.8" cy="94.9" r="1.50" fill="#d1dae9"/><circle cx="115.4" cy="293.1" r="1.50" fill="#f2cbb7"/><circle cx="121.7" cy="138.8" r="1.50" fill="#a9c6fd"/><circle cx="65.7" cy="143.6" r="1.50" fill="#ccd9ed"/><circle cx="153.3" cy="136.2" r="1.50" fill="#d6dce4"/><circle cx="121.3" cy="119.2" r="1.50" fill="#d8dce2"/><circle cx="103.5" cy="321.4" r="1.50" fill="#ca3b37"/><circle cx="189.0" cy="67.3" r="1.50" fill="#dddcdc"/><circle cx="160.5" cy="97.1" r="1.50" fill="#e9d5cb"/><circle cx="107.3" cy="186.0" r="1.50" fill="#dddcdc"/><circle cx="169.8" cy="83.1" r="1.50" fill="#f1ccb8"/><circle cx="218.8" cy="163.0" r="1.50" fill="#e3d9d3"/><circle cx="191.0" cy="182.8" r="1.50" fill="#e1dad6"/><circle cx="198.6" cy="68.5" r="1.50" fill="#d95847"/><circle cx="85.9" cy="300.8" r="1.50" fill="#dcdddd"/><circle cx="161.0" cy="78.5" r="1.50" fill="#efcfbf"/><circle cx="201.6" cy="77.8" r="1.50" fill="#dedcdb"/><circle cx="188.9" cy="253.3" r="1.50" fill="#e6d7cf"/><circle cx="185.4" cy="93.4" r="1.50" fill="#d3dbe7"/><circle cx="147.7" cy="259.8" r="1.50" fill="#f3c7b1"/><circle cx="240.4" cy="201.6" r="1.50" fill="#b40426"/><circle cx="126.0" cy="129.5" r="1.50" fill="#b5cdfa"/><circle cx="100.6" cy="235.7" r="1.50" fill="#f3c7b1"/><circle cx="68.0" cy="141.9" r="1.50" fill="#dadce0"/><circle cx="138.6" cy="230.3" r="1.50" fill="#f59d7e"/><circle cx="75.5" cy="123.6" r="1.50" fill="#d6dce4"/><circle cx="155.9" cy="237.7" r="1.50" fill="#f49a7b"/><circle cx="225.0" cy="40.5" r="1.50" fill="#e0dbd8"/><circle cx="146.0" cy="200.3" r="1.50" fill="#f7bca1"/><circle cx="115.3" cy="192.3" r="1.50" fill="#dedcdb"/><circle cx="58.7" cy="187.9" r="1.50" fill="#e5d8d1"/><circle cx="90.8" cy="166.5" r="1.50" fill="#dddcdc"/><circle cx="127.3" cy="316.0" r="1.50" fill="#dcdddd"/><circle cx="151.1" cy="136.2" r="1.50" fill="#d6dce4"/><circle cx="52.1" cy="282.4" r="1.50" fill="#f0cdbb"/><circle cx="168.1" cy="146.8" r="1.50" fill="#e1dad6"/><circle cx="69.1" cy="145.7" r="1.50" fill="#e1dad6"/><circle cx="142.4" cy="253.3" r="1.50" fill="#efcebd"/><circle cx="127.9" cy="105.9" r="1.50" fill="#e6d7cf"/><circle cx="174.8" cy="252.0" r="1.50" fill="#d3dbe7"/><circle cx="109.9" cy="246.4" r="1.50" fill="#cedaeb"/><circle cx="113.9" cy="193.9" r="1.50" fill="#e1dad6"/><circle cx="57.8" cy="147.4" r="1.50" fill="#dfdbd9"/><circle cx="124.2" cy="284.4" r="1.50" fill="#edd2c3"/><circle cx="89.5" cy="303.0" r="1.50" fill="#c1d4f4"/><circle cx="160.1" cy="137.0" r="1.50" fill="#e1dad6"/><circle cx="195.8" cy="191.1" r="1.50" fill="#dddcdc"/><circle cx="122.5" cy="127.8" r="1.50" fill="#e0dbd8"/><circle cx="193.7" cy="223.4" r="1.50" fill="#e0dbd8"/><circle cx="194.4" cy="187.8" r="1.50" fill="#edd1c2"/><circle cx="124.3" cy="246.4" r="1.50" fill="#e0dbd8"/><circle cx="242.8" cy="49.8" r="1.50" fill="#b40426"/><circle cx="170.1" cy="166.2" r="1.50" fill="#e3d9d3"/><circle cx="245.7" cy="128.9" r="1.50" fill="#f4c6af"/><circle cx="150.8" cy="168.3" r="1.50" fill="#dfdbd9"/><circle cx="198.7" cy="271.2" r="1.50" fill="#dfdbd9"/><circle cx="95.6" cy="256.9" r="1.50" fill="#dbdcde"/><circle cx="206.5" cy="214.6" r="1.50" fill="#bfd3f6"/><circle cx="68.8" cy="252.0" r="1.50" fill="#ee8468"/><circle cx="185.1" cy="229.3" r="1.50" fill="#e3d9d3"/><circle cx="192.1" cy="221.5" r="1.50" fill="#ead5c9"/><circle cx="142.5" cy="174.8" r="1.50" fill="#d1dae9"/><circle cx="184.6" cy="263.1" r="1.50" fill="#edd2c3"/><circle cx="55.6" cy="250.0" r="1.50" fill="#e57058"/><circle cx="159.1" cy="117.1" r="1.50" fill="#dbdcde"/><circle cx="201.3" cy="245.8" r="1.50" fill="#e5d8d1"/><circle cx="71.2" cy="234.0" r="1.50" fill="#ebd3c6"/><circle cx="192.9" cy="136.3" r="1.50" fill="#b3cdfb"/><circle cx="175.6" cy="112.4" r="1.50" fill="#ccd9ed"/><circle cx="133.0" cy="305.6" r="1.50" fill="#e4d9d2"/><circle cx="187.3" cy="97.9" r="1.50" fill="#88abfd"/><circle cx="195.8" cy="260.7" r="1.50" fill="#ead4c8"/><circle cx="132.1" cy="100.7" r="1.50" fill="#e4d9d2"/><circle cx="177.5" cy="162.4" r="1.50" fill="#e2dad5"/><circle cx="243.8" cy="245.7" r="1.50" fill="#dedcdb"/><circle cx="75.5" cy="283.0" r="1.50" fill="#ead4c8"/><circle cx="235.0" cy="149.8" r="1.50" fill="#e6d7cf"/><circle cx="177.9" cy="220.0" r="1.50" fill="#efcebd"/><circle cx="91.1" cy="154.7" r="1.50" fill="#dddcdc"/><circle cx="115.5" cy="234.6" r="1.50" fill="#efcfbf"/><circle cx="214.4" cy="172.4" r="1.50" fill="#e8d6cc"/><circle cx="153.4" cy="112.4" r="1.50" fill="#d8dce2"/><circle cx="173.5" cy="79.8" r="1.50" fill="#ef886b"/><circle cx="239.0" cy="153.4" r="1.50" fill="#e1dad6"/><circle cx="233.3" cy="208.7" r="1.50" fill="#efcebd"/><circle cx="117.3" cy="290.6" r="1.50" fill="#e3d9d3"/><circle cx="63.6" cy="146.7" r="1.50" fill="#dbdcde"/><circle cx="223.5" cy="191.1" r="1.50" fill="#b40426"/><circle cx="180.0" cy="271.7" r="1.50" fill="#dadce0"/><circle cx="84.2" cy="275.3" r="1.50" fill="#e5d8d1"/><circle cx="151.3" cy="231.1" r="1.50" fill="#dedcdb"/><circle cx="212.9" cy="206.9" r="1.50" fill="#bad0f8"/><circle cx="199.6" cy="79.3" r="1.50" fill="#dcdddd"/><circle cx="119.6" cy="120.5" r="1.50" fill="#dddcdc"/><circle cx="194.3" cy="178.2" r="1.50" fill="#dadce0"/><circle cx="154.8" cy="147.0" r="1.50" fill="#d5dbe5"/><circle cx="114.7" cy="150.4" r="1.50" fill="#e0dbd8"/><circle cx="128.9" cy="229.7" r="1.50" fill="#ead5c9"/><circle cx="162.6" cy="85.7" r="1.50" fill="#e7d7ce"/><circle cx="163.0" cy="106.8" r="1.50" fill="#dcdddd"/><circle cx="201.5" cy="148.8" r="1.50" fill="#e5d8d1"/><circle cx="132.0" cy="134.8" r="1.50" fill="#d6dce4"/><circle cx="168.4" cy="145.0" r="1.50" fill="#cbd8ee"/><circle cx="168.8" cy="266.9" r="1.50" fill="#e7d7ce"/><circle cx="108.2" cy="230.4" r="1.50" fill="#e4d9d2"/><circle cx="127.2" cy="135.7" r="1.50" fill="#e2dad5"/><circle cx="176.8" cy="86.1" r="1.50" fill="#f3c8b2"/><circle cx="165.6" cy="82.9" r="1.50" fill="#f2cab5"/><circle cx="153.0" cy="198.4" r="1.50" fill="#ead5c9"/><circle cx="183.2" cy="164.0" r="1.50" fill="#f3c8b2"/><circle cx="198.6" cy="166.4" r="1.50" fill="#b40426"/><circle cx="163.6" cy="299.2" r="1.50" fill="#b40426"/><circle cx="193.9" cy="246.7" r="1.50" fill="#d5dbe5"/><circle cx="152.1" cy="212.3" r="1.50" fill="#f7ad90"/><circle cx="155.8" cy="177.7" r="1.50" fill="#dadce0"/><circle cx="160.8" cy="155.4" r="1.50" fill="#f0cdbb"/><circle cx="217.6" cy="253.9" r="1.50" fill="#b2ccfb"/><circle cx="182.6" cy="110.3" r="1.50" fill="#cbd8ee"/><circle cx="113.1" cy="110.9" r="1.50" fill="#ead5c9"/><circle cx="172.3" cy="69.3" r="1.50" fill="#f2c9b4"/><circle cx="62.0" cy="181.4" r="1.50" fill="#c9d7f0"/><circle cx="98.9" cy="245.4" r="1.50" fill="#edd2c3"/><circle cx="187.7" cy="136.4" r="1.50" fill="#c9d7f0"/><circle cx="229.6" cy="100.9" r="1.50" fill="#d8dce2"/><circle cx="250.2" cy="52.4" r="1.50" fill="#d95847"/><circle cx="62.6" cy="317.4" r="1.50" fill="#dbdcde"/><circle cx="189.1" cy="291.0" r="1.50" fill="#ba162b"/><circle cx="104.5" cy="120.3" r="1.50" fill="#e2dad5"/><circle cx="207.4" cy="199.2" r="1.50" fill="#b9d0f9"/><circle cx="57.2" cy="196.3" r="1.50" fill="#edd1c2"/><circle cx="204.3" cy="164.9" r="1.50" fill="#f5c4ac"/><circle cx="105.4" cy="128.1" r="1.50" fill="#e3d9d3"/><circle cx="100.4" cy="242.0" r="1.50" fill="#dedcdb"/><circle cx="68.4" cy="270.5" r="1.50" fill="#b40426"/><circle cx="133.3" cy="278.1" r="1.50" fill="#ebd3c6"/><circle cx="141.6" cy="290.0" r="1.50" fill="#e8d6cc"/><circle cx="167.9" cy="146.6" r="1.50" fill="#dddcdc"/><circle cx="142.0" cy="126.6" r="1.50" fill="#e8d6cc"/><circle cx="227.3" cy="245.3" r="1.50" fill="#dedcdb"/><circle cx="154.0" cy="93.8" r="1.50" fill="#e7d7ce"/><circle cx="180.1" cy="86.4" r="1.50" fill="#e7d7ce"/><circle cx="137.4" cy="187.9" r="1.50" fill="#dbdcde"/><circle cx="164.3" cy="76.9" r="1.50" fill="#e6d7cf"/><circle cx="208.1" cy="78.4" r="1.50" fill="#e9d5cb"/><circle cx="194.5" cy="102.9" r="1.50" fill="#dcdddd"/><circle cx="91.1" cy="131.0" r="1.50" fill="#d6dce4"/><circle cx="93.5" cy="152.4" r="1.50" fill="#dedcdb"/><circle cx="62.3" cy="284.0" r="1.50" fill="#edd1c2"/><circle cx="183.0" cy="118.5" r="1.50" fill="#c0d4f5"/><circle cx="103.9" cy="132.7" r="1.50" fill="#d9dce1"/><circle cx="182.9" cy="208.5" r="1.50" fill="#f6bea4"/><circle cx="102.7" cy="320.4" r="1.50" fill="#da5a49"/><circle cx="78.3" cy="172.9" r="1.50" fill="#e3d9d3"/><circle cx="117.0" cy="259.7" r="1.50" fill="#dddcdc"/><circle cx="82.6" cy="246.6" r="1.50" fill="#e5d8d1"/><circle cx="170.5" cy="244.3" r="1.50" fill="#ead5c9"/><circle cx="214.0" cy="68.0" r="1.50" fill="#f7b093"/><circle cx="145.7" cy="264.9" r="1.50" fill="#efcebd"/><circle cx="95.4" cy="196.2" r="1.50" fill="#dedcdb"/><circle cx="63.0" cy="236.3" r="1.50" fill="#ead4c8"/><circle cx="229.9" cy="124.0" r="1.50" fill="#cf453c"/><circle cx="142.3" cy="238.8" r="1.50" fill="#f7b396"/><circle cx="96.5" cy="190.7" r="1.50" fill="#cedaeb"/><circle cx="59.9" cy="200.9" r="1.50" fill="#e6d7cf"/><circle cx="105.0" cy="297.4" r="1.50" fill="#b5cdfa"/><circle cx="134.2" cy="268.1" r="1.50" fill="#e1dad6"/><circle cx="64.8" cy="177.2" r="1.50" fill="#d6dce4"/><circle cx="95.0" cy="231.7" r="1.50" fill="#ebd3c6"/><circle cx="60.3" cy="252.8" r="1.50" fill="#eed0c0"/><circle cx="163.1" cy="139.5" r="1.50" fill="#dcdddd"/><circle cx="161.3" cy="263.3" r="1.50" fill="#f1ccb8"/><circle cx="171.6" cy="235.6" r="1.50" fill="#ead5c9"/><circle cx="215.3" cy="68.8" r="1.50" fill="#e7d7ce"/><circle cx="95.6" cy="162.5" r="1.50" fill="#d7dce3"/><circle cx="130.6" cy="211.3" r="1.50" fill="#dcdddd"/><circle cx="230.9" cy="132.8" r="1.50" fill="#dcdddd"/><circle cx="110.0" cy="201.4" r="1.50" fill="#dfdbd9"/><circle cx="200.2" cy="214.2" r="1.50" fill="#d5dbe5"/><circle cx="182.5" cy="194.3" r="1.50" fill="#d8dce2"/><circle cx="213.3" cy="111.8" r="1.50" fill="#e3d9d3"/><circle cx="89.2" cy="125.5" r="1.50" fill="#dcdddd"/><circle cx="100.3" cy="290.8" r="1.50" fill="#dcdddd"/><circle cx="225.9" cy="120.4" r="1.50" fill="#dcdddd"/><circle cx="124.9" cy="194.3" r="1.50" fill="#dcdddd"/><circle cx="196.7" cy="184.1" r="1.50" fill="#f3c8b2"/><circle cx="111.3" cy="294.5" r="1.50" fill="#cd423b"/><circle cx="253.1" cy="209.4" r="1.50" fill="#efcebd"/><circle cx="243.6" cy="217.9" r="1.50" fill="#f5c4ac"/><circle cx="115.2" cy="255.7" r="1.50" fill="#e2dad5"/><circle cx="79.2" cy="287.6" r="1.50" fill="#edd1c2"/><circle cx="196.9" cy="160.5" r="1.50" fill="#d9dce1"/><circle cx="74.6" cy="333.6" r="1.50" fill="#b6cefa"/><circle cx="168.3" cy="182.3" r="1.50" fill="#e1dad6"/><circle cx="185.3" cy="246.2" r="1.50" fill="#b40426"/><circle cx="108.9" cy="275.1" r="1.50" fill="#b40426"/><circle cx="109.5" cy="316.0" r="1.50" fill="#d55042"/><circle cx="189.0" cy="163.6" r="1.50" fill="#d75445"/><circle cx="186.8" cy="275.9" r="1.50" fill="#e67259"/><circle cx="143.3" cy="200.5" r="1.50" fill="#dddcdc"/><circle cx="96.5" cy="313.3" r="1.50" fill="#e6d7cf"/><circle cx="102.6" cy="224.5" r="1.50" fill="#e4d9d2"/><circle cx="90.3" cy="299.1" r="1.50" fill="#dfdbd9"/><circle cx="83.7" cy="154.5" r="1.50" fill="#d9dce1"/><circle cx="249.5" cy="75.8" r="1.50" fill="#eed0c0"/><circle cx="71.5" cy="123.8" r="1.50" fill="#dbdcde"/><circle cx="198.2" cy="238.9" r="1.50" fill="#ead4c8"/><circle cx="132.9" cy="153.4" r="1.50" fill="#d7dce3"/><circle cx="210.8" cy="69.6" r="1.50" fill="#f4c6af"/><circle cx="179.5" cy="271.6" r="1.50" fill="#e0dbd8"/><circle cx="85.0" cy="166.9" r="1.50" fill="#dddcdc"/><circle cx="93.1" cy="230.1" r="1.50" fill="#e5d8d1"/><circle cx="109.3" cy="219.3" r="1.50" fill="#dcdddd"/><circle cx="238.1" cy="209.9" r="1.50" fill="#ebd3c6"/><circle cx="114.6" cy="130.7" r="1.50" fill="#e0dbd8"/><circle cx="181.8" cy="145.4" r="1.50" fill="#e8d6cc"/><circle cx="76.6" cy="235.4" r="1.50" fill="#c3d5f4"/><circle cx="108.3" cy="149.7" r="1.50" fill="#d9dce1"/><circle cx="187.6" cy="86.8" r="1.50" fill="#b40426"/><circle cx="216.9" cy="112.7" r="1.50" fill="#efcebd"/><circle cx="160.6" cy="228.4" r="1.50" fill="#f3c7b1"/><circle cx="93.5" cy="196.9" r="1.50" fill="#dedcdb"/><circle cx="220.6" cy="241.7" r="1.50" fill="#d7dce3"/><circle cx="104.2" cy="205.6" r="1.50" fill="#dcdddd"/><circle cx="222.3" cy="42.0" r="1.50" fill="#e5d8d1"/><circle cx="200.8" cy="185.0" r="1.50" fill="#edd1c2"/><circle cx="173.8" cy="181.2" r="1.50" fill="#e5d8d1"/><circle cx="223.8" cy="245.0" r="1.50" fill="#e7d7ce"/><circle cx="128.8" cy="235.0" r="1.50" fill="#e2dad5"/><circle cx="214.9" cy="176.0" r="1.50" fill="#f0cdbb"/><circle cx="209.0" cy="235.4" r="1.50" fill="#d8dce2"/><circle cx="166.1" cy="109.4" r="1.50" fill="#cdd9ec"/><circle cx="137.8" cy="285.6" r="1.50" fill="#e1dad6"/><circle cx="135.3" cy="313.3" r="1.50" fill="#dedcdb"/><circle cx="92.2" cy="245.6" r="1.50" fill="#e7d7ce"/><circle cx="116.1" cy="160.5" r="1.50" fill="#d7dce3"/><circle cx="61.3" cy="294.4" r="1.50" fill="#e8d6cc"/><circle cx="163.1" cy="255.2" r="1.50" fill="#e1dad6"/><circle cx="130.0" cy="203.5" r="1.50" fill="#e6d7cf"/><circle cx="81.4" cy="295.5" r="1.50" fill="#e2dad5"/><circle cx="85.5" cy="274.0" r="1.50" fill="#dddcdc"/><circle cx="248.4" cy="136.8" r="1.50" fill="#e2dad5"/><circle cx="87.3" cy="204.7" r="1.50" fill="#dadce0"/><circle cx="131.6" cy="192.4" r="1.50" fill="#dfdbd9"/><circle cx="174.0" cy="221.6" r="1.50" fill="#e0dbd8"/><circle cx="205.8" cy="247.5" r="1.50" fill="#c6d6f1"/><circle cx="151.3" cy="213.2" r="1.50" fill="#f49a7b"/><circle cx="119.1" cy="172.1" r="1.50" fill="#d6dce4"/><circle cx="92.0" cy="216.5" r="1.50" fill="#dddcdc"/><circle cx="119.3" cy="231.3" r="1.50" fill="#efcebd"/><circle cx="213.4" cy="163.1" r="1.50" fill="#f5c0a7"/><circle cx="125.7" cy="122.6" r="1.50" fill="#dcdddd"/><circle cx="151.0" cy="136.7" r="1.50" fill="#dedcdb"/><circle cx="233.4" cy="90.3" r="1.50" fill="#f29274"/><circle cx="113.8" cy="186.3" r="1.50" fill="#dfdbd9"/><circle cx="171.0" cy="269.3" r="1.50" fill="#e1dad6"/><circle cx="230.0" cy="191.8" r="1.50" fill="#b40426"/><circle cx="234.6" cy="267.6" r="1.50" fill="#dadce0"/><circle cx="57.2" cy="310.1" r="1.50" fill="#e0dbd8"/><circle cx="85.4" cy="231.7" r="1.50" fill="#e6d7cf"/><circle cx="79.2" cy="114.5" r="1.50" fill="#d3dbe7"/><circle cx="210.1" cy="236.3" r="1.50" fill="#dbdcde"/><circle cx="125.2" cy="112.7" r="1.50" fill="#dddcdc"/><circle cx="197.0" cy="205.4" r="1.50" fill="#c7d7f0"/><circle cx="111.3" cy="295.6" r="1.50" fill="#e0dbd8"/><circle cx="93.8" cy="311.2" r="1.50" fill="#e4d9d2"/><circle cx="164.5" cy="248.2" r="1.50" fill="#e3d9d3"/><circle cx="201.1" cy="200.0" r="1.50" fill="#d3dbe7"/><circle cx="114.4" cy="146.5" r="1.50" fill="#d8dce2"/><circle cx="147.7" cy="274.0" r="1.50" fill="#f1ccb8"/><circle cx="110.4" cy="285.0" r="1.50" fill="#e7745b"/><circle cx="169.1" cy="113.5" r="1.50" fill="#c7d7f0"/><circle cx="156.0" cy="151.6" r="1.50" fill="#dbdcde"/><circle cx="202.8" cy="220.4" r="1.50" fill="#b40426"/><circle cx="141.4" cy="222.3" r="1.50" fill="#f59d7e"/><circle cx="148.4" cy="251.1" r="1.50" fill="#cdd9ec"/><circle cx="150.5" cy="220.6" r="1.50" fill="#f6a283"/><circle cx="137.1" cy="101.5" r="1.50" fill="#e9d5cb"/><circle cx="188.4" cy="258.7" r="1.50" fill="#eed0c0"/><circle cx="56.2" cy="295.2" r="1.50" fill="#e1dad6"/><circle cx="126.4" cy="122.3" r="1.50" fill="#e2dad5"/><circle cx="57.3" cy="308.9" r="1.50" fill="#e2dad5"/><circle cx="100.6" cy="115.0" r="1.50" fill="#dfdbd9"/><circle cx="188.6" cy="131.5" r="1.50" fill="#d8dce2"/><circle cx="136.8" cy="98.1" r="1.50" fill="#d7dce3"/><circle cx="191.2" cy="67.8" r="1.50" fill="#f7b093"/><circle cx="106.0" cy="139.5" r="1.50" fill="#e7d7ce"/><circle cx="61.5" cy="160.4" r="1.50" fill="#b40426"/><circle cx="96.1" cy="298.9" r="1.50" fill="#cad8ef"/><circle cx="211.7" cy="167.0" r="1.50" fill="#b40426"/><circle cx="137.2" cy="193.5" r="1.50" fill="#ebd3c6"/><circle cx="131.1" cy="111.5" r="1.50" fill="#dddcdc"/><circle cx="56.3" cy="155.6" r="1.50" fill="#dedcdb"/><circle cx="111.9" cy="150.5" r="1.50" fill="#d6dce4"/><circle cx="214.7" cy="206.9" r="1.50" fill="#cfdaea"/><circle cx="158.2" cy="231.6" r="1.50" fill="#f4c5ad"/><circle cx="153.0" cy="290.3" r="1.50" fill="#dedcdb"/><circle cx="233.9" cy="124.3" r="1.50" fill="#b40426"/><circle cx="164.1" cy="105.2" r="1.50" fill="#bad0f8"/><circle cx="174.1" cy="104.9" r="1.50" fill="#cbd8ee"/><circle cx="140.0" cy="99.3" r="1.50" fill="#cfdaea"/><circle cx="192.5" cy="226.2" r="1.50" fill="#e1dad6"/><circle cx="185.8" cy="60.4" r="1.50" fill="#e5d8d1"/><circle cx="202.8" cy="185.3" r="1.50" fill="#ccd9ed"/><circle cx="146.0" cy="105.8" r="1.50" fill="#dedcdb"/><circle cx="201.2" cy="293.1" r="1.50" fill="#dadce0"/><circle cx="111.0" cy="234.7" r="1.50" fill="#e4d9d2"/><circle cx="153.4" cy="136.5" r="1.50" fill="#d4dbe6"/><circle cx="94.7" cy="249.7" r="1.50" fill="#e5d8d1"/><circle cx="246.6" cy="163.1" r="1.50" fill="#d6dce4"/><circle cx="105.8" cy="285.0" r="1.50" fill="#ee8468"/><circle cx="167.4" cy="137.7" r="1.50" fill="#cdd9ec"/><circle cx="117.4" cy="249.7" r="1.50" fill="#dedcdb"/><circle cx="244.4" cy="263.0" r="1.50" fill="#e8d6cc"/><circle cx="235.2" cy="205.2" r="1.50" fill="#f3c7b1"/><circle cx="80.1" cy="273.2" r="1.50" fill="#e9d5cb"/><circle cx="171.4" cy="159.4" r="1.50" fill="#e3d9d3"/><circle cx="241.8" cy="233.2" r="1.50" fill="#f5c1a9"/><circle cx="137.5" cy="192.7" r="1.50" fill="#e3d9d3"/><circle cx="126.7" cy="106.1" r="1.50" fill="#e7d7ce"/><circle cx="212.0" cy="85.6" r="1.50" fill="#ead4c8"/><circle cx="215.6" cy="173.3" r="1.50" fill="#e6d7cf"/><circle cx="207.9" cy="227.8" r="1.50" fill="#d7dce3"/><circle cx="157.7" cy="148.8" r="1.50" fill="#cbd8ee"/><circle cx="230.7" cy="239.6" r="1.50" fill="#e9785d"/><circle cx="110.8" cy="323.2" r="1.50" fill="#e6d7cf"/><circle cx="207.0" cy="250.9" r="1.50" fill="#e5d8d1"/><circle cx="121.8" cy="290.7" r="1.50" fill="#ead5c9"/><circle cx="124.5" cy="138.0" r="1.50" fill="#dddcdc"/><circle cx="156.8" cy="219.6" r="1.50" fill="#f6a283"/><circle cx="131.7" cy="138.2" r="1.50" fill="#e3d9d3"/><circle cx="185.5" cy="87.5" r="1.50" fill="#edd2c3"/><circle cx="230.9" cy="91.7" r="1.50" fill="#f1ccb8"/><circle cx="123.5" cy="291.2" r="1.50" fill="#e6d7cf"/><circle cx="185.6" cy="236.5" r="1.50" fill="#ead4c8"/><circle cx="94.5" cy="217.6" r="1.50" fill="#cedaeb"/><circle cx="106.4" cy="276.9" r="1.50" fill="#e7d7ce"/><circle cx="97.1" cy="270.5" r="1.50" fill="#dddcdc"/><circle cx="59.3" cy="144.5" r="1.50" fill="#f3c8b2"/><circle cx="212.0" cy="80.7" r="1.50" fill="#e1dad6"/><circle cx="90.6" cy="289.3" r="1.50" fill="#e8d6cc"/><circle cx="156.1" cy="146.6" r="1.50" fill="#dfdbd9"/><circle cx="102.5" cy="216.5" r="1.50" fill="#dbdcde"/><circle cx="102.1" cy="209.0" r="1.50" fill="#dadce0"/><circle cx="89.8" cy="159.9" r="1.50" fill="#c6d6f1"/><circle cx="113.2" cy="248.1" r="1.50" fill="#e2dad5"/><circle cx="49.9" cy="129.4" r="1.50" fill="#e0dbd8"/><circle cx="130.6" cy="164.8" r="1.50" fill="#e3d9d3"/><circle cx="146.5" cy="236.9" r="1.50" fill="#f7b99e"/><circle cx="123.3" cy="264.9" r="1.50" fill="#e3d9d3"/><circle cx="75.9" cy="264.3" r="1.50" fill="#ead5c9"/><circle cx="153.5" cy="220.4" r="1.50" fill="#f0cdbb"/><circle cx="218.8" cy="194.0" r="1.50" fill="#e5d8d1"/><circle cx="99.3" cy="153.3" r="1.50" fill="#ecd3c5"/><circle cx="80.1" cy="291.1" r="1.50" fill="#e6d7cf"/><circle cx="203.6" cy="62.5" r="1.50" fill="#f7b79b"/><circle cx="213.2" cy="113.2" r="1.50" fill="#f7b79b"/><circle cx="92.2" cy="202.6" r="1.50" fill="#dfdbd9"/><circle cx="86.6" cy="135.1" r="1.50" fill="#d8dce2"/><circle cx="142.0" cy="228.1" r="1.50" fill="#f59d7e"/><circle cx="182.4" cy="130.1" r="1.50" fill="#cbd8ee"/><circle cx="227.2" cy="231.1" r="1.50" fill="#ebd3c6"/><circle cx="123.1" cy="227.7" r="1.50" fill="#dedcdb"/><circle cx="107.9" cy="287.6" r="1.50" fill="#b40426"/><circle cx="172.8" cy="95.4" r="1.50" fill="#c3d5f4"/><circle cx="154.2" cy="205.2" r="1.50" fill="#f0cdbb"/><circle cx="121.0" cy="184.5" r="1.50" fill="#d9dce1"/><circle cx="146.8" cy="174.1" r="1.50" fill="#e6d7cf"/><circle cx="109.8" cy="199.0" r="1.50" fill="#c7d7f0"/><circle cx="208.9" cy="164.7" r="1.50" fill="#cfdaea"/><circle cx="94.6" cy="286.4" r="1.50" fill="#e9d5cb"/><circle cx="126.1" cy="157.2" r="1.50" fill="#dbdcde"/><circle cx="219.0" cy="127.1" r="1.50" fill="#e0dbd8"/><circle cx="154.4" cy="231.9" r="1.50" fill="#ebd3c6"/><circle cx="175.7" cy="258.4" r="1.50" fill="#e6d7cf"/><circle cx="147.3" cy="243.9" r="1.50" fill="#f7b497"/><circle cx="91.7" cy="238.0" r="1.50" fill="#dbdcde"/><circle cx="186.5" cy="174.5" r="1.50" fill="#b3cdfb"/><circle cx="82.8" cy="158.5" r="1.50" fill="#d8dce2"/><circle cx="123.5" cy="195.3" r="1.50" fill="#e4d9d2"/><circle cx="87.9" cy="262.3" r="1.50" fill="#e4d9d2"/><circle cx="131.8" cy="230.9" r="1.50" fill="#dedcdb"/><circle cx="203.9" cy="143.4" r="1.50" fill="#dfdbd9"/><circle cx="121.4" cy="233.4" r="1.50" fill="#e3d9d3"/><circle cx="151.6" cy="136.3" r="1.50" fill="#cfdaea"/><circle cx="179.1" cy="195.6" r="1.50" fill="#e2dad5"/><circle cx="168.9" cy="219.7" r="1.50" fill="#f6a586"/><circle cx="112.7" cy="275.9" r="1.50" fill="#ee8669"/><circle cx="61.2" cy="293.6" r="1.50" fill="#dedcdb"/><circle cx="98.6" cy="186.6" r="1.50" fill="#e0dbd8"/><circle cx="210.6" cy="202.3" r="1.50" fill="#d2dbe8"/><circle cx="86.3" cy="245.7" r="1.50" fill="#f6bda2"/><circle cx="149.2" cy="147.6" r="1.50" fill="#cedaeb"/><circle cx="69.7" cy="304.6" r="1.50" fill="#c1d4f4"/><circle cx="132.8" cy="230.8" r="1.50" fill="#f5c0a7"/><circle cx="113.8" cy="309.5" r="1.50" fill="#d9dce1"/><circle cx="220.5" cy="203.4" r="1.50" fill="#ebd3c6"/><circle cx="247.9" cy="255.7" r="1.50" fill="#e2dad5"/><circle cx="138.5" cy="192.9" r="1.50" fill="#ebd3c6"/><circle cx="124.4" cy="195.9" r="1.50" fill="#d2dbe8"/><circle cx="133.5" cy="180.1" r="1.50" fill="#f5c4ac"/><circle cx="153.5" cy="261.1" r="1.50" fill="#e5d8d1"/><circle cx="127.6" cy="293.2" r="1.50" fill="#e8d6cc"/><circle cx="87.0" cy="131.9" r="1.50" fill="#dcdddd"/><circle cx="89.9" cy="177.5" r="1.50" fill="#d8dce2"/><circle cx="203.5" cy="147.3" r="1.50" fill="#e2dad5"/><circle cx="194.6" cy="135.7" r="1.50" fill="#e0dbd8"/><circle cx="132.7" cy="166.8" r="1.50" fill="#dfdbd9"/><circle cx="161.3" cy="146.5" r="1.50" fill="#d1dae9"/><circle cx="127.3" cy="191.1" r="1.50" fill="#d6dce4"/><circle cx="160.2" cy="141.6" r="1.50" fill="#dbdcde"/><circle cx="126.3" cy="153.6" r="1.50" fill="#d9dce1"/><circle cx="88.5" cy="213.8" r="1.50" fill="#ead5c9"/><circle cx="235.5" cy="240.3" r="1.50" fill="#eed0c0"/><circle cx="211.0" cy="137.0" r="1.50" fill="#f6bda2"/><circle cx="132.3" cy="212.2" r="1.50" fill="#e7d7ce"/><circle cx="229.2" cy="124.5" r="1.50" fill="#d44e41"/><circle cx="52.5" cy="209.7" r="1.50" fill="#e4d9d2"/><circle cx="201.0" cy="188.3" r="1.50" fill="#dddcdc"/><circle cx="86.9" cy="191.9" r="1.50" fill="#d8dce2"/><circle cx="140.9" cy="194.9" r="1.50" fill="#ecd3c5"/><circle cx="200.1" cy="158.8" r="1.50" fill="#ead5c9"/><circle cx="56.4" cy="311.7" r="1.50" fill="#f4c6af"/><circle cx="226.5" cy="93.0" r="1.50" fill="#eed0c0"/><circle cx="52.6" cy="267.7" r="1.50" fill="#f7ac8e"/><circle cx="194.4" cy="216.8" r="1.50" fill="#e0dbd8"/><circle cx="86.4" cy="262.8" r="1.50" fill="#ead4c8"/><circle cx="144.0" cy="218.3" r="1.50" fill="#e5d8d1"/><circle cx="129.9" cy="297.7" r="1.50" fill="#e1dad6"/><circle cx="127.5" cy="164.3" r="1.50" fill="#dadce0"/><circle cx="118.2" cy="266.7" r="1.50" fill="#e1dad6"/><circle cx="192.9" cy="253.3" r="1.50" fill="#d4dbe6"/><circle cx="215.5" cy="245.2" r="1.50" fill="#9ebeff"/><circle cx="100.5" cy="254.3" r="1.50" fill="#e7d7ce"/><circle cx="236.7" cy="164.2" r="1.50" fill="#e7d7ce"/><circle cx="114.1" cy="179.1" r="1.50" fill="#dedcdb"/><circle cx="110.3" cy="300.5" r="1.50" fill="#f2cab5"/><circle cx="203.9" cy="89.4" r="1.50" fill="#e8d6cc"/><circle cx="177.3" cy="216.4" r="1.50" fill="#ccd9ed"/><circle cx="140.4" cy="96.0" r="1.50" fill="#e1dad6"/><circle cx="189.0" cy="92.6" r="1.50" fill="#e2dad5"/><circle cx="202.5" cy="85.9" r="1.50" fill="#ead4c8"/><circle cx="153.2" cy="250.4" r="1.50" fill="#f6bea4"/><circle cx="86.9" cy="191.6" r="1.50" fill="#dbdcde"/><circle cx="110.2" cy="293.4" r="1.50" fill="#d9dce1"/><circle cx="95.9" cy="145.1" r="1.50" fill="#e2dad5"/><circle cx="173.4" cy="162.2" r="1.50" fill="#ebd3c6"/><circle cx="107.5" cy="214.0" r="1.50" fill="#dcdddd"/><circle cx="113.7" cy="137.7" r="1.50" fill="#e0dbd8"/><circle cx="174.8" cy="187.2" r="1.50" fill="#d8dce2"/><circle cx="62.8" cy="250.0" r="1.50" fill="#b40426"/><circle cx="97.9" cy="259.3" r="1.50" fill="#e3d9d3"/><circle cx="216.2" cy="227.4" r="1.50" fill="#f1ccb8"/><circle cx="186.0" cy="96.3" r="1.50" fill="#aec9fc"/><circle cx="173.6" cy="216.2" r="1.50" fill="#e2dad5"/><circle cx="116.3" cy="114.2" r="1.50" fill="#dddcdc"/><circle cx="59.3" cy="193.6" r="1.50" fill="#d5dbe5"/><circle cx="155.4" cy="307.2" r="1.50" fill="#dc5d4a"/><circle cx="63.3" cy="284.8" r="1.50" fill="#e9d5cb"/><circle cx="143.7" cy="125.4" r="1.50" fill="#d8dce2"/><circle cx="72.9" cy="191.3" r="1.50" fill="#ead4c8"/><circle cx="200.0" cy="169.3" r="1.50" fill="#edd1c2"/><circle cx="149.6" cy="176.7" r="1.50" fill="#dcdddd"/><circle cx="167.7" cy="272.9" r="1.50" fill="#e8d6cc"/><circle cx="230.2" cy="110.8" r="1.50" fill="#dadce0"/><circle cx="151.7" cy="112.0" r="1.50" fill="#cdd9ec"/><circle cx="124.6" cy="274.8" r="1.50" fill="#d9dce1"/><circle cx="184.1" cy="130.5" r="1.50" fill="#cad8ef"/><circle cx="186.4" cy="69.7" r="1.50" fill="#d65244"/><circle cx="117.9" cy="260.8" r="1.50" fill="#e4d9d2"/><circle cx="169.8" cy="218.1" r="1.50" fill="#d8dce2"/><circle cx="135.2" cy="241.7" r="1.50" fill="#e7d7ce"/><circle cx="110.4" cy="257.6" r="1.50" fill="#c7d7f0"/><circle cx="141.4" cy="201.9" r="1.50" fill="#e6d7cf"/><circle cx="78.8" cy="225.9" r="1.50" fill="#d8dce2"/><circle cx="101.6" cy="220.9" r="1.50" fill="#efcfbf"/><circle cx="174.8" cy="112.6" r="1.50" fill="#d2dbe8"/><circle cx="207.4" cy="58.7" r="1.50" fill="#f5c1a9"/><circle cx="125.9" cy="270.7" r="1.50" fill="#e4d9d2"/><circle cx="199.7" cy="132.4" r="1.50" fill="#d6dce4"/><circle cx="144.9" cy="171.3" r="1.50" fill="#eed0c0"/><circle cx="176.9" cy="102.1" r="1.50" fill="#adc9fd"/><circle cx="206.4" cy="171.7" r="1.50" fill="#d65244"/><circle cx="92.5" cy="285.1" r="1.50" fill="#edd1c2"/><circle cx="146.6" cy="165.4" r="1.50" fill="#d7dce3"/><circle cx="90.9" cy="131.3" r="1.50" fill="#dddcdc"/><circle cx="222.4" cy="65.8" r="1.50" fill="#f2cbb7"/><circle cx="145.2" cy="88.5" r="1.50" fill="#e7d7ce"/><circle cx="197.5" cy="263.2" r="1.50" fill="#f2cbb7"/><circle cx="171.9" cy="200.6" r="1.50" fill="#dfdbd9"/><circle cx="126.9" cy="276.8" r="1.50" fill="#e0dbd8"/><circle cx="160.6" cy="126.2" r="1.50" fill="#d5dbe5"/><circle cx="142.3" cy="195.2" r="1.50" fill="#e5d8d1"/><circle cx="115.0" cy="241.9" r="1.50" fill="#d8dce2"/><circle cx="155.5" cy="140.1" r="1.50" fill="#d9dce1"/><circle cx="236.5" cy="68.3" r="1.50" fill="#ebd3c6"/><circle cx="76.9" cy="170.2" r="1.50" fill="#dcdddd"/><circle cx="184.4" cy="264.6" r="1.50" fill="#f3c8b2"/><circle cx="149.9" cy="81.0" r="1.50" fill="#e3d9d3"/><circle cx="65.0" cy="303.2" r="1.50" fill="#ead4c8"/><circle cx="160.5" cy="219.9" r="1.50" fill="#e6d7cf"/><circle cx="61.7" cy="208.9" r="1.50" fill="#a6c4fe"/><circle cx="123.0" cy="256.3" r="1.50" fill="#edd1c2"/><circle cx="147.2" cy="95.0" r="1.50" fill="#e4d9d2"/><circle cx="117.4" cy="246.0" r="1.50" fill="#dcdddd"/><circle cx="237.5" cy="250.7" r="1.50" fill="#b40426"/><circle cx="111.5" cy="329.9" r="1.50" fill="#e2dad5"/><circle cx="126.4" cy="139.0" r="1.50" fill="#dfdbd9"/><circle cx="174.8" cy="224.1" r="1.50" fill="#e1dad6"/><circle cx="119.0" cy="212.8" r="1.50" fill="#e1dad6"/><circle cx="185.8" cy="64.6" r="1.50" fill="#ee8468"/><circle cx="198.3" cy="158.1" r="1.50" fill="#e0dbd8"/><circle cx="201.8" cy="133.2" r="1.50" fill="#c9d7f0"/><circle cx="106.8" cy="249.7" r="1.50" fill="#dddcdc"/><circle cx="184.1" cy="146.6" r="1.50" fill="#e5d8d1"/><circle cx="178.4" cy="251.8" r="1.50" fill="#e4d9d2"/><circle cx="200.4" cy="75.4" r="1.50" fill="#f7b599"/><circle cx="186.8" cy="206.1" r="1.50" fill="#d7dce3"/><circle cx="68.2" cy="245.1" r="1.50" fill="#ebd3c6"/><circle cx="175.9" cy="206.6" r="1.50" fill="#e3d9d3"/><circle cx="95.0" cy="285.9" r="1.50" fill="#e6d7cf"/><circle cx="165.7" cy="123.8" r="1.50" fill="#d9dce1"/><circle cx="145.8" cy="147.1" r="1.50" fill="#d7dce3"/><circle cx="239.8" cy="228.0" r="1.50" fill="#f1ccb8"/><circle cx="231.1" cy="167.6" r="1.50" fill="#dbdcde"/><circle cx="218.4" cy="224.5" r="1.50" fill="#e9d5cb"/><circle cx="251.6" cy="172.5" r="1.50" fill="#e6d7cf"/><circle cx="199.1" cy="254.8" r="1.50" fill="#ead5c9"/><circle cx="218.0" cy="248.8" r="1.50" fill="#cdd9ec"/><circle cx="179.6" cy="115.2" r="1.50" fill="#edd2c3"/><circle cx="204.0" cy="158.7" r="1.50" fill="#e0dbd8"/><circle cx="157.4" cy="223.2" r="1.50" fill="#e0dbd8"/><circle cx="170.5" cy="215.5" r="1.50" fill="#dadce0"/><circle cx="66.9" cy="294.3" r="1.50" fill="#d3dbe7"/><circle cx="192.0" cy="250.1" r="1.50" fill="#edd2c3"/><circle cx="79.3" cy="221.8" r="1.50" fill="#d9dce1"/><circle cx="211.3" cy="146.8" r="1.50" fill="#ecd3c5"/><circle cx="148.4" cy="165.6" r="1.50" fill="#dadce0"/><circle cx="160.4" cy="112.5" r="1.50" fill="#c7d7f0"/><circle cx="125.2" cy="276.9" r="1.50" fill="#f29274"/><circle cx="124.6" cy="109.1" r="1.50" fill="#dfdbd9"/><circle cx="68.5" cy="257.4" r="1.50" fill="#e4d9d2"/><circle cx="206.5" cy="89.0" r="1.50" fill="#ebd3c6"/><circle cx="184.1" cy="147.5" r="1.50" fill="#d7dce3"/><circle cx="80.4" cy="305.7" r="1.50" fill="#d8dce2"/><circle cx="178.9" cy="72.5" r="1.50" fill="#f6bda2"/><circle cx="206.4" cy="222.9" r="1.50" fill="#ead5c9"/><circle cx="233.6" cy="136.2" r="1.50" fill="#ebd3c6"/><circle cx="182.4" cy="91.5" r="1.50" fill="#dedcdb"/><circle cx="208.5" cy="189.8" r="1.50" fill="#d5dbe5"/><circle cx="136.5" cy="294.2" r="1.50" fill="#dbdcde"/><circle cx="170.5" cy="204.3" r="1.50" fill="#dadce0"/><circle cx="231.6" cy="137.4" r="1.50" fill="#e6d7cf"/><circle cx="72.0" cy="188.0" r="1.50" fill="#e1dad6"/><circle cx="175.8" cy="234.1" r="1.50" fill="#dddcdc"/><circle cx="137.3" cy="146.0" r="1.50" fill="#d3dbe7"/><circle cx="129.5" cy="92.4" r="1.50" fill="#e4d9d2"/><circle cx="222.6" cy="216.4" r="1.50" fill="#f4c5ad"/><circle cx="105.0" cy="229.6" r="1.50" fill="#dedcdb"/><circle cx="210.4" cy="179.3" r="1.50" fill="#df634e"/><circle cx="162.7" cy="186.9" r="1.50" fill="#e3d9d3"/><circle cx="129.6" cy="214.1" r="1.50" fill="#e3d9d3"/><circle cx="77.6" cy="213.1" r="1.50" fill="#dbdcde"/><circle cx="71.9" cy="152.6" r="1.50" fill="#dedcdb"/><circle cx="240.2" cy="73.6" r="1.50" fill="#f0cdbb"/><circle cx="169.0" cy="192.9" r="1.50" fill="#dbdcde"/><circle cx="91.1" cy="212.6" r="1.50" fill="#dadce0"/><circle cx="212.4" cy="91.2" r="1.50" fill="#ead4c8"/><circle cx="133.2" cy="106.1" r="1.50" fill="#ebd3c6"/><circle cx="108.9" cy="143.9" r="1.50" fill="#dddcdc"/><circle cx="181.6" cy="121.2" r="1.50" fill="#c9d7f0"/><circle cx="184.3" cy="152.9" r="1.50" fill="#dfdbd9"/><circle cx="156.5" cy="164.0" r="1.50" fill="#dedcdb"/><circle cx="187.9" cy="232.4" r="1.50" fill="#f2cab5"/><circle cx="227.1" cy="238.1" r="1.50" fill="#e0654f"/><circle cx="156.3" cy="124.3" r="1.50" fill="#a3c2fe"/><circle cx="181.9" cy="148.3" r="1.50" fill="#c7d7f0"/><circle cx="179.2" cy="248.3" r="1.50" fill="#e5d8d1"/><circle cx="175.7" cy="187.7" r="1.50" fill="#dddcdc"/><circle cx="204.3" cy="72.3" r="1.50" fill="#e3d9d3"/><circle cx="114.1" cy="199.1" r="1.50" fill="#d9dce1"/><circle cx="194.4" cy="175.8" r="1.50" fill="#f2cab5"/><circle cx="144.3" cy="145.2" r="1.50" fill="#d9dce1"/><circle cx="208.2" cy="247.4" r="1.50" fill="#c5d6f2"/><circle cx="72.4" cy="132.5" r="1.50" fill="#e1dad6"/><circle cx="84.1" cy="275.0" r="1.50" fill="#f2cab5"/><circle cx="116.0" cy="163.7" r="1.50" fill="#dfdbd9"/><circle cx="244.7" cy="241.4" r="1.50" fill="#e7d7ce"/><circle cx="52.3" cy="291.4" r="1.50" fill="#ead4c8"/><circle cx="54.1" cy="280.7" r="1.50" fill="#dfdbd9"/><circle cx="152.3" cy="132.3" r="1.50" fill="#d6dce4"/><circle cx="140.0" cy="194.5" r="1.50" fill="#e3d9d3"/><circle cx="226.0" cy="116.8" r="1.50" fill="#dadce0"/><circle cx="98.0" cy="260.5" r="1.50" fill="#dddcdc"/><circle cx="100.6" cy="159.6" r="1.50" fill="#e2dad5"/><circle cx="149.6" cy="277.3" r="1.50" fill="#e7d7ce"/><circle cx="77.4" cy="324.3" r="1.50" fill="#cbd8ee"/><circle cx="85.3" cy="306.4" r="1.50" fill="#e4d9d2"/><circle cx="154.4" cy="216.1" r="1.50" fill="#e4d9d2"/><circle cx="220.3" cy="126.5" r="1.50" fill="#ead5c9"/><circle cx="182.7" cy="87.0" r="1.50" fill="#ebd3c6"/><circle cx="84.3" cy="134.6" r="1.50" fill="#f1ccb8"/><circle cx="166.0" cy="213.3" r="1.50" fill="#e5d8d1"/><circle cx="149.5" cy="110.5" r="1.50" fill="#dfdbd9"/><circle cx="203.8" cy="207.9" r="1.50" fill="#d4dbe6"/><circle cx="102.3" cy="104.3" r="1.50" fill="#dadce0"/><circle cx="71.5" cy="170.7" r="1.50" fill="#d7dce3"/><circle cx="112.4" cy="218.8" r="1.50" fill="#d9dce1"/><circle cx="199.2" cy="71.9" r="1.50" fill="#d0473d"/><circle cx="117.4" cy="285.2" r="1.50" fill="#eb7d62"/><circle cx="148.8" cy="178.4" r="1.50" fill="#dddcdc"/><circle cx="151.7" cy="157.9" r="1.50" fill="#dadce0"/><circle cx="183.9" cy="170.9" r="1.50" fill="#d1dae9"/><circle cx="248.0" cy="265.6" r="1.50" fill="#f6bfa6"/><circle cx="206.0" cy="208.9" r="1.50" fill="#bfd3f6"/><circle cx="157.9" cy="198.7" r="1.50" fill="#f5c1a9"/><circle cx="136.3" cy="83.7" r="1.50" fill="#e0dbd8"/><circle cx="153.5" cy="158.2" r="1.50" fill="#dedcdb"/><circle cx="70.4" cy="281.8" r="1.50" fill="#e2dad5"/><circle cx="75.9" cy="268.3" r="1.50" fill="#f2c9b4"/><circle cx="54.6" cy="214.7" r="1.50" fill="#dcdddd"/><circle cx="169.1" cy="234.4" r="1.50" fill="#eed0c0"/><circle cx="240.6" cy="58.2" r="1.50" fill="#e5d8d1"/><circle cx="122.5" cy="132.9" r="1.50" fill="#dedcdb"/><circle cx="219.7" cy="249.4" r="1.50" fill="#b40426"/><circle cx="93.1" cy="221.5" r="1.50" fill="#ebd3c6"/><circle cx="169.7" cy="98.3" r="1.50" fill="#d9dce1"/><circle cx="88.6" cy="121.4" r="1.50" fill="#e5d8d1"/><circle cx="196.2" cy="144.5" r="1.50" fill="#cfdaea"/><circle cx="244.8" cy="270.7" r="1.50" fill="#d9dce1"/><circle cx="195.4" cy="113.9" r="1.50" fill="#d3dbe7"/><circle cx="97.5" cy="307.5" r="1.50" fill="#bed2f6"/><circle cx="229.8" cy="103.5" r="1.50" fill="#dfdbd9"/><circle cx="126.2" cy="184.8" r="1.50" fill="#d8dce2"/><circle cx="79.5" cy="167.4" r="1.50" fill="#d5dbe5"/><circle cx="201.0" cy="89.3" r="1.50" fill="#d4dbe6"/><circle cx="154.9" cy="131.0" r="1.50" fill="#d4dbe6"/><circle cx="187.6" cy="194.7" r="1.50" fill="#dddcdc"/><circle cx="161.5" cy="178.9" r="1.50" fill="#e0dbd8"/><circle cx="193.7" cy="66.1" r="1.50" fill="#e9d5cb"/><circle cx="97.6" cy="294.9" r="1.50" fill="#cbd8ee"/><circle cx="88.6" cy="132.2" r="1.50" fill="#dedcdb"/><circle cx="128.8" cy="295.6" r="1.50" fill="#e2dad5"/><circle cx="183.4" cy="276.7" r="1.50" fill="#efcebd"/><circle cx="246.5" cy="140.4" r="1.50" fill="#dddcdc"/><circle cx="139.3" cy="185.4" r="1.50" fill="#d8dce2"/><circle cx="109.7" cy="229.1" r="1.50" fill="#edd1c2"/><circle cx="99.4" cy="271.0" r="1.50" fill="#f1ccb8"/><circle cx="123.8" cy="211.7" r="1.50" fill="#dbdcde"/><circle cx="229.5" cy="149.4" r="1.50" fill="#d6dce4"/><circle cx="100.8" cy="247.0" r="1.50" fill="#ead4c8"/><circle cx="85.9" cy="136.3" r="1.50" fill="#e9d5cb"/><circle cx="133.5" cy="233.9" r="1.50" fill="#dedcdb"/><circle cx="155.8" cy="207.5" r="1.50" fill="#e0dbd8"/><circle cx="221.5" cy="71.3" r="1.50" fill="#e9d5cb"/><circle cx="222.7" cy="226.2" r="1.50" fill="#f2c9b4"/><circle cx="209.0" cy="64.1" r="1.50" fill="#f39475"/><circle cx="85.0" cy="250.1" r="1.50" fill="#e5d8d1"/><circle cx="216.2" cy="86.6" r="1.50" fill="#dcdddd"/><circle cx="231.3" cy="254.1" r="1.50" fill="#dedcdb"/><circle cx="143.3" cy="292.4" r="1.50" fill="#dfdbd9"/><circle cx="121.7" cy="230.7" r="1.50" fill="#e1dad6"/><circle cx="72.2" cy="121.3" r="1.50" fill="#d8dce2"/><circle cx="75.9" cy="246.7" r="1.50" fill="#e2dad5"/><circle cx="219.0" cy="127.4" r="1.50" fill="#f5c2aa"/><circle cx="97.7" cy="176.3" r="1.50" fill="#dbdcde"/><circle cx="92.3" cy="210.2" r="1.50" fill="#ead4c8"/><circle cx="144.0" cy="129.8" r="1.50" fill="#dfdbd9"/><circle cx="58.1" cy="171.5" r="1.50" fill="#b40426"/><circle cx="245.8" cy="175.2" r="1.50" fill="#ead5c9"/><circle cx="192.0" cy="159.0" r="1.50" fill="#f7ba9f"/><circle cx="245.1" cy="235.1" r="1.50" fill="#edd2c3"/><circle cx="176.3" cy="159.4" r="1.50" fill="#ecd3c5"/><circle cx="81.4" cy="157.9" r="1.50" fill="#dadce0"/><circle cx="86.5" cy="204.7" r="1.50" fill="#dbdcde"/><circle cx="64.8" cy="156.4" r="1.50" fill="#e3d9d3"/><circle cx="204.1" cy="62.1" r="1.50" fill="#f3c8b2"/><circle cx="208.8" cy="85.4" r="1.50" fill="#f0cdbb"/><circle cx="124.5" cy="297.9" r="1.50" fill="#e2dad5"/><circle cx="198.8" cy="187.9" r="1.50" fill="#d7dce3"/><circle cx="154.5" cy="256.7" r="1.50" fill="#f7b396"/><circle cx="59.5" cy="326.8" r="1.50" fill="#dbdcde"/><circle cx="181.9" cy="158.9" r="1.50" fill="#ead5c9"/><circle cx="220.0" cy="253.0" r="1.50" fill="#d6dce4"/><circle cx="210.3" cy="173.6" r="1.50" fill="#e36b54"/><circle cx="95.3" cy="149.6" r="1.50" fill="#dedcdb"/><circle cx="64.9" cy="276.9" r="1.50" fill="#e7d7ce"/><circle cx="204.6" cy="135.3" r="1.50" fill="#dddcdc"/><circle cx="110.2" cy="307.2" r="1.50" fill="#ebd3c6"/><circle cx="163.6" cy="145.2" r="1.50" fill="#e4d9d2"/><circle cx="112.2" cy="229.7" r="1.50" fill="#e5d8d1"/><circle cx="82.8" cy="284.6" r="1.50" fill="#dedcdb"/><circle cx="211.7" cy="44.0" r="1.50" fill="#f7b194"/><circle cx="63.9" cy="266.9" r="1.50" fill="#e46e56"/><circle cx="196.9" cy="194.1" r="1.50" fill="#dcdddd"/><circle cx="160.3" cy="140.2" r="1.50" fill="#dbdcde"/><circle cx="156.9" cy="117.5" r="1.50" fill="#d3dbe7"/><circle cx="187.1" cy="100.2" r="1.50" fill="#aec9fc"/><circle cx="165.9" cy="255.8" r="1.50" fill="#f5c2aa"/><circle cx="134.9" cy="239.0" r="1.50" fill="#ecd3c5"/><circle cx="211.4" cy="174.9" r="1.50" fill="#b40426"/><circle cx="120.2" cy="316.5" r="1.50" fill="#d24b40"/><circle cx="201.6" cy="153.6" r="1.50" fill="#cbd8ee"/><circle cx="68.7" cy="141.6" r="1.50" fill="#d7dce3"/><circle cx="69.3" cy="204.5" r="1.50" fill="#dfdbd9"/><circle cx="88.2" cy="262.2" r="1.50" fill="#e8d6cc"/><circle cx="183.5" cy="196.0" r="1.50" fill="#e1dad6"/><circle cx="135.5" cy="158.5" r="1.50" fill="#cedaeb"/><circle cx="247.6" cy="84.5" r="1.50" fill="#f2c9b4"/><circle cx="237.3" cy="59.5" r="1.50" fill="#f7b99e"/><circle cx="180.0" cy="71.2" r="1.50" fill="#cf453c"/><circle cx="80.3" cy="330.9" r="1.50" fill="#cfdaea"/><circle cx="247.4" cy="251.7" r="1.50" fill="#e3d9d3"/><circle cx="98.1" cy="316.0" r="1.50" fill="#dfdbd9"/><circle cx="196.0" cy="171.3" r="1.50" fill="#c4d5f3"/><circle cx="71.8" cy="239.3" r="1.50" fill="#d9dce1"/><circle cx="86.3" cy="243.6" r="1.50" fill="#edd1c2"/><circle cx="65.1" cy="151.8" r="1.50" fill="#dcdddd"/><circle cx="76.4" cy="236.4" r="1.50" fill="#e8d6cc"/><circle cx="206.8" cy="104.8" r="1.50" fill="#e3d9d3"/><circle cx="147.0" cy="130.8" r="1.50" fill="#d8dce2"/><circle cx="144.9" cy="225.2" r="1.50" fill="#efcfbf"/><circle cx="72.9" cy="141.6" r="1.50" fill="#dadce0"/><circle cx="170.0" cy="91.9" r="1.50" fill="#dadce0"/><circle cx="126.9" cy="99.5" r="1.50" fill="#dfdbd9"/><circle cx="184.7" cy="257.7" r="1.50" fill="#f1ccb8"/><circle cx="56.3" cy="157.3" r="1.50" fill="#dadce0"/><circle cx="79.0" cy="319.8" r="1.50" fill="#dfdbd9"/><circle cx="104.0" cy="244.4" r="1.50" fill="#e2dad5"/><circle cx="70.9" cy="152.5" r="1.50" fill="#e1dad6"/><circle cx="186.7" cy="162.1" r="1.50" fill="#f3c8b2"/><circle cx="69.8" cy="216.9" r="1.50" fill="#d7dce3"/><circle cx="83.3" cy="201.1" r="1.50" fill="#dadce0"/><circle cx="114.8" cy="301.4" r="1.50" fill="#e7d7ce"/><circle cx="221.1" cy="178.5" r="1.50" fill="#f6bfa6"/><circle cx="102.8" cy="257.3" r="1.50" fill="#dfdbd9"/><circle cx="127.8" cy="113.7" r="1.50" fill="#dfdbd9"/><circle cx="225.1" cy="194.9" r="1.50" fill="#ecd3c5"/><circle cx="215.7" cy="225.0" r="1.50" fill="#d1dae9"/><circle cx="138.7" cy="274.9" r="1.50" fill="#e7d7ce"/><circle cx="164.4" cy="268.6" r="1.50" fill="#e6d7cf"/><circle cx="161.7" cy="256.4" r="1.50" fill="#f3c8b2"/><circle cx="170.1" cy="191.4" r="1.50" fill="#dedcdb"/><circle cx="158.4" cy="133.7" r="1.50" fill="#d5dbe5"/><circle cx="69.6" cy="258.0" r="1.50" fill="#f7b396"/><circle cx="161.0" cy="117.7" r="1.50" fill="#d7dce3"/><circle cx="137.1" cy="217.2" r="1.50" fill="#dcdddd"/><circle cx="159.7" cy="132.6" r="1.50" fill="#dfdbd9"/><circle cx="83.3" cy="315.3" r="1.50" fill="#dddcdc"/><circle cx="108.9" cy="211.8" r="1.50" fill="#dadce0"/><circle cx="160.9" cy="160.3" r="1.50" fill="#f2c9b4"/><circle cx="59.2" cy="162.2" r="1.50" fill="#b40426"/><circle cx="116.7" cy="204.8" r="1.50" fill="#d9dce1"/><circle cx="196.7" cy="192.2" r="1.50" fill="#d9dce1"/><circle cx="112.2" cy="266.7" r="1.50" fill="#d9dce1"/><circle cx="120.8" cy="92.0" r="1.50" fill="#dedcdb"/><circle cx="222.0" cy="227.9" r="1.50" fill="#f2cbb7"/><circle cx="122.5" cy="279.2" r="1.50" fill="#e0dbd8"/><circle cx="99.0" cy="320.1" r="1.50" fill="#e1dad6"/><circle cx="67.6" cy="293.2" r="1.50" fill="#dddcdc"/><circle cx="197.6" cy="148.5" r="1.50" fill="#dcdddd"/><circle cx="205.9" cy="65.0" r="1.50" fill="#f5c4ac"/><circle cx="54.6" cy="279.5" r="1.50" fill="#f3c8b2"/><circle cx="193.5" cy="93.1" r="1.50" fill="#c4d5f3"/><circle cx="228.4" cy="209.3" r="1.50" fill="#ebd3c6"/><circle cx="126.6" cy="186.9" r="1.50" fill="#dddcdc"/><circle cx="192.5" cy="250.5" r="1.50" fill="#efcebd"/><circle cx="47.1" cy="240.1" r="1.50" fill="#e5d8d1"/><circle cx="106.4" cy="166.7" r="1.50" fill="#dbdcde"/><circle cx="115.3" cy="105.9" r="1.50" fill="#d7dce3"/><circle cx="86.2" cy="144.5" r="1.50" fill="#dfdbd9"/><circle cx="140.5" cy="171.2" r="1.50" fill="#dfdbd9"/><circle cx="228.0" cy="176.1" r="1.50" fill="#ead5c9"/><circle cx="210.5" cy="158.9" r="1.50" fill="#edd2c3"/><circle cx="97.0" cy="238.8" r="1.50" fill="#e2dad5"/><circle cx="152.3" cy="173.8" r="1.50" fill="#e2dad5"/><circle cx="151.0" cy="264.4" r="1.50" fill="#f6bda2"/><circle cx="203.2" cy="69.4" r="1.50" fill="#f7a889"/><circle cx="153.2" cy="123.1" r="1.50" fill="#d4dbe6"/><circle cx="78.0" cy="188.8" r="1.50" fill="#dcdddd"/><circle cx="54.1" cy="245.7" r="1.50" fill="#f0cdbb"/><circle cx="191.2" cy="88.4" r="1.50" fill="#f7ba9f"/><circle cx="61.6" cy="277.5" r="1.50" fill="#e97a5f"/><circle cx="167.5" cy="78.1" r="1.50" fill="#e36b54"/><circle cx="178.4" cy="231.1" r="1.50" fill="#dfdbd9"/><circle cx="57.3" cy="243.8" r="1.50" fill="#ba162b"/><circle cx="164.8" cy="202.6" r="1.50" fill="#e8d6cc"/><circle cx="147.5" cy="97.9" r="1.50" fill="#f2cbb7"/><circle cx="216.3" cy="195.8" r="1.50" fill="#e3d9d3"/><circle cx="143.8" cy="155.8" r="1.50" fill="#cdd9ec"/><circle cx="149.0" cy="241.2" r="1.50" fill="#f49a7b"/><circle cx="144.3" cy="206.8" r="1.50" fill="#f7b79b"/><circle cx="131.9" cy="112.7" r="1.50" fill="#e1dad6"/><circle cx="130.0" cy="194.9" r="1.50" fill="#e3d9d3"/><circle cx="134.0" cy="104.6" r="1.50" fill="#e7d7ce"/><circle cx="86.6" cy="182.5" r="1.50" fill="#dcdddd"/><circle cx="139.3" cy="270.3" r="1.50" fill="#e8d6cc"/><circle cx="249.4" cy="48.5" r="1.50" fill="#b40426"/><circle cx="77.3" cy="182.7" r="1.50" fill="#e1dad6"/><circle cx="141.5" cy="230.0" r="1.50" fill="#e6d7cf"/><circle cx="209.6" cy="229.5" r="1.50" fill="#d1dae9"/><circle cx="151.3" cy="208.4" r="1.50" fill="#f4c6af"/><circle cx="120.2" cy="296.2" r="1.50" fill="#dddcdc"/><circle cx="71.0" cy="233.0" r="1.50" fill="#dedcdb"/><circle cx="200.7" cy="169.4" r="1.50" fill="#e4d9d2"/><circle cx="94.7" cy="197.9" r="1.50" fill="#d9dce1"/><circle cx="183.9" cy="262.0" r="1.50" fill="#dcdddd"/><circle cx="167.9" cy="240.3" r="1.50" fill="#e7d7ce"/><circle cx="189.3" cy="116.2" r="1.50" fill="#d1dae9"/><circle cx="176.0" cy="263.6" r="1.50" fill="#e1dad6"/><circle cx="134.6" cy="235.7" r="1.50" fill="#f7b89c"/><circle cx="192.3" cy="215.1" r="1.50" fill="#cdd9ec"/><circle cx="154.7" cy="211.4" r="1.50" fill="#e6d7cf"/><circle cx="94.5" cy="220.1" r="1.50" fill="#e3d9d3"/><circle cx="187.7" cy="56.3" r="1.50" fill="#f5c1a9"/><circle cx="74.6" cy="318.2" r="1.50" fill="#d8dce2"/><circle cx="224.4" cy="57.9" r="1.50" fill="#e7d7ce"/><circle cx="215.8" cy="134.5" r="1.50" fill="#dc5d4a"/><circle cx="77.0" cy="263.5" r="1.50" fill="#e1dad6"/><circle cx="221.6" cy="229.0" r="1.50" fill="#f0cdbb"/><circle cx="105.9" cy="243.6" r="1.50" fill="#e9d5cb"/><circle cx="155.2" cy="113.4" r="1.50" fill="#cdd9ec"/><circle cx="103.5" cy="256.0" r="1.50" fill="#e7d7ce"/><circle cx="136.8" cy="131.3" r="1.50" fill="#dbdcde"/><circle cx="206.6" cy="139.0" r="1.50" fill="#dedcdb"/><circle cx="147.5" cy="233.2" r="1.50" fill="#e1dad6"/><circle cx="116.4" cy="314.5" r="1.50" fill="#ead5c9"/><circle cx="193.4" cy="171.7" r="1.50" fill="#ead4c8"/><circle cx="110.2" cy="246.7" r="1.50" fill="#dadce0"/><circle cx="88.0" cy="223.7" r="1.50" fill="#dfdbd9"/><circle cx="93.5" cy="145.7" r="1.50" fill="#f3c7b1"/><circle cx="217.9" cy="245.5" r="1.50" fill="#cad8ef"/><circle cx="97.7" cy="289.2" r="1.50" fill="#dedcdb"/><circle cx="211.2" cy="254.0" r="1.50" fill="#c4d5f3"/><circle cx="159.2" cy="227.6" r="1.50" fill="#eed0c0"/><circle cx="189.1" cy="156.5" r="1.50" fill="#b40426"/><circle cx="87.7" cy="246.4" r="1.50" fill="#f5c2aa"/><circle cx="174.7" cy="206.8" r="1.50" fill="#e2dad5"/><circle cx="101.5" cy="243.3" r="1.50" fill="#ead4c8"/><circle cx="161.6" cy="287.0" r="1.50" fill="#e7d7ce"/><circle cx="136.9" cy="118.5" r="1.50" fill="#e2dad5"/><circle cx="217.8" cy="265.0" r="1.50" fill="#dbdcde"/><circle cx="238.2" cy="144.3" r="1.50" fill="#e0dbd8"/><circle cx="67.5" cy="211.4" r="1.50" fill="#e5d8d1"/><circle cx="225.2" cy="55.4" r="1.50" fill="#f0cdbb"/><circle cx="111.8" cy="162.4" r="1.50" fill="#dadce0"/><circle cx="155.2" cy="275.0" r="1.50" fill="#f7bca1"/><circle cx="215.8" cy="188.2" r="1.50" fill="#b40426"/><circle cx="227.5" cy="112.8" r="1.50" fill="#b40426"/><circle cx="88.7" cy="156.3" r="1.50" fill="#dadce0"/><circle cx="125.3" cy="303.2" r="1.50" fill="#ead5c9"/><circle cx="215.4" cy="176.7" r="1.50" fill="#f3c7b1"/><circle cx="117.9" cy="166.8" r="1.50" fill="#cdd9ec"/><circle cx="119.9" cy="288.5" r="1.50" fill="#e6d7cf"/><circle cx="220.8" cy="155.1" r="1.50" fill="#e7d7ce"/><circle cx="165.2" cy="178.6" r="1.50" fill="#d6dce4"/><circle cx="171.7" cy="140.2" r="1.50" fill="#d8dce2"/><circle cx="71.4" cy="263.5" r="1.50" fill="#dcdddd"/><circle cx="122.3" cy="238.4" r="1.50" fill="#dedcdb"/><circle cx="95.0" cy="309.9" r="1.50" fill="#b2ccfb"/><circle cx="95.4" cy="307.4" r="1.50" fill="#adc9fd"/><circle cx="61.7" cy="276.8" r="1.50" fill="#e2dad5"/><circle cx="204.1" cy="57.3" r="1.50" fill="#f5c1a9"/><circle cx="223.2" cy="65.3" r="1.50" fill="#e0dbd8"/><circle cx="211.7" cy="143.1" r="1.50" fill="#dedcdb"/><circle cx="86.9" cy="241.2" r="1.50" fill="#e5d8d1"/><circle cx="164.2" cy="77.8" r="1.50" fill="#f3c7b1"/><circle cx="235.8" cy="148.8" r="1.50" fill="#f7b89c"/><circle cx="220.0" cy="210.2" r="1.50" fill="#d3dbe7"/><circle cx="72.2" cy="269.0" r="1.50" fill="#efcebd"/><circle cx="100.7" cy="307.2" r="1.50" fill="#ccd9ed"/><circle cx="55.8" cy="189.8" r="1.50" fill="#f4c5ad"/><circle cx="101.5" cy="179.3" r="1.50" fill="#dddcdc"/><circle cx="157.8" cy="238.7" r="1.50" fill="#e9d5cb"/><circle cx="82.5" cy="265.9" r="1.50" fill="#e8d6cc"/><circle cx="210.8" cy="196.5" r="1.50" fill="#d9dce1"/><circle cx="241.6" cy="57.2" r="1.50" fill="#de614d"/><circle cx="237.2" cy="49.9" r="1.50" fill="#f5c2aa"/><circle cx="74.4" cy="147.6" r="1.50" fill="#dadce0"/><circle cx="211.0" cy="134.0" r="1.50" fill="#f6bda2"/><circle cx="114.8" cy="167.8" r="1.50" fill="#dfdbd9"/><circle cx="110.6" cy="143.8" r="1.50" fill="#e1dad6"/><circle cx="197.2" cy="154.9" r="1.50" fill="#d95847"/><circle cx="192.9" cy="163.0" r="1.50" fill="#e97a5f"/><circle cx="194.6" cy="293.9" r="1.50" fill="#edd1c2"/><circle cx="206.5" cy="254.9" r="1.50" fill="#d1dae9"/><circle cx="81.9" cy="184.3" r="1.50" fill="#d8dce2"/><circle cx="246.5" cy="159.1" r="1.50" fill="#d4dbe6"/><circle cx="225.1" cy="135.4" r="1.50" fill="#adc9fd"/><circle cx="88.3" cy="254.7" r="1.50" fill="#d5dbe5"/><circle cx="108.5" cy="285.8" r="1.50" fill="#ecd3c5"/><circle cx="230.1" cy="154.4" r="1.50" fill="#e3d9d3"/><circle cx="237.2" cy="192.9" r="1.50" fill="#b40426"/><circle cx="141.1" cy="212.0" r="1.50" fill="#f7ac8e"/><circle cx="138.3" cy="114.2" r="1.50" fill="#e3d9d3"/><circle cx="134.5" cy="255.3" r="1.50" fill="#efcebd"/><circle cx="201.2" cy="140.0" r="1.50" fill="#e0dbd8"/><circle cx="220.5" cy="163.5" r="1.50" fill="#edd1c2"/><circle cx="233.4" cy="183.5" r="1.50" fill="#b40426"/><circle cx="149.8" cy="219.6" r="1.50" fill="#e6d7cf"/><circle cx="202.7" cy="178.8" r="1.50" fill="#e8d6cc"/><circle cx="144.7" cy="154.7" r="1.50" fill="#dadce0"/><circle cx="156.4" cy="265.1" r="1.50" fill="#e2dad5"/><circle cx="141.4" cy="151.4" r="1.50" fill="#d5dbe5"/><circle cx="118.6" cy="123.3" r="1.50" fill="#dddcdc"/><circle cx="210.8" cy="138.6" r="1.50" fill="#b40426"/><circle cx="190.7" cy="173.7" r="1.50" fill="#edd1c2"/><circle cx="101.0" cy="238.2" r="1.50" fill="#ebd3c6"/><circle cx="157.7" cy="256.1" r="1.50" fill="#f7b599"/><circle cx="181.1" cy="223.4" r="1.50" fill="#dddcdc"/><circle cx="69.8" cy="281.1" r="1.50" fill="#e2dad5"/><circle cx="241.7" cy="255.9" r="1.50" fill="#e0dbd8"/><circle cx="196.0" cy="91.5" r="1.50" fill="#dadce0"/><circle cx="85.0" cy="298.4" r="1.50" fill="#e4d9d2"/><circle cx="207.8" cy="211.0" r="1.50" fill="#e0dbd8"/><circle cx="212.7" cy="209.0" r="1.50" fill="#afcafc"/><circle cx="174.6" cy="74.1" r="1.50" fill="#f4c5ad"/><circle cx="239.3" cy="200.2" r="1.50" fill="#c0282f"/><circle cx="234.5" cy="238.5" r="1.50" fill="#b40426"/><circle cx="81.8" cy="303.0" r="1.50" fill="#dedcdb"/><circle cx="62.3" cy="293.5" r="1.50" fill="#dbdcde"/><circle cx="212.8" cy="157.9" r="1.50" fill="#eed0c0"/><circle cx="182.0" cy="87.5" r="1.50" fill="#f7b79b"/><circle cx="68.1" cy="266.6" r="1.50" fill="#e4d9d2"/><circle cx="75.0" cy="180.9" r="1.50" fill="#dfdbd9"/><circle cx="136.7" cy="250.3" r="1.50" fill="#f5a081"/><circle cx="222.6" cy="61.5" r="1.50" fill="#d24b40"/><circle cx="201.9" cy="226.5" r="1.50" fill="#e7d7ce"/><circle cx="235.2" cy="225.8" r="1.50" fill="#dbdcde"/><circle cx="169.2" cy="256.2" r="1.50" fill="#e7d7ce"/><circle cx="139.8" cy="96.1" r="1.50" fill="#e9d5cb"/><circle cx="111.9" cy="308.9" r="1.50" fill="#e1dad6"/><circle cx="147.6" cy="136.9" r="1.50" fill="#e3d9d3"/><circle cx="124.9" cy="279.3" r="1.50" fill="#e7d7ce"/><circle cx="75.1" cy="119.7" r="1.50" fill="#e5d8d1"/><circle cx="104.4" cy="191.7" r="1.50" fill="#dbdcde"/><circle cx="91.9" cy="128.2" r="1.50" fill="#f1ccb8"/><circle cx="230.8" cy="77.2" r="1.50" fill="#dfdbd9"/><circle cx="44.8" cy="250.5" r="1.50" fill="#dd5f4b"/><circle cx="159.0" cy="256.7" r="1.50" fill="#f0cdbb"/><circle cx="82.2" cy="152.0" r="1.50" fill="#dfdbd9"/><circle cx="214.4" cy="68.7" r="1.50" fill="#f6bfa6"/><circle cx="196.2" cy="178.8" r="1.50" fill="#f3c8b2"/><circle cx="143.6" cy="191.6" r="1.50" fill="#f4c5ad"/><circle cx="116.4" cy="165.9" r="1.50" fill="#dbdcde"/><circle cx="78.7" cy="137.4" r="1.50" fill="#c6d6f1"/><circle cx="113.9" cy="292.0" r="1.50" fill="#b40426"/><circle cx="230.6" cy="130.1" r="1.50" fill="#e3d9d3"/><circle cx="119.1" cy="220.7" r="1.50" fill="#cad8ef"/><circle cx="151.8" cy="164.7" r="1.50" fill="#e7d7ce"/><circle cx="110.5" cy="134.8" r="1.50" fill="#e6d7cf"/><circle cx="99.4" cy="302.2" r="1.50" fill="#e2dad5"/><circle cx="150.8" cy="159.7" r="1.50" fill="#dcdddd"/><circle cx="62.6" cy="254.1" r="1.50" fill="#f1ccb8"/><circle cx="126.0" cy="169.7" r="1.50" fill="#dcdddd"/><circle cx="240.4" cy="198.3" r="1.50" fill="#f3c8b2"/><circle cx="142.8" cy="192.9" r="1.50" fill="#efcfbf"/><circle cx="83.4" cy="134.7" r="1.50" fill="#e0dbd8"/><circle cx="124.7" cy="283.7" r="1.50" fill="#c32e31"/><circle cx="197.6" cy="203.0" r="1.50" fill="#97b8ff"/><circle cx="198.3" cy="111.9" r="1.50" fill="#f6bea4"/><circle cx="105.8" cy="259.9" r="1.50" fill="#ebd3c6"/><circle cx="150.0" cy="212.8" r="1.50" fill="#e4d9d2"/><circle cx="191.5" cy="183.5" r="1.50" fill="#e4d9d2"/><circle cx="103.1" cy="162.2" r="1.50" fill="#d8dce2"/><circle cx="246.2" cy="121.3" r="1.50" fill="#dddcdc"/><circle cx="102.8" cy="328.6" r="1.50" fill="#dcdddd"/><circle cx="191.9" cy="122.2" r="1.50" fill="#bfd3f6"/><circle cx="199.4" cy="69.7" r="1.50" fill="#edd1c2"/><circle cx="111.4" cy="220.9" r="1.50" fill="#e1dad6"/><circle cx="208.8" cy="76.3" r="1.50" fill="#f7ba9f"/><circle cx="212.8" cy="55.7" r="1.50" fill="#f7b599"/><circle cx="188.9" cy="248.4" r="1.50" fill="#dedcdb"/><circle cx="112.4" cy="166.8" r="1.50" fill="#dddcdc"/><circle cx="104.6" cy="135.0" r="1.50" fill="#dfdbd9"/><circle cx="213.9" cy="261.1" r="1.50" fill="#adc9fd"/><circle cx="136.1" cy="200.8" r="1.50" fill="#edd1c2"/><circle cx="64.9" cy="220.3" r="1.50" fill="#d6dce4"/><circle cx="178.4" cy="188.9" r="1.50" fill="#d8dce2"/><circle cx="134.6" cy="222.9" r="1.50" fill="#eed0c0"/><circle cx="214.6" cy="225.9" r="1.50" fill="#d8dce2"/><circle cx="109.0" cy="295.7" r="1.50" fill="#e3d9d3"/><circle cx="209.9" cy="184.7" r="1.50" fill="#eed0c0"/><circle cx="215.4" cy="90.9" r="1.50" fill="#ebd3c6"/><circle cx="140.5" cy="273.5" r="1.50" fill="#e1dad6"/><circle cx="213.0" cy="184.8" r="1.50" fill="#d95847"/><circle cx="234.9" cy="193.3" r="1.50" fill="#b40426"/><circle cx="147.3" cy="185.4" r="1.50" fill="#f2cbb7"/><circle cx="69.6" cy="211.1" r="1.50" fill="#e0dbd8"/><circle cx="225.3" cy="232.1" r="1.50" fill="#f6bfa6"/><circle cx="166.2" cy="119.2" r="1.50" fill="#cedaeb"/><circle cx="243.8" cy="122.5" r="1.50" fill="#ead4c8"/><circle cx="236.6" cy="123.3" r="1.50" fill="#e6d7cf"/><circle cx="187.9" cy="73.4" r="1.50" fill="#d85646"/><circle cx="65.5" cy="295.3" r="1.50" fill="#dcdddd"/><circle cx="119.9" cy="164.0" r="1.50" fill="#dcdddd"/><circle cx="135.8" cy="147.3" r="1.50" fill="#d4dbe6"/><circle cx="155.5" cy="93.1" r="1.50" fill="#d7dce3"/><circle cx="215.3" cy="187.2" r="1.50" fill="#e0dbd8"/><circle cx="231.0" cy="262.3" r="1.50" fill="#cbd8ee"/><circle cx="176.3" cy="200.7" r="1.50" fill="#dfdbd9"/><circle cx="213.9" cy="156.9" r="1.50" fill="#f1cdba"/><circle cx="220.1" cy="183.2" r="1.50" fill="#f0cdbb"/><circle cx="48.9" cy="158.7" r="1.50" fill="#dedcdb"/><circle cx="210.1" cy="134.9" r="1.50" fill="#e3d9d3"/><circle cx="86.4" cy="202.1" r="1.50" fill="#e1dad6"/><circle cx="148.0" cy="291.3" r="1.50" fill="#e5d8d1"/><circle cx="253.2" cy="173.3" r="1.50" fill="#e8d6cc"/><circle cx="127.2" cy="311.7" r="1.50" fill="#e4d9d2"/><circle cx="148.2" cy="155.7" r="1.50" fill="#dfdbd9"/><circle cx="117.9" cy="263.7" r="1.50" fill="#e7d7ce"/><circle cx="122.9" cy="120.1" r="1.50" fill="#e2dad5"/><circle cx="50.8" cy="263.9" r="1.50" fill="#f6a385"/><circle cx="191.4" cy="127.6" r="1.50" fill="#cdd9ec"/><circle cx="135.2" cy="196.3" r="1.50" fill="#e4d9d2"/><circle cx="93.4" cy="181.4" r="1.50" fill="#dbdcde"/><circle cx="74.6" cy="181.2" r="1.50" fill="#d8dce2"/><circle cx="162.8" cy="212.8" r="1.50" fill="#dddcdc"/><circle cx="108.7" cy="277.2" r="1.50" fill="#ba162b"/><circle cx="243.6" cy="112.4" r="1.50" fill="#f1ccb8"/><circle cx="212.0" cy="87.0" r="1.50" fill="#e8d6cc"/><circle cx="207.2" cy="241.5" r="1.50" fill="#d8dce2"/><circle cx="106.1" cy="233.0" r="1.50" fill="#f2cab5"/><circle cx="95.7" cy="292.0" r="1.50" fill="#bed2f6"/><circle cx="113.6" cy="279.6" r="1.50" fill="#e1dad6"/><circle cx="139.2" cy="170.9" r="1.50" fill="#e3d9d3"/><circle cx="161.5" cy="227.3" r="1.50" fill="#f6a385"/><circle cx="145.0" cy="161.0" r="1.50" fill="#edd1c2"/><circle cx="96.3" cy="114.0" r="1.50" fill="#dddcdc"/><circle cx="122.0" cy="285.3" r="1.50" fill="#dedcdb"/><circle cx="216.7" cy="262.2" r="1.50" fill="#c6d6f1"/><circle cx="153.0" cy="303.0" r="1.50" fill="#b40426"/><circle cx="118.7" cy="299.1" r="1.50" fill="#f5a081"/><circle cx="222.7" cy="159.1" r="1.50" fill="#f1cdba"/><circle cx="90.4" cy="307.0" r="1.50" fill="#c4d5f3"/><circle cx="219.6" cy="268.2" r="1.50" fill="#bcd2f7"/><circle cx="157.7" cy="278.9" r="1.50" fill="#edd1c2"/><circle cx="143.7" cy="93.6" r="1.50" fill="#dfdbd9"/><circle cx="247.5" cy="207.9" r="1.50" fill="#c32e31"/><circle cx="85.2" cy="235.6" r="1.50" fill="#edd2c3"/><circle cx="53.6" cy="235.8" r="1.50" fill="#cedaeb"/><circle cx="120.7" cy="236.1" r="1.50" fill="#e1dad6"/><circle cx="158.2" cy="184.5" r="1.50" fill="#f5c4ac"/><circle cx="245.8" cy="133.4" r="1.50" fill="#f2c9b4"/><circle cx="118.9" cy="235.5" r="1.50" fill="#e4d9d2"/><circle cx="176.4" cy="113.6" r="1.50" fill="#c1d4f4"/><circle cx="103.4" cy="204.5" r="1.50" fill="#dcdddd"/><circle cx="89.4" cy="243.4" r="1.50" fill="#e4d9d2"/><circle cx="194.9" cy="266.1" r="1.50" fill="#f2c9b4"/><circle cx="155.0" cy="146.3" r="1.50" fill="#e0dbd8"/><circle cx="168.7" cy="276.8" r="1.50" fill="#dddcdc"/><circle cx="81.3" cy="119.4" r="1.50" fill="#dedcdb"/><circle cx="156.0" cy="92.2" r="1.50" fill="#e5d8d1"/><circle cx="131.5" cy="300.8" r="1.50" fill="#dbdcde"/><circle cx="188.0" cy="294.4" r="1.50" fill="#ead4c8"/><circle cx="202.2" cy="174.5" r="1.50" fill="#b40426"/><circle cx="74.2" cy="327.7" r="1.50" fill="#d3dbe7"/><circle cx="69.9" cy="146.6" r="1.50" fill="#dfdbd9"/><circle cx="110.3" cy="218.3" r="1.50" fill="#dadce0"/><circle cx="196.7" cy="92.8" r="1.50" fill="#cdd9ec"/><circle cx="141.1" cy="240.4" r="1.50" fill="#f7b89c"/><circle cx="143.6" cy="284.9" r="1.50" fill="#e4d9d2"/><circle cx="166.9" cy="129.0" r="1.50" fill="#dfdbd9"/><circle cx="214.9" cy="183.5" r="1.50" fill="#f2c9b4"/><circle cx="212.5" cy="145.4" r="1.50" fill="#f2cbb7"/><circle cx="158.8" cy="107.6" r="1.50" fill="#dfdbd9"/><circle cx="116.2" cy="266.5" r="1.50" fill="#e4d9d2"/><circle cx="213.5" cy="155.6" r="1.50" fill="#e8d6cc"/><circle cx="76.7" cy="210.0" r="1.50" fill="#dddcdc"/><circle cx="93.2" cy="125.4" r="1.50" fill="#d2dbe8"/><circle cx="221.4" cy="218.9" r="1.50" fill="#e4d9d2"/><circle cx="65.3" cy="220.5" r="1.50" fill="#d9dce1"/><circle cx="180.4" cy="219.1" r="1.50" fill="#e0dbd8"/><circle cx="234.3" cy="249.0" r="1.50" fill="#e7d7ce"/><circle cx="179.0" cy="75.4" r="1.50" fill="#b40426"/><circle cx="178.6" cy="271.7" r="1.50" fill="#e5d8d1"/><circle cx="110.5" cy="278.5" r="1.50" fill="#e7d7ce"/><circle cx="204.3" cy="249.8" r="1.50" fill="#e8d6cc"/><circle cx="143.3" cy="245.2" r="1.50" fill="#e0dbd8"/><circle cx="167.2" cy="140.4" r="1.50" fill="#d9dce1"/><circle cx="137.1" cy="188.6" r="1.50" fill="#e5d8d1"/><circle cx="234.6" cy="140.8" r="1.50" fill="#ead5c9"/><circle cx="49.5" cy="271.6" r="1.50" fill="#dadce0"/><circle cx="83.4" cy="263.5" r="1.50" fill="#dfdbd9"/><circle cx="182.9" cy="193.5" r="1.50" fill="#e6d7cf"/><circle cx="115.4" cy="192.9" r="1.50" fill="#dddcdc"/><circle cx="67.0" cy="219.4" r="1.50" fill="#f1cdba"/><circle cx="155.2" cy="284.2" r="1.50" fill="#eed0c0"/><circle cx="193.1" cy="164.6" r="1.50" fill="#ebd3c6"/><circle cx="158.2" cy="158.9" r="1.50" fill="#dcdddd"/><circle cx="234.9" cy="191.1" r="1.50" fill="#b40426"/><circle cx="109.3" cy="220.2" r="1.50" fill="#dcdddd"/><circle cx="116.1" cy="263.9" r="1.50" fill="#dedcdb"/><circle cx="122.1" cy="278.3" r="1.50" fill="#c73635"/><circle cx="192.9" cy="118.0" r="1.50" fill="#b6cefa"/><circle cx="187.3" cy="108.9" r="1.50" fill="#bad0f8"/><circle cx="232.5" cy="202.1" r="1.50" fill="#e7d7ce"/><circle cx="178.0" cy="272.2" r="1.50" fill="#e2dad5"/><circle cx="180.6" cy="74.5" r="1.50" fill="#e36b54"/><circle cx="74.8" cy="211.7" r="1.50" fill="#dfdbd9"/><circle cx="232.6" cy="79.5" r="1.50" fill="#eed0c0"/><circle cx="184.4" cy="259.1" r="1.50" fill="#e2dad5"/><circle cx="95.1" cy="288.5" r="1.50" fill="#d6dce4"/><circle cx="65.5" cy="229.6" r="1.50" fill="#d7dce3"/><circle cx="226.2" cy="50.7" r="1.50" fill="#e0dbd8"/><circle cx="71.0" cy="155.5" r="1.50" fill="#bcd2f7"/><circle cx="166.7" cy="87.2" r="1.50" fill="#f7b89c"/><circle cx="166.8" cy="123.3" r="1.50" fill="#e7d7ce"/><circle cx="97.1" cy="271.8" r="1.50" fill="#ecd3c5"/><circle cx="132.6" cy="116.1" r="1.50" fill="#e6d7cf"/><circle cx="191.5" cy="102.6" r="1.50" fill="#d2dbe8"/><circle cx="155.3" cy="122.6" r="1.50" fill="#d8dce2"/><circle cx="72.1" cy="189.3" r="1.50" fill="#dedcdb"/><circle cx="124.6" cy="105.4" r="1.50" fill="#e4d9d2"/><circle cx="61.7" cy="259.5" r="1.50" fill="#b40426"/><circle cx="116.7" cy="129.9" r="1.50" fill="#d6dce4"/><circle cx="53.4" cy="274.9" r="1.50" fill="#f5c0a7"/><circle cx="123.8" cy="169.4" r="1.50" fill="#d6dce4"/><circle cx="170.4" cy="281.1" r="1.50" fill="#e1dad6"/><circle cx="126.9" cy="244.2" r="1.50" fill="#eed0c0"/><circle cx="227.6" cy="61.3" r="1.50" fill="#edd2c3"/><circle cx="121.2" cy="255.8" r="1.50" fill="#e8d6cc"/><circle cx="228.7" cy="216.1" r="1.50" fill="#edd1c2"/><circle cx="52.1" cy="228.5" r="1.50" fill="#e1dad6"/><circle cx="215.8" cy="181.2" r="1.50" fill="#f7b99e"/><circle cx="83.1" cy="217.5" r="1.50" fill="#dbdcde"/><circle cx="218.5" cy="208.9" r="1.50" fill="#ebd3c6"/><circle cx="99.6" cy="261.8" r="1.50" fill="#e0dbd8"/><circle cx="204.3" cy="250.9" r="1.50" fill="#ebd3c6"/><circle cx="102.1" cy="135.5" r="1.50" fill="#e1dad6"/><circle cx="100.4" cy="216.1" r="1.50" fill="#ecd3c5"/><circle cx="147.1" cy="270.4" r="1.50" fill="#f0cdbb"/><circle cx="153.2" cy="167.6" r="1.50" fill="#dddcdc"/><circle cx="202.8" cy="206.8" r="1.50" fill="#bfd3f6"/><circle cx="220.0" cy="104.2" r="1.50" fill="#ca3b37"/><circle cx="95.3" cy="228.4" r="1.50" fill="#f2c9b4"/><circle cx="112.1" cy="280.9" r="1.50" fill="#f4c6af"/><circle cx="245.0" cy="184.0" r="1.50" fill="#e2dad5"/><circle cx="139.6" cy="88.4" r="1.50" fill="#e2dad5"/><circle cx="91.0" cy="204.1" r="1.50" fill="#e1dad6"/><circle cx="248.8" cy="58.7" r="1.50" fill="#dbdcde"/><circle cx="181.3" cy="85.3" r="1.50" fill="#dddcdc"/><circle cx="72.5" cy="303.5" r="1.50" fill="#e4d9d2"/><circle cx="169.5" cy="271.8" r="1.50" fill="#bed2f6"/><circle cx="204.1" cy="62.1" r="1.50" fill="#e1dad6"/><circle cx="86.3" cy="308.0" r="1.50" fill="#e0dbd8"/><circle cx="196.2" cy="62.2" r="1.50" fill="#f3c8b2"/><circle cx="216.8" cy="231.4" r="1.50" fill="#e6d7cf"/><circle cx="152.5" cy="127.2" r="1.50" fill="#d4dbe6"/><circle cx="141.6" cy="193.1" r="1.50" fill="#f7ba9f"/><circle cx="204.3" cy="259.2" r="1.50" fill="#9ebeff"/><circle cx="213.2" cy="180.3" r="1.50" fill="#f7bca1"/><circle cx="61.5" cy="248.5" r="1.50" fill="#e8d6cc"/><circle cx="231.9" cy="193.4" r="1.50" fill="#e6d7cf"/><circle cx="170.4" cy="89.5" r="1.50" fill="#dfdbd9"/><circle cx="62.4" cy="148.5" r="1.50" fill="#dedcdb"/><circle cx="155.5" cy="216.2" r="1.50" fill="#e0dbd8"/><circle cx="131.5" cy="131.0" r="1.50" fill="#e6d7cf"/><circle cx="171.2" cy="246.9" r="1.50" fill="#ebd3c6"/><circle cx="242.4" cy="110.7" r="1.50" fill="#eed0c0"/><circle cx="65.7" cy="143.0" r="1.50" fill="#d7dce3"/><circle cx="140.1" cy="190.3" r="1.50" fill="#e0dbd8"/><circle cx="69.6" cy="176.5" r="1.50" fill="#e0dbd8"/><circle cx="83.7" cy="207.0" r="1.50" fill="#dedcdb"/><circle cx="110.9" cy="240.8" r="1.50" fill="#dcdddd"/><circle cx="199.0" cy="285.0" r="1.50" fill="#be242e"/><circle cx="81.1" cy="145.3" r="1.50" fill="#d9dce1"/><circle cx="186.2" cy="135.7" r="1.50" fill="#b6cefa"/><circle cx="164.6" cy="158.8" r="1.50" fill="#dddcdc"/><circle cx="124.2" cy="190.6" r="1.50" fill="#dddcdc"/><circle cx="117.0" cy="203.3" r="1.50" fill="#dedcdb"/><circle cx="150.9" cy="160.7" r="1.50" fill="#cfdaea"/><circle cx="167.9" cy="132.7" r="1.50" fill="#d6dce4"/><circle cx="237.1" cy="180.9" r="1.50" fill="#e6d7cf"/><circle cx="160.6" cy="255.5" r="1.50" fill="#f7b396"/><circle cx="184.0" cy="171.1" r="1.50" fill="#f5c0a7"/><circle cx="207.8" cy="222.9" r="1.50" fill="#ead4c8"/><circle cx="139.9" cy="193.9" r="1.50" fill="#ecd3c5"/><circle cx="221.2" cy="226.5" r="1.50" fill="#dc5d4a"/><circle cx="84.4" cy="226.3" r="1.50" fill="#dddcdc"/><circle cx="136.0" cy="280.2" r="1.50" fill="#edd2c3"/><circle cx="84.4" cy="198.6" r="1.50" fill="#e1dad6"/><circle cx="229.8" cy="218.0" r="1.50" fill="#cf453c"/><circle cx="212.6" cy="93.7" r="1.50" fill="#e9d5cb"/><circle cx="240.8" cy="214.6" r="1.50" fill="#b40426"/><circle cx="98.6" cy="288.9" r="1.50" fill="#dfdbd9"/><circle cx="165.4" cy="209.8" r="1.50" fill="#dadce0"/><circle cx="103.8" cy="325.8" r="1.50" fill="#b40426"/><circle cx="66.6" cy="146.4" r="1.50" fill="#e1dad6"/><circle cx="231.0" cy="131.5" r="1.50" fill="#dfdbd9"/><circle cx="172.5" cy="176.6" r="1.50" fill="#e7d7ce"/><circle cx="208.7" cy="174.1" r="1.50" fill="#e6d7cf"/><circle cx="151.5" cy="156.1" r="1.50" fill="#cfdaea"/><circle cx="90.7" cy="297.2" r="1.50" fill="#dadce0"/><circle cx="154.9" cy="166.3" r="1.50" fill="#e1dad6"/><circle cx="158.5" cy="171.8" r="1.50" fill="#dcdddd"/><circle cx="210.2" cy="249.3" r="1.50" fill="#abc8fd"/><circle cx="198.9" cy="193.0" r="1.50" fill="#b6cefa"/><circle cx="93.6" cy="193.0" r="1.50" fill="#ebd3c6"/><circle cx="79.7" cy="267.3" r="1.50" fill="#f7a688"/><circle cx="229.9" cy="234.8" r="1.50" fill="#e2dad5"/><circle cx="152.1" cy="263.9" r="1.50" fill="#e4d9d2"/><circle cx="117.0" cy="208.2" r="1.50" fill="#dcdddd"/><circle cx="78.7" cy="238.7" r="1.50" fill="#c6d6f1"/><circle cx="203.4" cy="177.3" r="1.50" fill="#edd1c2"/><circle cx="92.8" cy="265.0" r="1.50" fill="#e2dad5"/><circle cx="93.5" cy="197.8" r="1.50" fill="#e2dad5"/><circle cx="104.5" cy="139.4" r="1.50" fill="#dfdbd9"/><circle cx="71.9" cy="297.8" r="1.50" fill="#e8d6cc"/><circle cx="99.0" cy="281.2" r="1.50" fill="#e4d9d2"/><circle cx="206.0" cy="98.2" r="1.50" fill="#e0dbd8"/><circle cx="169.3" cy="180.2" r="1.50" fill="#dcdddd"/><circle cx="146.1" cy="121.2" r="1.50" fill="#d3dbe7"/><circle cx="101.8" cy="228.4" r="1.50" fill="#d2dbe8"/><circle cx="188.7" cy="217.7" r="1.50" fill="#e8d6cc"/><circle cx="73.8" cy="229.3" r="1.50" fill="#bcd2f7"/><circle cx="219.7" cy="205.3" r="1.50" fill="#dfdbd9"/><circle cx="81.8" cy="202.7" r="1.50" fill="#c7d7f0"/><circle cx="190.1" cy="132.0" r="1.50" fill="#cdd9ec"/><circle cx="206.2" cy="225.8" r="1.50" fill="#e3d9d3"/><circle cx="83.4" cy="163.6" r="1.50" fill="#e0dbd8"/><circle cx="53.8" cy="158.7" r="1.50" fill="#b40426"/><circle cx="90.6" cy="125.0" r="1.50" fill="#e3d9d3"/><circle cx="172.7" cy="135.6" r="1.50" fill="#b1cbfc"/><circle cx="96.0" cy="123.7" r="1.50" fill="#dfdbd9"/><circle cx="140.8" cy="88.8" r="1.50" fill="#e5d8d1"/><circle cx="177.1" cy="192.6" r="1.50" fill="#dadce0"/><circle cx="133.1" cy="170.8" r="1.50" fill="#cdd9ec"/><circle cx="190.1" cy="112.4" r="1.50" fill="#dedcdb"/><circle cx="164.5" cy="271.2" r="1.50" fill="#edd1c2"/><circle cx="164.4" cy="121.3" r="1.50" fill="#d5dbe5"/><circle cx="128.4" cy="266.9" r="1.50" fill="#e2dad5"/><circle cx="150.1" cy="270.0" r="1.50" fill="#e4d9d2"/><circle cx="66.4" cy="328.4" r="1.50" fill="#dcdddd"/><circle cx="220.3" cy="200.7" r="1.50" fill="#dddcdc"/><circle cx="151.0" cy="203.4" r="1.50" fill="#e8d6cc"/><circle cx="133.6" cy="196.4" r="1.50" fill="#ead5c9"/><circle cx="237.3" cy="127.2" r="1.50" fill="#f2c9b4"/><circle cx="162.2" cy="162.8" r="1.50" fill="#ead4c8"/><circle cx="53.5" cy="256.8" r="1.50" fill="#edd1c2"/><circle cx="81.9" cy="307.1" r="1.50" fill="#dbdcde"/><circle cx="237.5" cy="240.4" r="1.50" fill="#edd2c3"/><circle cx="221.3" cy="167.8" r="1.50" fill="#d44e41"/><circle cx="198.7" cy="242.2" r="1.50" fill="#dedcdb"/><circle cx="162.7" cy="108.6" r="1.50" fill="#ccd9ed"/><circle cx="78.7" cy="227.7" r="1.50" fill="#dcdddd"/><circle cx="201.3" cy="161.3" r="1.50" fill="#b40426"/><circle cx="185.9" cy="242.8" r="1.50" fill="#dbdcde"/><circle cx="157.0" cy="215.6" r="1.50" fill="#e0dbd8"/><circle cx="168.4" cy="191.8" r="1.50" fill="#e4d9d2"/><circle cx="66.0" cy="247.1" r="1.50" fill="#f7b89c"/><circle cx="122.4" cy="273.0" r="1.50" fill="#dddcdc"/><circle cx="79.3" cy="255.8" r="1.50" fill="#e4d9d2"/><circle cx="180.4" cy="78.4" r="1.50" fill="#e4d9d2"/><circle cx="208.7" cy="171.7" r="1.50" fill="#f59d7e"/><circle cx="99.5" cy="308.8" r="1.50" fill="#cedaeb"/><circle cx="120.3" cy="234.4" r="1.50" fill="#f2cab5"/><circle cx="206.6" cy="69.5" r="1.50" fill="#efcfbf"/><circle cx="93.6" cy="331.6" r="1.50" fill="#cbd8ee"/><circle cx="208.8" cy="211.9" r="1.50" fill="#e3d9d3"/><circle cx="124.0" cy="108.7" r="1.50" fill="#e4d9d2"/><circle cx="134.1" cy="195.6" r="1.50" fill="#ecd3c5"/><circle cx="61.7" cy="124.1" r="1.50" fill="#d6dce4"/><circle cx="229.3" cy="116.3" r="1.50" fill="#e0654f"/><circle cx="154.5" cy="107.8" r="1.50" fill="#d3dbe7"/><circle cx="166.3" cy="154.4" r="1.50" fill="#dddcdc"/><circle cx="82.3" cy="175.4" r="1.50" fill="#dcdddd"/><circle cx="91.6" cy="199.1" r="1.50" fill="#e3d9d3"/><circle cx="244.0" cy="175.3" r="1.50" fill="#e2dad5"/><circle cx="68.2" cy="223.1" r="1.50" fill="#d6dce4"/><circle cx="79.8" cy="143.6" r="1.50" fill="#dedcdb"/><circle cx="81.4" cy="205.7" r="1.50" fill="#d7dce3"/><circle cx="79.8" cy="164.5" r="1.50" fill="#d9dce1"/><circle cx="180.2" cy="146.8" r="1.50" fill="#dddcdc"/><circle cx="116.9" cy="130.1" r="1.50" fill="#e3d9d3"/><circle cx="95.1" cy="115.5" r="1.50" fill="#e5d8d1"/><circle cx="225.1" cy="244.2" r="1.50" fill="#edd1c2"/><circle cx="240.1" cy="168.9" r="1.50" fill="#edd2c3"/><circle cx="228.4" cy="84.8" r="1.50" fill="#eed0c0"/><circle cx="234.7" cy="97.2" r="1.50" fill="#f5c1a9"/><circle cx="150.6" cy="213.1" r="1.50" fill="#ebd3c6"/><circle cx="181.8" cy="157.1" r="1.50" fill="#ead4c8"/><circle cx="53.6" cy="281.2" r="1.50" fill="#dddcdc"/><circle cx="204.4" cy="111.2" r="1.50" fill="#d8dce2"/><circle cx="159.8" cy="56.7" r="1.50" fill="#dddcdc"/><circle cx="138.6" cy="196.7" r="1.50" fill="#e2dad5"/><circle cx="165.8" cy="194.2" r="1.50" fill="#e6d7cf"/><circle cx="166.9" cy="75.5" r="1.50" fill="#f6bfa6"/><circle cx="235.3" cy="248.7" r="1.50" fill="#e0dbd8"/><circle cx="145.9" cy="168.4" r="1.50" fill="#d9dce1"/><circle cx="177.7" cy="87.4" r="1.50" fill="#e1dad6"/><circle cx="130.5" cy="177.6" r="1.50" fill="#e1dad6"/><circle cx="205.1" cy="87.7" r="1.50" fill="#d7dce3"/><circle cx="216.9" cy="190.0" r="1.50" fill="#efcebd"/><circle cx="62.3" cy="289.1" r="1.50" fill="#dfdbd9"/><circle cx="175.0" cy="225.0" r="1.50" fill="#dadce0"/><circle cx="145.2" cy="131.4" r="1.50" fill="#dfdbd9"/><circle cx="66.0" cy="305.3" r="1.50" fill="#e6d7cf"/><circle cx="79.8" cy="132.0" r="1.50" fill="#e2dad5"/><circle cx="194.2" cy="63.2" r="1.50" fill="#eed0c0"/><circle cx="235.0" cy="245.6" r="1.50" fill="#e2dad5"/><circle cx="58.2" cy="217.1" r="1.50" fill="#e0dbd8"/><circle cx="206.4" cy="66.1" r="1.50" fill="#ead5c9"/><circle cx="187.4" cy="91.8" r="1.50" fill="#f0cdbb"/><circle cx="199.6" cy="61.8" r="1.50" fill="#f7b194"/><circle cx="121.7" cy="112.4" r="1.50" fill="#dddcdc"/><circle cx="114.2" cy="107.7" r="1.50" fill="#dfdbd9"/><circle cx="201.2" cy="153.1" r="1.50" fill="#ecd3c5"/><circle cx="193.8" cy="226.7" r="1.50" fill="#e8d6cc"/><circle cx="167.4" cy="80.8" r="1.50" fill="#efcfbf"/><circle cx="196.2" cy="253.7" r="1.50" fill="#e2dad5"/><circle cx="55.4" cy="250.5" r="1.50" fill="#f1cdba"/><circle cx="107.8" cy="285.3" r="1.50" fill="#ead4c8"/><circle cx="197.0" cy="224.0" r="1.50" fill="#e1dad6"/><circle cx="189.3" cy="62.0" r="1.50" fill="#e7d7ce"/><circle cx="95.9" cy="287.8" r="1.50" fill="#e5d8d1"/><circle cx="93.9" cy="280.6" r="1.50" fill="#ead5c9"/><circle cx="108.2" cy="319.6" r="1.50" fill="#b40426"/><circle cx="194.0" cy="172.5" r="1.50" fill="#efcfbf"/><circle cx="112.4" cy="297.2" r="1.50" fill="#edd1c2"/><circle cx="203.8" cy="237.3" r="1.50" fill="#dedcdb"/><circle cx="59.9" cy="138.0" r="1.50" fill="#d8dce2"/><circle cx="235.6" cy="191.1" r="1.50" fill="#b40426"/><circle cx="138.5" cy="223.0" r="1.50" fill="#f7ad90"/><circle cx="138.3" cy="303.7" r="1.50" fill="#c9d7f0"/><circle cx="65.8" cy="259.7" r="1.50" fill="#f7b599"/><circle cx="98.4" cy="121.6" r="1.50" fill="#e0dbd8"/><circle cx="169.6" cy="185.1" r="1.50" fill="#dfdbd9"/><circle cx="209.6" cy="260.9" r="1.50" fill="#c9d7f0"/><circle cx="78.0" cy="173.8" r="1.50" fill="#dbdcde"/><circle cx="114.7" cy="191.4" r="1.50" fill="#d9dce1"/><circle cx="86.6" cy="139.5" r="1.50" fill="#ccd9ed"/><circle cx="91.0" cy="251.2" r="1.50" fill="#f0cdbb"/><circle cx="137.5" cy="231.8" r="1.50" fill="#f7ac8e"/><circle cx="232.2" cy="210.2" r="1.50" fill="#f2cbb7"/><circle cx="189.0" cy="212.3" r="1.50" fill="#dddcdc"/><circle cx="107.1" cy="182.1" r="1.50" fill="#dddcdc"/><circle cx="180.5" cy="185.8" r="1.50" fill="#e7d7ce"/><circle cx="64.6" cy="258.9" r="1.50" fill="#f6bea4"/><circle cx="51.3" cy="185.8" r="1.50" fill="#e0dbd8"/><circle cx="195.9" cy="214.0" r="1.50" fill="#d1dae9"/><circle cx="163.0" cy="262.6" r="1.50" fill="#f3c7b1"/><circle cx="210.4" cy="85.0" r="1.50" fill="#edd2c3"/><circle cx="224.2" cy="226.9" r="1.50" fill="#dedcdb"/><circle cx="239.0" cy="97.1" r="1.50" fill="#f1cdba"/><circle cx="70.6" cy="257.3" r="1.50" fill="#e8d6cc"/><circle cx="199.6" cy="199.3" r="1.50" fill="#c1d4f4"/><circle cx="235.5" cy="90.3" r="1.50" fill="#ead5c9"/><circle cx="186.2" cy="220.7" r="1.50" fill="#e2dad5"/><circle cx="193.0" cy="227.8" r="1.50" fill="#dadce0"/><circle cx="193.8" cy="174.2" r="1.50" fill="#eed0c0"/><circle cx="117.3" cy="278.2" r="1.50" fill="#bb1b2c"/><circle cx="213.1" cy="226.6" r="1.50" fill="#d3dbe7"/><circle cx="95.5" cy="248.4" r="1.50" fill="#dbdcde"/><circle cx="49.7" cy="222.8" r="1.50" fill="#dddcdc"/><circle cx="97.6" cy="157.1" r="1.50" fill="#dcdddd"/><circle cx="57.4" cy="212.8" r="1.50" fill="#f5c4ac"/><circle cx="118.5" cy="109.4" r="1.50" fill="#dcdddd"/><circle cx="111.8" cy="287.2" r="1.50" fill="#ca3b37"/><circle cx="167.6" cy="87.4" r="1.50" fill="#d9dce1"/><circle cx="114.3" cy="145.7" r="1.50" fill="#e2dad5"/><circle cx="157.9" cy="226.5" r="1.50" fill="#f7b99e"/><circle cx="198.4" cy="292.9" r="1.50" fill="#dedcdb"/><circle cx="121.5" cy="181.0" r="1.50" fill="#dadce0"/><circle cx="140.5" cy="245.2" r="1.50" fill="#f6bda2"/><circle cx="210.6" cy="253.1" r="1.50" fill="#e1dad6"/><circle cx="116.3" cy="157.6" r="1.50" fill="#dedcdb"/><circle cx="101.0" cy="149.0" r="1.50" fill="#d9dce1"/><circle cx="114.4" cy="163.9" r="1.50" fill="#dcdddd"/><circle cx="200.7" cy="99.2" r="1.50" fill="#cbd8ee"/><circle cx="81.0" cy="309.9" r="1.50" fill="#d7dce3"/><circle cx="146.5" cy="197.2" r="1.50" fill="#dbdcde"/><circle cx="70.0" cy="256.8" r="1.50" fill="#f6bea4"/><circle cx="177.3" cy="186.0" r="1.50" fill="#e5d8d1"/><circle cx="95.1" cy="238.9" r="1.50" fill="#e1dad6"/><circle cx="163.4" cy="237.6" r="1.50" fill="#f1cdba"/><circle cx="56.7" cy="165.3" r="1.50" fill="#bcd2f7"/><circle cx="213.4" cy="131.1" r="1.50" fill="#cfdaea"/><circle cx="152.1" cy="265.7" r="1.50" fill="#e1dad6"/><circle cx="92.6" cy="304.3" r="1.50" fill="#dadce0"/><circle cx="126.9" cy="205.8" r="1.50" fill="#dddcdc"/><circle cx="247.5" cy="129.1" r="1.50" fill="#ebd3c6"/><circle cx="197.9" cy="96.0" r="1.50" fill="#f2cbb7"/><circle cx="167.9" cy="141.2" r="1.50" fill="#cfdaea"/><circle cx="162.4" cy="85.2" r="1.50" fill="#f2cbb7"/><circle cx="158.8" cy="122.1" r="1.50" fill="#d3dbe7"/><circle cx="88.4" cy="119.2" r="1.50" fill="#e0dbd8"/><circle cx="57.8" cy="167.0" r="1.50" fill="#dc5d4a"/><circle cx="189.2" cy="118.8" r="1.50" fill="#d2dbe8"/><circle cx="87.1" cy="270.5" r="1.50" fill="#ead4c8"/><circle cx="184.2" cy="178.8" r="1.50" fill="#e7d7ce"/><circle cx="60.8" cy="303.2" r="1.50" fill="#dbdcde"/><circle cx="59.1" cy="233.5" r="1.50" fill="#dedcdb"/><circle cx="181.9" cy="133.4" r="1.50" fill="#f5c2aa"/><circle cx="97.3" cy="124.3" r="1.50" fill="#dedcdb"/><circle cx="65.0" cy="143.4" r="1.50" fill="#cbd8ee"/><circle cx="99.7" cy="261.0" r="1.50" fill="#dedcdb"/><circle cx="111.4" cy="208.1" r="1.50" fill="#efcebd"/><circle cx="121.3" cy="330.4" r="1.50" fill="#e4d9d2"/><circle cx="118.6" cy="104.1" r="1.50" fill="#ead5c9"/><circle cx="167.1" cy="202.4" r="1.50" fill="#ebd3c6"/><circle cx="209.5" cy="230.4" r="1.50" fill="#e1dad6"/><circle cx="234.0" cy="246.3" r="1.50" fill="#f4c6af"/><circle cx="159.1" cy="160.0" r="1.50" fill="#d4dbe6"/><circle cx="189.4" cy="214.8" r="1.50" fill="#dddcdc"/><circle cx="64.5" cy="120.5" r="1.50" fill="#dcdddd"/><circle cx="210.3" cy="219.7" r="1.50" fill="#d9dce1"/><circle cx="170.6" cy="85.7" r="1.50" fill="#f0cdbb"/><circle cx="221.7" cy="133.7" r="1.50" fill="#d6dce4"/><circle cx="217.0" cy="221.9" r="1.50" fill="#e4d9d2"/><circle cx="125.1" cy="169.8" r="1.50" fill="#d6dce4"/><circle cx="164.3" cy="302.0" r="1.50" fill="#cc403a"/><circle cx="232.6" cy="125.8" r="1.50" fill="#f39577"/><circle cx="186.6" cy="111.9" r="1.50" fill="#cedaeb"/><circle cx="59.0" cy="159.6" r="1.50" fill="#dedcdb"/><circle cx="104.9" cy="272.0" r="1.50" fill="#b40426"/><circle cx="102.7" cy="242.6" r="1.50" fill="#e3d9d3"/><circle cx="219.4" cy="136.6" r="1.50" fill="#d1dae9"/><circle cx="116.2" cy="122.1" r="1.50" fill="#edd2c3"/><circle cx="187.0" cy="237.0" r="1.50" fill="#edd1c2"/><circle cx="210.8" cy="116.6" r="1.50" fill="#dedcdb"/><circle cx="152.9" cy="239.5" r="1.50" fill="#f5c0a7"/><circle cx="75.4" cy="265.8" r="1.50" fill="#f6bda2"/><circle cx="123.4" cy="236.1" r="1.50" fill="#e1dad6"/><circle cx="136.5" cy="276.2" r="1.50" fill="#edd1c2"/><circle cx="169.3" cy="238.8" r="1.50" fill="#f3c7b1"/><circle cx="99.1" cy="272.2" r="1.50" fill="#dddcdc"/><circle cx="86.8" cy="319.5" r="1.50" fill="#d8dce2"/><circle cx="234.3" cy="238.6" r="1.50" fill="#b40426"/><circle cx="127.4" cy="236.9" r="1.50" fill="#ecd3c5"/><circle cx="76.5" cy="305.1" r="1.50" fill="#dbdcde"/><circle cx="242.5" cy="253.6" r="1.50" fill="#e2dad5"/><circle cx="163.8" cy="193.8" r="1.50" fill="#e4d9d2"/><circle cx="167.5" cy="113.7" r="1.50" fill="#adc9fd"/><circle cx="224.0" cy="166.5" r="1.50" fill="#e8d6cc"/><circle cx="121.9" cy="205.0" r="1.50" fill="#cfdaea"/><circle cx="148.5" cy="306.7" r="1.50" fill="#b40426"/><circle cx="91.9" cy="146.2" r="1.50" fill="#d7dce3"/><circle cx="216.5" cy="193.8" r="1.50" fill="#e1dad6"/><circle cx="159.6" cy="294.6" r="1.50" fill="#dcdddd"/><circle cx="89.9" cy="264.8" r="1.50" fill="#e7d7ce"/><circle cx="143.8" cy="197.0" r="1.50" fill="#efcfbf"/><circle cx="187.7" cy="95.7" r="1.50" fill="#c6d6f1"/><circle cx="177.4" cy="125.9" r="1.50" fill="#dddcdc"/><circle cx="155.1" cy="174.2" r="1.50" fill="#e6d7cf"/><circle cx="204.5" cy="91.1" r="1.50" fill="#efcebd"/><circle cx="195.8" cy="100.0" r="1.50" fill="#c0d4f5"/><circle cx="144.2" cy="214.7" r="1.50" fill="#f5a081"/><circle cx="182.2" cy="185.3" r="1.50" fill="#e9d5cb"/><circle cx="49.9" cy="259.5" r="1.50" fill="#f7b79b"/><circle cx="212.3" cy="90.0" r="1.50" fill="#efcebd"/><circle cx="122.0" cy="263.7" r="1.50" fill="#e7d7ce"/><circle cx="205.8" cy="241.2" r="1.50" fill="#d4dbe6"/><circle cx="201.1" cy="207.9" r="1.50" fill="#bed2f6"/><circle cx="243.3" cy="103.6" r="1.50" fill="#e3d9d3"/><circle cx="184.8" cy="84.1" r="1.50" fill="#e8d6cc"/><circle cx="215.5" cy="98.1" r="1.50" fill="#e0654f"/><circle cx="128.5" cy="86.6" r="1.50" fill="#e7d7ce"/><circle cx="176.0" cy="238.9" r="1.50" fill="#e7d7ce"/><circle cx="203.9" cy="170.5" r="1.50" fill="#b40426"/><circle cx="63.9" cy="134.8" r="1.50" fill="#d8dce2"/><circle cx="202.0" cy="237.6" r="1.50" fill="#e0dbd8"/><circle cx="188.1" cy="80.4" r="1.50" fill="#edd1c2"/><circle cx="87.2" cy="243.5" r="1.50" fill="#e5d8d1"/><circle cx="80.7" cy="240.6" r="1.50" fill="#f5c4ac"/><circle cx="54.1" cy="130.4" r="1.50" fill="#d9dce1"/><circle cx="173.8" cy="127.7" r="1.50" fill="#bad0f8"/><circle cx="216.3" cy="83.3" r="1.50" fill="#eed0c0"/><circle cx="153.1" cy="115.5" r="1.50" fill="#dddcdc"/><circle cx="171.2" cy="202.1" r="1.50" fill="#e6d7cf"/><circle cx="89.7" cy="265.9" r="1.50" fill="#e9d5cb"/><circle cx="129.1" cy="252.8" r="1.50" fill="#ead4c8"/><circle cx="147.2" cy="95.9" r="1.50" fill="#d7dce3"/><circle cx="94.7" cy="330.4" r="1.50" fill="#e1dad6"/><circle cx="90.6" cy="128.9" r="1.50" fill="#dcdddd"/><circle cx="189.2" cy="256.0" r="1.50" fill="#efcfbf"/><circle cx="184.4" cy="63.1" r="1.50" fill="#f7b093"/><circle cx="104.1" cy="280.7" r="1.50" fill="#dfdbd9"/><circle cx="93.4" cy="167.0" r="1.50" fill="#d1dae9"/><circle cx="152.4" cy="129.7" r="1.50" fill="#c6d6f1"/><circle cx="87.4" cy="334.0" r="1.50" fill="#dadce0"/><circle cx="168.6" cy="266.9" r="1.50" fill="#e6d7cf"/><circle cx="90.0" cy="162.7" r="1.50" fill="#e2dad5"/><circle cx="229.1" cy="61.6" r="1.50" fill="#edd1c2"/><circle cx="217.0" cy="176.5" r="1.50" fill="#e3d9d3"/><circle cx="200.8" cy="228.5" r="1.50" fill="#adc9fd"/><circle cx="115.1" cy="144.7" r="1.50" fill="#d9dce1"/><circle cx="62.1" cy="154.1" r="1.50" fill="#cfdaea"/><circle cx="132.4" cy="255.5" r="1.50" fill="#dedcdb"/><circle cx="157.1" cy="275.7" r="1.50" fill="#e4d9d2"/><circle cx="160.5" cy="132.5" r="1.50" fill="#d1dae9"/><circle cx="66.6" cy="236.7" r="1.50" fill="#ccd9ed"/><circle cx="134.3" cy="244.5" r="1.50" fill="#e8d6cc"/><circle cx="230.1" cy="174.9" r="1.50" fill="#e8d6cc"/><circle cx="227.2" cy="117.0" r="1.50" fill="#f08b6e"/><circle cx="204.9" cy="69.2" r="1.50" fill="#e3d9d3"/><circle cx="164.4" cy="276.8" r="1.50" fill="#f1ccb8"/><circle cx="231.5" cy="136.6" r="1.50" fill="#f0cdbb"/><circle cx="68.5" cy="221.7" r="1.50" fill="#dadce0"/><circle cx="203.2" cy="169.4" r="1.50" fill="#edd2c3"/><circle cx="216.5" cy="113.2" r="1.50" fill="#f7b396"/><circle cx="203.5" cy="199.9" r="1.50" fill="#c5d6f2"/><circle cx="216.0" cy="209.9" r="1.50" fill="#d1dae9"/><circle cx="245.6" cy="50.1" r="1.50" fill="#b40426"/><circle cx="179.6" cy="262.6" r="1.50" fill="#dedcdb"/><circle cx="83.5" cy="155.5" r="1.50" fill="#dedcdb"/><circle cx="111.6" cy="295.0" r="1.50" fill="#e9785d"/><circle cx="168.6" cy="71.8" r="1.50" fill="#f7bca1"/><circle cx="93.1" cy="311.0" r="1.50" fill="#ccd9ed"/><circle cx="121.8" cy="300.0" r="1.50" fill="#e4d9d2"/><circle cx="211.8" cy="260.2" r="1.50" fill="#d9dce1"/><circle cx="117.1" cy="121.5" r="1.50" fill="#dadce0"/><circle cx="133.3" cy="183.2" r="1.50" fill="#e1dad6"/><circle cx="196.9" cy="212.8" r="1.50" fill="#d6dce4"/><circle cx="195.8" cy="247.5" r="1.50" fill="#e8d6cc"/><circle cx="185.6" cy="200.0" r="1.50" fill="#e4d9d2"/><circle cx="152.0" cy="86.3" r="1.50" fill="#e1dad6"/><circle cx="201.7" cy="240.1" r="1.50" fill="#dedcdb"/><circle cx="107.1" cy="324.3" r="1.50" fill="#b40426"/><circle cx="198.1" cy="77.4" r="1.50" fill="#b40426"/><circle cx="180.1" cy="88.0" r="1.50" fill="#f2cbb7"/><circle cx="212.0" cy="254.4" r="1.50" fill="#9ebeff"/><circle cx="101.2" cy="292.5" r="1.50" fill="#dcdddd"/><circle cx="119.0" cy="174.3" r="1.50" fill="#d9dce1"/><circle cx="156.9" cy="91.8" r="1.50" fill="#dbdcde"/><circle cx="245.2" cy="124.4" r="1.50" fill="#e5d8d1"/><circle cx="214.7" cy="224.4" r="1.50" fill="#e2dad5"/><circle cx="197.3" cy="120.7" r="1.50" fill="#d4dbe6"/><circle cx="206.5" cy="102.6" r="1.50" fill="#e4d9d2"/><circle cx="217.9" cy="194.1" r="1.50" fill="#d8dce2"/><circle cx="154.9" cy="268.2" r="1.50" fill="#f7b194"/><circle cx="201.9" cy="96.8" r="1.50" fill="#bed2f6"/><circle cx="92.6" cy="261.3" r="1.50" fill="#e4d9d2"/><circle cx="142.5" cy="281.7" r="1.50" fill="#d6dce4"/><circle cx="69.7" cy="166.7" r="1.50" fill="#afcafc"/><circle cx="231.4" cy="72.6" r="1.50" fill="#f6bea4"/><circle cx="104.8" cy="283.3" r="1.50" fill="#edd2c3"/><circle cx="187.2" cy="236.6" r="1.50" fill="#b40426"/><circle cx="78.4" cy="262.7" r="1.50" fill="#f6a586"/><circle cx="112.4" cy="220.4" r="1.50" fill="#ebd3c6"/><circle cx="167.0" cy="275.8" r="1.50" fill="#ead5c9"/><circle cx="182.4" cy="282.7" r="1.50" fill="#dedcdb"/><circle cx="66.4" cy="151.4" r="1.50" fill="#dadce0"/><circle cx="208.6" cy="166.7" r="1.50" fill="#d1493f"/><circle cx="186.3" cy="208.8" r="1.50" fill="#dedcdb"/><circle cx="73.6" cy="153.0" r="1.50" fill="#aec9fc"/><circle cx="138.7" cy="142.3" r="1.50" fill="#e0dbd8"/><circle cx="243.1" cy="193.3" r="1.50" fill="#f2c9b4"/><circle cx="231.5" cy="200.6" r="1.50" fill="#e97a5f"/><circle cx="200.1" cy="110.4" r="1.50" fill="#d1dae9"/><circle cx="92.9" cy="124.3" r="1.50" fill="#dadce0"/><circle cx="210.5" cy="176.2" r="1.50" fill="#e1dad6"/><circle cx="103.0" cy="130.3" r="1.50" fill="#dfdbd9"/><circle cx="138.0" cy="195.4" r="1.50" fill="#edd1c2"/><circle cx="179.2" cy="72.7" r="1.50" fill="#f7a98b"/><circle cx="125.3" cy="263.5" r="1.50" fill="#e4d9d2"/><circle cx="158.5" cy="155.8" r="1.50" fill="#e2dad5"/><circle cx="127.2" cy="152.1" r="1.50" fill="#d8dce2"/><circle cx="96.2" cy="284.0" r="1.50" fill="#e3d9d3"/><circle cx="159.5" cy="239.2" r="1.50" fill="#f7a688"/><circle cx="148.8" cy="107.3" r="1.50" fill="#dcdddd"/><circle cx="135.4" cy="130.3" r="1.50" fill="#dfdbd9"/><circle cx="118.7" cy="193.0" r="1.50" fill="#d7dce3"/><circle cx="146.0" cy="183.5" r="1.50" fill="#e5d8d1"/><circle cx="109.9" cy="160.3" r="1.50" fill="#d8dce2"/><circle cx="137.8" cy="104.1" r="1.50" fill="#e7d7ce"/><circle cx="178.1" cy="82.7" r="1.50" fill="#f7b497"/><circle cx="238.9" cy="216.0" r="1.50" fill="#dfdbd9"/><circle cx="228.1" cy="208.5" r="1.50" fill="#f2cab5"/><circle cx="176.3" cy="105.2" r="1.50" fill="#c1d4f4"/><circle cx="159.4" cy="215.8" r="1.50" fill="#d8dce2"/><circle cx="140.5" cy="265.2" r="1.50" fill="#f7ad90"/><circle cx="217.4" cy="87.0" r="1.50" fill="#e5d8d1"/><circle cx="149.5" cy="221.5" r="1.50" fill="#f4c6af"/><circle cx="102.2" cy="285.6" r="1.50" fill="#c32e31"/><circle cx="202.1" cy="148.4" r="1.50" fill="#d3dbe7"/><circle cx="166.3" cy="262.2" r="1.50" fill="#dfdbd9"/><circle cx="93.2" cy="113.6" r="1.50" fill="#e6d7cf"/><circle cx="241.8" cy="70.7" r="1.50" fill="#f7b396"/><circle cx="96.5" cy="303.4" r="1.50" fill="#ead4c8"/><circle cx="186.3" cy="128.3" r="1.50" fill="#c0d4f5"/><circle cx="89.2" cy="233.6" r="1.50" fill="#dddcdc"/><circle cx="235.5" cy="56.5" r="1.50" fill="#efcfbf"/><circle cx="188.1" cy="177.7" r="1.50" fill="#f2cab5"/><circle cx="229.7" cy="177.6" r="1.50" fill="#edd2c3"/><circle cx="218.5" cy="180.5" r="1.50" fill="#bb1b2c"/><circle cx="207.2" cy="112.1" r="1.50" fill="#dcdddd"/><circle cx="118.3" cy="289.8" r="1.50" fill="#f1cdba"/><circle cx="100.9" cy="182.7" r="1.50" fill="#d8dce2"/><circle cx="61.1" cy="301.2" r="1.50" fill="#dedcdb"/><circle cx="218.3" cy="73.2" r="1.50" fill="#f4c5ad"/><circle cx="167.7" cy="216.0" r="1.50" fill="#cedaeb"/><circle cx="124.1" cy="162.5" r="1.50" fill="#cad8ef"/><circle cx="111.7" cy="217.1" r="1.50" fill="#e0dbd8"/><circle cx="225.4" cy="197.9" r="1.50" fill="#f0cdbb"/><circle cx="69.9" cy="323.6" r="1.50" fill="#dbdcde"/><circle cx="233.1" cy="171.0" r="1.50" fill="#e8d6cc"/><circle cx="120.0" cy="244.4" r="1.50" fill="#cad8ef"/><circle cx="188.6" cy="257.4" r="1.50" fill="#efcfbf"/><circle cx="149.3" cy="190.5" r="1.50" fill="#ebd3c6"/><circle cx="134.4" cy="135.6" r="1.50" fill="#dddcdc"/><circle cx="68.6" cy="290.2" r="1.50" fill="#e3d9d3"/><circle cx="108.2" cy="274.6" r="1.50" fill="#e3d9d3"/><circle cx="64.2" cy="257.3" r="1.50" fill="#f6bfa6"/><circle cx="194.1" cy="255.9" r="1.50" fill="#f0cdbb"/><circle cx="207.2" cy="96.0" r="1.50" fill="#dbdcde"/><circle cx="243.0" cy="108.8" r="1.50" fill="#f4c5ad"/><circle cx="152.3" cy="170.2" r="1.50" fill="#dadce0"/><circle cx="183.9" cy="158.5" r="1.50" fill="#d95847"/><circle cx="132.0" cy="275.1" r="1.50" fill="#e8d6cc"/><circle cx="122.3" cy="200.9" r="1.50" fill="#e8d6cc"/><circle cx="148.8" cy="184.0" r="1.50" fill="#dedcdb"/><circle cx="178.6" cy="244.4" r="1.50" fill="#e8d6cc"/><circle cx="145.8" cy="310.3" r="1.50" fill="#b40426"/><circle cx="103.6" cy="304.3" r="1.50" fill="#9bbcff"/><circle cx="101.0" cy="191.8" r="1.50" fill="#e0dbd8"/><circle cx="240.5" cy="73.9" r="1.50" fill="#f4c6af"/><circle cx="183.8" cy="221.1" r="1.50" fill="#dfdbd9"/><circle cx="91.0" cy="310.6" r="1.50" fill="#cdd9ec"/><circle cx="106.3" cy="289.0" r="1.50" fill="#ead5c9"/><circle cx="215.2" cy="165.6" r="1.50" fill="#b40426"/><circle cx="71.6" cy="170.6" r="1.50" fill="#dddcdc"/><circle cx="68.2" cy="172.8" r="1.50" fill="#e0dbd8"/><circle cx="144.5" cy="255.7" r="1.50" fill="#f2c9b4"/><circle cx="123.0" cy="213.6" r="1.50" fill="#dedcdb"/><circle cx="133.5" cy="256.9" r="1.50" fill="#dddcdc"/><circle cx="111.5" cy="280.8" r="1.50" fill="#e3d9d3"/><circle cx="136.6" cy="197.2" r="1.50" fill="#e5d8d1"/><circle cx="61.5" cy="165.7" r="1.50" fill="#c83836"/><circle cx="56.1" cy="138.6" r="1.50" fill="#d5dbe5"/><circle cx="145.5" cy="221.9" r="1.50" fill="#e1dad6"/><circle cx="183.0" cy="260.5" r="1.50" fill="#e0dbd8"/><circle cx="225.6" cy="69.9" r="1.50" fill="#f0cdbb"/><circle cx="101.6" cy="205.4" r="1.50" fill="#e1dad6"/><circle cx="93.1" cy="136.2" r="1.50" fill="#dedcdb"/><circle cx="149.5" cy="271.7" r="1.50" fill="#ead5c9"/><circle cx="185.4" cy="274.5" r="1.50" fill="#b40426"/><circle cx="216.3" cy="269.6" r="1.50" fill="#ebd3c6"/><circle cx="106.0" cy="227.4" r="1.50" fill="#e3d9d3"/><circle cx="225.4" cy="100.0" r="1.50" fill="#dedcdb"/><circle cx="236.7" cy="233.8" r="1.50" fill="#e0dbd8"/><circle cx="222.4" cy="206.7" r="1.50" fill="#e9d5cb"/><circle cx="196.6" cy="110.0" r="1.50" fill="#cfdaea"/><circle cx="98.4" cy="290.7" r="1.50" fill="#cdd9ec"/><circle cx="126.9" cy="116.6" r="1.50" fill="#dadce0"/><circle cx="88.0" cy="129.4" r="1.50" fill="#dfdbd9"/><circle cx="133.7" cy="313.2" r="1.50" fill="#d24b40"/><circle cx="220.5" cy="225.1" r="1.50" fill="#efcebd"/><circle cx="107.1" cy="299.6" r="1.50" fill="#b40426"/><circle cx="216.8" cy="142.1" r="1.50" fill="#dfdbd9"/><circle cx="111.0" cy="230.9" r="1.50" fill="#dddcdc"/><circle cx="248.7" cy="105.4" r="1.50" fill="#ebd3c6"/><circle cx="99.2" cy="271.3" r="1.50" fill="#e8d6cc"/><circle cx="105.7" cy="208.3" r="1.50" fill="#d8dce2"/><circle cx="201.5" cy="196.4" r="1.50" fill="#d2dbe8"/><circle cx="220.5" cy="44.6" r="1.50" fill="#edd2c3"/><circle cx="166.9" cy="216.3" r="1.50" fill="#f0cdbb"/><circle cx="112.6" cy="272.3" r="1.50" fill="#e7d7ce"/><circle cx="194.0" cy="107.6" r="1.50" fill="#d2dbe8"/><circle cx="208.9" cy="281.7" r="1.50" fill="#d8dce2"/><circle cx="197.7" cy="166.8" r="1.50" fill="#f6bda2"/><circle cx="74.0" cy="298.7" r="1.50" fill="#e4d9d2"/><circle cx="114.9" cy="290.4" r="1.50" fill="#f18d6f"/><circle cx="116.8" cy="138.3" r="1.50" fill="#dadce0"/><circle cx="70.1" cy="205.3" r="1.50" fill="#dadce0"/><circle cx="105.3" cy="132.6" r="1.50" fill="#dadce0"/><circle cx="104.1" cy="216.9" r="1.50" fill="#dfdbd9"/><circle cx="90.1" cy="229.3" r="1.50" fill="#e8d6cc"/><circle cx="239.8" cy="117.3" r="1.50" fill="#e5d8d1"/><circle cx="123.6" cy="170.6" r="1.50" fill="#dcdddd"/><circle cx="198.8" cy="62.9" r="1.50" fill="#d44e41"/><circle cx="149.9" cy="198.9" r="1.50" fill="#f7b79b"/><circle cx="114.9" cy="206.7" r="1.50" fill="#dddcdc"/><circle cx="52.7" cy="144.0" r="1.50" fill="#dcdddd"/><circle cx="87.2" cy="140.1" r="1.50" fill="#e7d7ce"/><circle cx="68.2" cy="245.5" r="1.50" fill="#e4d9d2"/><circle cx="187.9" cy="120.3" r="1.50" fill="#bfd3f6"/><circle cx="216.2" cy="140.1" r="1.50" fill="#b40426"/><circle cx="229.2" cy="112.2" r="1.50" fill="#b40426"/><circle cx="114.5" cy="109.3" r="1.50" fill="#eed0c0"/><circle cx="153.3" cy="159.0" r="1.50" fill="#dfdbd9"/><circle cx="120.0" cy="141.1" r="1.50" fill="#e2dad5"/><circle cx="118.0" cy="159.7" r="1.50" fill="#dcdddd"/><circle cx="138.8" cy="208.1" r="1.50" fill="#f7b79b"/><circle cx="164.6" cy="228.4" r="1.50" fill="#e8d6cc"/><circle cx="90.8" cy="282.9" r="1.50" fill="#e5d8d1"/><circle cx="115.5" cy="187.8" r="1.50" fill="#d8dce2"/><circle cx="230.5" cy="235.2" r="1.50" fill="#e2dad5"/><circle cx="232.0" cy="116.1" r="1.50" fill="#ead5c9"/><circle cx="154.3" cy="187.8" r="1.50" fill="#ead5c9"/><circle cx="147.6" cy="253.9" r="1.50" fill="#ebd3c6"/><circle cx="129.6" cy="139.9" r="1.50" fill="#dfdbd9"/><circle cx="205.1" cy="223.6" r="1.50" fill="#dcdddd"/><circle cx="201.4" cy="90.5" r="1.50" fill="#edd2c3"/><circle cx="104.1" cy="291.4" r="1.50" fill="#efcebd"/><circle cx="246.0" cy="169.1" r="1.50" fill="#f2c9b4"/><circle cx="189.5" cy="77.0" r="1.50" fill="#f18d6f"/><circle cx="110.0" cy="319.5" r="1.50" fill="#d9dce1"/><circle cx="129.8" cy="168.2" r="1.50" fill="#d1dae9"/><circle cx="221.0" cy="190.5" r="1.50" fill="#e3d9d3"/><circle cx="192.1" cy="101.0" r="1.50" fill="#ccd9ed"/><circle cx="101.8" cy="160.5" r="1.50" fill="#dfdbd9"/><circle cx="210.0" cy="249.2" r="1.50" fill="#dddcdc"/><circle cx="49.6" cy="254.2" r="1.50" fill="#f7b599"/><circle cx="47.7" cy="222.5" r="1.50" fill="#dadce0"/><circle cx="147.3" cy="156.2" r="1.50" fill="#d3dbe7"/><circle cx="170.1" cy="270.5" r="1.50" fill="#ebd3c6"/><circle cx="85.8" cy="263.5" r="1.50" fill="#f1ccb8"/><circle cx="190.3" cy="235.0" r="1.50" fill="#f0cdbb"/><circle cx="88.6" cy="322.1" r="1.50" fill="#dcdddd"/><circle cx="115.2" cy="272.9" r="1.50" fill="#d8dce2"/><circle cx="186.1" cy="193.4" r="1.50" fill="#dedcdb"/><circle cx="200.7" cy="81.5" r="1.50" fill="#f5c1a9"/><circle cx="111.3" cy="181.0" r="1.50" fill="#dbdcde"/><circle cx="176.1" cy="70.8" r="1.50" fill="#b40426"/><circle cx="98.1" cy="123.4" r="1.50" fill="#e3d9d3"/><circle cx="204.2" cy="181.3" r="1.50" fill="#dddcdc"/><circle cx="133.8" cy="280.9" r="1.50" fill="#ead5c9"/><circle cx="143.9" cy="146.3" r="1.50" fill="#d6dce4"/><circle cx="219.7" cy="52.7" r="1.50" fill="#efcebd"/><circle cx="100.3" cy="279.8" r="1.50" fill="#d8dce2"/><circle cx="173.4" cy="146.9" r="1.50" fill="#dadce0"/><circle cx="101.8" cy="131.3" r="1.50" fill="#dfdbd9"/><circle cx="134.5" cy="220.4" r="1.50" fill="#dddcdc"/><circle cx="161.9" cy="196.7" r="1.50" fill="#edd2c3"/><circle cx="105.6" cy="184.8" r="1.50" fill="#dddcdc"/><circle cx="221.6" cy="136.6" r="1.50" fill="#e5d8d1"/><circle cx="79.3" cy="306.7" r="1.50" fill="#dfdbd9"/><circle cx="196.8" cy="229.3" r="1.50" fill="#d9dce1"/><circle cx="230.6" cy="235.4" r="1.50" fill="#b40426"/><circle cx="144.2" cy="127.4" r="1.50" fill="#e0dbd8"/><circle cx="156.8" cy="229.4" r="1.50" fill="#bbd1f8"/><circle cx="57.1" cy="268.1" r="1.50" fill="#f5c1a9"/><circle cx="192.3" cy="113.9" r="1.50" fill="#d9dce1"/><circle cx="187.1" cy="65.2" r="1.50" fill="#f2c9b4"/><circle cx="132.4" cy="188.7" r="1.50" fill="#e3d9d3"/><circle cx="212.1" cy="221.1" r="1.50" fill="#f0cdbb"/><circle cx="240.5" cy="191.5" r="1.50" fill="#f4987a"/><circle cx="105.3" cy="323.0" r="1.50" fill="#d4dbe6"/><circle cx="133.2" cy="236.4" r="1.50" fill="#e3d9d3"/><circle cx="88.3" cy="241.9" r="1.50" fill="#f7ba9f"/><circle cx="203.1" cy="226.9" r="1.50" fill="#d7dce3"/><circle cx="63.5" cy="251.7" r="1.50" fill="#f7b194"/><circle cx="183.5" cy="148.3" r="1.50" fill="#e3d9d3"/><circle cx="180.6" cy="148.9" r="1.50" fill="#b2ccfb"/><circle cx="189.8" cy="145.3" r="1.50" fill="#dcdddd"/><circle cx="76.3" cy="312.9" r="1.50" fill="#e2dad5"/><circle cx="120.5" cy="227.8" r="1.50" fill="#dcdddd"/><circle cx="69.6" cy="264.8" r="1.50" fill="#b40426"/><circle cx="201.9" cy="176.3" r="1.50" fill="#dcdddd"/><circle cx="233.5" cy="131.3" r="1.50" fill="#e9d5cb"/><circle cx="190.9" cy="88.8" r="1.50" fill="#dadce0"/><circle cx="226.3" cy="49.0" r="1.50" fill="#dddcdc"/><circle cx="106.6" cy="113.7" r="1.50" fill="#e2dad5"/><circle cx="54.4" cy="279.5" r="1.50" fill="#dcdddd"/><circle cx="156.3" cy="286.0" r="1.50" fill="#e6d7cf"/><circle cx="233.1" cy="85.8" r="1.50" fill="#e7d7ce"/><circle cx="166.9" cy="276.6" r="1.50" fill="#e2dad5"/><circle cx="234.0" cy="178.4" r="1.50" fill="#dfdbd9"/><circle cx="111.0" cy="203.6" r="1.50" fill="#dedcdb"/><circle cx="241.0" cy="102.4" r="1.50" fill="#f6bfa6"/><circle cx="245.4" cy="116.3" r="1.50" fill="#f0cdbb"/><circle cx="55.5" cy="200.0" r="1.50" fill="#e5d8d1"/><circle cx="103.4" cy="243.6" r="1.50" fill="#e7d7ce"/><circle cx="114.6" cy="152.7" r="1.50" fill="#e1dad6"/><circle cx="191.3" cy="198.7" r="1.50" fill="#e2dad5"/><circle cx="142.4" cy="152.4" r="1.50" fill="#e1dad6"/><circle cx="103.3" cy="201.9" r="1.50" fill="#d8dce2"/><circle cx="48.0" cy="203.8" r="1.50" fill="#f2c9b4"/><circle cx="175.5" cy="179.4" r="1.50" fill="#dfdbd9"/><circle cx="95.9" cy="177.8" r="1.50" fill="#e5d8d1"/><circle cx="247.3" cy="265.0" r="1.50" fill="#dadce0"/><circle cx="183.2" cy="165.3" r="1.50" fill="#cedaeb"/><circle cx="244.3" cy="259.8" r="1.50" fill="#d9dce1"/><circle cx="202.8" cy="67.1" r="1.50" fill="#f59d7e"/><circle cx="199.2" cy="125.3" r="1.50" fill="#d5dbe5"/><circle cx="217.3" cy="174.3" r="1.50" fill="#f7b99e"/><circle cx="186.7" cy="161.7" r="1.50" fill="#f1cdba"/><circle cx="86.4" cy="243.0" r="1.50" fill="#f7a98b"/><circle cx="209.2" cy="64.2" r="1.50" fill="#e1dad6"/><circle cx="146.9" cy="127.9" r="1.50" fill="#d1dae9"/><circle cx="124.0" cy="186.2" r="1.50" fill="#f1cdba"/><circle cx="250.1" cy="50.7" r="1.50" fill="#ee8468"/><circle cx="220.6" cy="153.3" r="1.50" fill="#efcfbf"/><circle cx="220.0" cy="211.5" r="1.50" fill="#e0dbd8"/><circle cx="189.8" cy="78.3" r="1.50" fill="#b40426"/><circle cx="201.7" cy="241.5" r="1.50" fill="#dfdbd9"/><circle cx="159.5" cy="116.3" r="1.50" fill="#c3d5f4"/><circle cx="141.5" cy="89.0" r="1.50" fill="#e4d9d2"/><circle cx="76.7" cy="171.9" r="1.50" fill="#dbdcde"/><circle cx="83.6" cy="212.8" r="1.50" fill="#dbdcde"/><circle cx="181.4" cy="237.7" r="1.50" fill="#ead4c8"/><circle cx="150.5" cy="291.3" r="1.50" fill="#ead5c9"/><circle cx="159.0" cy="111.6" r="1.50" fill="#c4d5f3"/><circle cx="171.2" cy="135.6" r="1.50" fill="#ead5c9"/><circle cx="155.9" cy="78.1" r="1.50" fill="#ead5c9"/><circle cx="183.1" cy="104.3" r="1.50" fill="#cbd8ee"/><circle cx="145.1" cy="206.6" r="1.50" fill="#dfdbd9"/><circle cx="110.3" cy="172.3" r="1.50" fill="#dedcdb"/><circle cx="224.2" cy="199.6" r="1.50" fill="#f2c9b4"/><circle cx="150.3" cy="213.5" r="1.50" fill="#dbdcde"/><circle cx="130.5" cy="154.2" r="1.50" fill="#d8dce2"/><circle cx="223.6" cy="83.1" r="1.50" fill="#edd1c2"/><circle cx="65.0" cy="232.6" r="1.50" fill="#cbd8ee"/><circle cx="226.5" cy="118.4" r="1.50" fill="#dfdbd9"/><circle cx="54.8" cy="155.7" r="1.50" fill="#dcdddd"/><circle cx="237.9" cy="173.3" r="1.50" fill="#ead5c9"/><circle cx="186.9" cy="171.9" r="1.50" fill="#dcdddd"/><circle cx="178.9" cy="112.5" r="1.50" fill="#d6dce4"/><circle cx="148.2" cy="161.0" r="1.50" fill="#d6dce4"/><circle cx="197.9" cy="206.3" r="1.50" fill="#cdd9ec"/><circle cx="95.6" cy="268.6" r="1.50" fill="#e6d7cf"/><circle cx="66.4" cy="154.2" r="1.50" fill="#e2dad5"/><circle cx="172.9" cy="206.0" r="1.50" fill="#dddcdc"/><circle cx="195.9" cy="187.4" r="1.50" fill="#efcfbf"/><circle cx="97.4" cy="249.0" r="1.50" fill="#e2dad5"/><circle cx="54.2" cy="169.2" r="1.50" fill="#d7dce3"/><circle cx="102.8" cy="235.9" r="1.50" fill="#d3dbe7"/><circle cx="152.7" cy="295.9" r="1.50" fill="#edd1c2"/><circle cx="60.0" cy="304.7" r="1.50" fill="#e8d6cc"/><circle cx="208.8" cy="190.5" r="1.50" fill="#ead5c9"/><circle cx="166.9" cy="131.1" r="1.50" fill="#dcdddd"/><circle cx="105.4" cy="199.3" r="1.50" fill="#e2dad5"/><circle cx="150.3" cy="204.4" r="1.50" fill="#e4d9d2"/><circle cx="119.8" cy="208.0" r="1.50" fill="#bad0f8"/><circle cx="107.3" cy="293.6" r="1.50" fill="#dfdbd9"/><circle cx="135.7" cy="201.3" r="1.50" fill="#edd2c3"/><circle cx="95.9" cy="195.3" r="1.50" fill="#dcdddd"/><circle cx="243.4" cy="226.5" r="1.50" fill="#e7d7ce"/><circle cx="233.9" cy="108.1" r="1.50" fill="#ea7b60"/><circle cx="49.5" cy="334.3" r="1.50" fill="#d7dce3"/><circle cx="161.7" cy="144.2" r="1.50" fill="#e2dad5"/><circle cx="167.0" cy="103.2" r="1.50" fill="#ecd3c5"/><circle cx="82.1" cy="246.9" r="1.50" fill="#e8d6cc"/><circle cx="174.1" cy="257.4" r="1.50" fill="#e6d7cf"/><circle cx="194.5" cy="86.9" r="1.50" fill="#bad0f8"/><circle cx="210.5" cy="246.1" r="1.50" fill="#d3dbe7"/><circle cx="118.2" cy="230.5" r="1.50" fill="#d7dce3"/><circle cx="60.6" cy="295.7" r="1.50" fill="#e1dad6"/><circle cx="61.6" cy="307.1" r="1.50" fill="#d9dce1"/><circle cx="198.7" cy="165.8" r="1.50" fill="#b40426"/><circle cx="237.0" cy="229.0" r="1.50" fill="#b40426"/><circle cx="222.7" cy="243.2" r="1.50" fill="#eed0c0"/><circle cx="102.5" cy="138.1" r="1.50" fill="#dbdcde"/><circle cx="179.4" cy="65.3" r="1.50" fill="#e4d9d2"/><circle cx="86.0" cy="190.3" r="1.50" fill="#cfdaea"/><circle cx="115.1" cy="149.8" r="1.50" fill="#dadce0"/><circle cx="51.5" cy="132.5" r="1.50" fill="#dbdcde"/><circle cx="100.9" cy="237.9" r="1.50" fill="#efcebd"/><circle cx="53.1" cy="139.7" r="1.50" fill="#e2dad5"/><circle cx="203.6" cy="145.4" r="1.50" fill="#d9dce1"/><circle cx="177.2" cy="180.2" r="1.50" fill="#edd1c2"/><circle cx="221.7" cy="257.1" r="1.50" fill="#ebd3c6"/><circle cx="128.9" cy="153.0" r="1.50" fill="#dcdddd"/><circle cx="94.4" cy="294.0" r="1.50" fill="#ecd3c5"/><circle cx="143.8" cy="263.9" r="1.50" fill="#f7b093"/><circle cx="190.7" cy="252.5" r="1.50" fill="#d75445"/><circle cx="128.0" cy="275.3" r="1.50" fill="#dddcdc"/><circle cx="138.8" cy="228.3" r="1.50" fill="#e3d9d3"/><circle cx="126.6" cy="140.4" r="1.50" fill="#dddcdc"/><circle cx="102.8" cy="154.8" r="1.50" fill="#c7d7f0"/><circle cx="114.8" cy="246.7" r="1.50" fill="#d9dce1"/><circle cx="76.2" cy="250.8" r="1.50" fill="#b40426"/><circle cx="233.0" cy="170.6" r="1.50" fill="#e7d7ce"/><circle cx="83.4" cy="237.5" r="1.50" fill="#f2cab5"/><circle cx="216.6" cy="114.3" r="1.50" fill="#b40426"/><circle cx="198.0" cy="82.9" r="1.50" fill="#e0dbd8"/><circle cx="184.6" cy="113.8" r="1.50" fill="#d3dbe7"/><circle cx="220.4" cy="142.8" r="1.50" fill="#f2cbb7"/><circle cx="117.1" cy="227.4" r="1.50" fill="#e1dad6"/><circle cx="86.4" cy="125.1" r="1.50" fill="#e4d9d2"/><circle cx="102.3" cy="170.6" r="1.50" fill="#e0dbd8"/><circle cx="184.6" cy="238.7" r="1.50" fill="#efcebd"/><circle cx="174.4" cy="65.3" r="1.50" fill="#cd423b"/><circle cx="186.8" cy="102.9" r="1.50" fill="#c7d7f0"/><circle cx="169.6" cy="227.7" r="1.50" fill="#e8d6cc"/><circle cx="168.6" cy="209.3" r="1.50" fill="#e3d9d3"/><circle cx="132.7" cy="129.9" r="1.50" fill="#dedcdb"/><circle cx="95.2" cy="168.0" r="1.50" fill="#d5dbe5"/><circle cx="170.9" cy="238.6" r="1.50" fill="#e9d5cb"/><circle cx="109.7" cy="300.2" r="1.50" fill="#cdd9ec"/><circle cx="127.3" cy="233.4" r="1.50" fill="#e3d9d3"/><circle cx="148.7" cy="120.0" r="1.50" fill="#dddcdc"/><circle cx="146.6" cy="130.6" r="1.50" fill="#cedaeb"/><circle cx="80.6" cy="201.0" r="1.50" fill="#dcdddd"/><circle cx="163.2" cy="160.2" r="1.50" fill="#d6dce4"/><circle cx="90.3" cy="201.7" r="1.50" fill="#dcdddd"/><circle cx="159.2" cy="145.6" r="1.50" fill="#c9d7f0"/><circle cx="105.9" cy="323.3" r="1.50" fill="#dc5d4a"/><circle cx="163.0" cy="220.9" r="1.50" fill="#dddcdc"/><circle cx="98.0" cy="293.4" r="1.50" fill="#e1dad6"/><circle cx="105.9" cy="302.2" r="1.50" fill="#adc9fd"/><circle cx="131.4" cy="311.0" r="1.50" fill="#b40426"/><circle cx="144.3" cy="146.2" r="1.50" fill="#b9d0f9"/><circle cx="201.2" cy="64.9" r="1.50" fill="#c0282f"/><circle cx="83.5" cy="214.8" r="1.50" fill="#dfdbd9"/><circle cx="199.8" cy="99.6" r="1.50" fill="#d9dce1"/><circle cx="121.1" cy="287.4" r="1.50" fill="#b40426"/><circle cx="155.1" cy="132.6" r="1.50" fill="#dadce0"/><circle cx="203.2" cy="169.4" r="1.50" fill="#f1cdba"/><circle cx="217.8" cy="152.1" r="1.50" fill="#eed0c0"/><circle cx="51.5" cy="337.5" r="1.50" fill="#e5d8d1"/><circle cx="204.3" cy="164.9" r="1.50" fill="#d75445"/><circle cx="98.1" cy="247.1" r="1.50" fill="#f1ccb8"/><circle cx="66.9" cy="237.3" r="1.50" fill="#d9dce1"/><circle cx="193.4" cy="158.3" r="1.50" fill="#e1dad6"/><circle cx="51.3" cy="304.2" r="1.50" fill="#dddcdc"/><circle cx="129.7" cy="302.8" r="1.50" fill="#dfdbd9"/><circle cx="163.7" cy="187.7" r="1.50" fill="#dedcdb"/><circle cx="214.8" cy="132.5" r="1.50" fill="#f59d7e"/><circle cx="237.3" cy="158.1" r="1.50" fill="#e0dbd8"/><circle cx="61.6" cy="319.8" r="1.50" fill="#e0dbd8"/><circle cx="177.0" cy="184.2" r="1.50" fill="#dcdddd"/><circle cx="204.4" cy="100.1" r="1.50" fill="#d6dce4"/><circle cx="216.2" cy="233.1" r="1.50" fill="#c9d7f0"/><circle cx="88.3" cy="271.1" r="1.50" fill="#c5d6f2"/><circle cx="86.8" cy="123.1" r="1.50" fill="#dddcdc"/><circle cx="114.3" cy="326.3" r="1.50" fill="#e5d8d1"/><circle cx="89.0" cy="190.8" r="1.50" fill="#dedcdb"/><circle cx="60.5" cy="318.1" r="1.50" fill="#dddcdc"/><circle cx="103.1" cy="128.5" r="1.50" fill="#e4d9d2"/><circle cx="189.9" cy="179.4" r="1.50" fill="#f2cab5"/><circle cx="132.9" cy="263.6" r="1.50" fill="#e1dad6"/><circle cx="178.7" cy="241.3" r="1.50" fill="#e5d8d1"/><circle cx="113.8" cy="240.2" r="1.50" fill="#d7dce3"/><circle cx="203.5" cy="249.2" r="1.50" fill="#dddcdc"/><circle cx="212.3" cy="48.9" r="1.50" fill="#ead4c8"/><circle cx="118.4" cy="293.3" r="1.50" fill="#e4d9d2"/><circle cx="235.8" cy="110.6" r="1.50" fill="#cfdaea"/><circle cx="175.5" cy="211.7" r="1.50" fill="#e3d9d3"/><circle cx="231.3" cy="257.7" r="1.50" fill="#f2c9b4"/><circle cx="208.6" cy="167.2" r="1.50" fill="#b40426"/><circle cx="97.6" cy="188.8" r="1.50" fill="#e7d7ce"/><circle cx="190.9" cy="150.9" r="1.50" fill="#e1dad6"/><circle cx="172.3" cy="104.4" r="1.50" fill="#d4dbe6"/><circle cx="162.2" cy="132.9" r="1.50" fill="#cfdaea"/><circle cx="94.5" cy="289.5" r="1.50" fill="#e3d9d3"/><circle cx="92.4" cy="139.6" r="1.50" fill="#e0dbd8"/><circle cx="142.5" cy="263.8" r="1.50" fill="#f6bea4"/><circle cx="176.8" cy="168.5" r="1.50" fill="#dddcdc"/><circle cx="130.6" cy="242.1" r="1.50" fill="#ead5c9"/><circle cx="188.6" cy="168.2" r="1.50" fill="#f1cdba"/><circle cx="115.4" cy="156.9" r="1.50" fill="#d5dbe5"/><circle cx="225.5" cy="151.3" r="1.50" fill="#e1dad6"/><circle cx="127.2" cy="158.4" r="1.50" fill="#dedcdb"/><circle cx="53.1" cy="189.8" r="1.50" fill="#dadce0"/><circle cx="162.8" cy="122.3" r="1.50" fill="#d7dce3"/><circle cx="97.2" cy="184.4" r="1.50" fill="#bfd3f6"/><circle cx="84.9" cy="189.1" r="1.50" fill="#dadce0"/><circle cx="83.1" cy="148.1" r="1.50" fill="#d5dbe5"/><circle cx="79.9" cy="141.0" r="1.50" fill="#dedcdb"/><circle cx="173.7" cy="283.0" r="1.50" fill="#dfdbd9"/><circle cx="239.2" cy="45.4" r="1.50" fill="#dedcdb"/><circle cx="228.5" cy="123.7" r="1.50" fill="#b40426"/><circle cx="179.9" cy="164.3" r="1.50" fill="#d3dbe7"/><circle cx="154.8" cy="150.1" r="1.50" fill="#d7dce3"/><circle cx="102.7" cy="123.7" r="1.50" fill="#dcdddd"/><circle cx="137.2" cy="131.5" r="1.50" fill="#e1dad6"/><circle cx="215.9" cy="249.3" r="1.50" fill="#dcdddd"/><circle cx="219.0" cy="75.9" r="1.50" fill="#eed0c0"/><circle cx="222.2" cy="255.9" r="1.50" fill="#cdd9ec"/><circle cx="65.9" cy="245.1" r="1.50" fill="#e4d9d2"/><circle cx="186.1" cy="250.6" r="1.50" fill="#dedcdb"/><circle cx="158.6" cy="150.5" r="1.50" fill="#dcdddd"/><circle cx="73.8" cy="148.7" r="1.50" fill="#dadce0"/><circle cx="105.3" cy="232.4" r="1.50" fill="#f7bca1"/><circle cx="160.8" cy="175.3" r="1.50" fill="#e3d9d3"/><circle cx="105.9" cy="153.9" r="1.50" fill="#dadce0"/><circle cx="129.6" cy="124.8" r="1.50" fill="#dadce0"/><circle cx="233.4" cy="239.4" r="1.50" fill="#bd1f2d"/><circle cx="141.1" cy="262.5" r="1.50" fill="#f7ba9f"/><circle cx="211.8" cy="140.6" r="1.50" fill="#e3d9d3"/><circle cx="57.8" cy="169.2" r="1.50" fill="#e1dad6"/><circle cx="202.3" cy="266.8" r="1.50" fill="#dddcdc"/><circle cx="104.1" cy="282.7" r="1.50" fill="#e3d9d3"/><circle cx="218.0" cy="199.3" r="1.50" fill="#c9d7f0"/><circle cx="136.6" cy="207.5" r="1.50" fill="#dfdbd9"/><circle cx="68.5" cy="299.1" r="1.50" fill="#e4d9d2"/><circle cx="203.1" cy="246.4" r="1.50" fill="#c6d6f1"/><circle cx="98.1" cy="322.5" r="1.50" fill="#cd423b"/><circle cx="87.6" cy="159.7" r="1.50" fill="#dddcdc"/><circle cx="182.1" cy="162.1" r="1.50" fill="#f1cdba"/><circle cx="69.6" cy="156.0" r="1.50" fill="#e1dad6"/><circle cx="227.4" cy="91.2" r="1.50" fill="#e0dbd8"/><circle cx="150.4" cy="269.4" r="1.50" fill="#f7b497"/><circle cx="108.4" cy="184.4" r="1.50" fill="#d9dce1"/><circle cx="161.3" cy="65.0" r="1.50" fill="#edd2c3"/><circle cx="155.7" cy="167.2" r="1.50" fill="#dbdcde"/><circle cx="124.6" cy="263.5" r="1.50" fill="#dcdddd"/><circle cx="93.8" cy="248.6" r="1.50" fill="#dedcdb"/><circle cx="147.2" cy="249.9" r="1.50" fill="#f2cbb7"/><circle cx="164.0" cy="116.3" r="1.50" fill="#c6d6f1"/><circle cx="151.5" cy="192.3" r="1.50" fill="#f5c2aa"/><circle cx="63.3" cy="173.3" r="1.50" fill="#dcdddd"/><circle cx="166.1" cy="199.1" r="1.50" fill="#dedcdb"/><circle cx="249.5" cy="276.2" r="1.50" fill="#dcdddd"/><circle cx="218.6" cy="89.8" r="1.50" fill="#ebd3c6"/><circle cx="177.8" cy="213.5" r="1.50" fill="#d4dbe6"/><circle cx="164.4" cy="219.0" r="1.50" fill="#efcfbf"/><circle cx="118.8" cy="312.0" r="1.50" fill="#d6dce4"/><circle cx="59.9" cy="207.5" r="1.50" fill="#dbdcde"/><circle cx="126.8" cy="279.5" r="1.50" fill="#e6d7cf"/><circle cx="141.8" cy="271.4" r="1.50" fill="#f5c1a9"/><circle cx="100.5" cy="132.6" r="1.50" fill="#e7d7ce"/><circle cx="211.9" cy="172.0" r="1.50" fill="#cf453c"/><circle cx="56.9" cy="141.4" r="1.50" fill="#dbdcde"/><circle cx="63.4" cy="275.3" r="1.50" fill="#ebd3c6"/><circle cx="52.9" cy="265.4" r="1.50" fill="#f6a385"/><circle cx="77.8" cy="260.1" r="1.50" fill="#dedcdb"/><circle cx="113.0" cy="171.2" r="1.50" fill="#d6dce4"/><circle cx="131.6" cy="124.2" r="1.50" fill="#e9d5cb"/><circle cx="166.8" cy="229.8" r="1.50" fill="#e9d5cb"/><circle cx="78.9" cy="192.7" r="1.50" fill="#dddcdc"/><circle cx="197.7" cy="65.6" r="1.50" fill="#d24b40"/><circle cx="76.8" cy="191.7" r="1.50" fill="#d7dce3"/><circle cx="227.3" cy="253.1" r="1.50" fill="#d7dce3"/><circle cx="130.8" cy="119.1" r="1.50" fill="#e6d7cf"/><circle cx="129.6" cy="319.0" r="1.50" fill="#e6d7cf"/><circle cx="215.3" cy="204.9" r="1.50" fill="#e9d5cb"/><circle cx="222.8" cy="143.8" r="1.50" fill="#d9dce1"/><circle cx="121.9" cy="121.5" r="1.50" fill="#d7dce3"/><circle cx="136.7" cy="272.9" r="1.50" fill="#e7d7ce"/><circle cx="82.2" cy="273.5" r="1.50" fill="#ead4c8"/><circle cx="95.3" cy="188.7" r="1.50" fill="#f1cdba"/><circle cx="193.9" cy="233.5" r="1.50" fill="#dddcdc"/><circle cx="89.7" cy="332.7" r="1.50" fill="#c9d7f0"/><circle cx="126.1" cy="188.9" r="1.50" fill="#d8dce2"/><circle cx="153.0" cy="107.3" r="1.50" fill="#cfdaea"/><circle cx="202.6" cy="247.9" r="1.50" fill="#d7dce3"/><circle cx="94.7" cy="305.3" r="1.50" fill="#b7cff9"/><circle cx="46.5" cy="260.3" r="1.50" fill="#f1ccb8"/><circle cx="88.4" cy="180.9" r="1.50" fill="#e1dad6"/><circle cx="143.5" cy="275.5" r="1.50" fill="#e3d9d3"/><circle cx="110.9" cy="238.0" r="1.50" fill="#e3d9d3"/><circle cx="245.1" cy="115.8" r="1.50" fill="#e8d6cc"/><circle cx="206.3" cy="166.5" r="1.50" fill="#f29072"/><circle cx="66.1" cy="146.2" r="1.50" fill="#d5dbe5"/><circle cx="65.2" cy="185.8" r="1.50" fill="#dcdddd"/><circle cx="166.4" cy="297.4" r="1.50" fill="#e3d9d3"/><circle cx="160.0" cy="269.2" r="1.50" fill="#f3c7b1"/><circle cx="80.6" cy="208.9" r="1.50" fill="#dddcdc"/><circle cx="108.7" cy="252.9" r="1.50" fill="#d3dbe7"/><circle cx="238.6" cy="91.6" r="1.50" fill="#f2c9b4"/><circle cx="209.2" cy="255.9" r="1.50" fill="#bcd2f7"/><circle cx="227.5" cy="236.1" r="1.50" fill="#ebd3c6"/><circle cx="122.1" cy="217.6" r="1.50" fill="#e2dad5"/><circle cx="120.1" cy="218.8" r="1.50" fill="#e4d9d2"/><circle cx="194.1" cy="203.1" r="1.50" fill="#d6dce4"/><circle cx="209.1" cy="218.9" r="1.50" fill="#e1dad6"/><circle cx="171.7" cy="195.0" r="1.50" fill="#d7dce3"/><circle cx="186.1" cy="122.4" r="1.50" fill="#cedaeb"/><circle cx="111.2" cy="159.0" r="1.50" fill="#dcdddd"/><circle cx="190.3" cy="300.0" r="1.50" fill="#e0dbd8"/><circle cx="123.2" cy="311.7" r="1.50" fill="#e7d7ce"/><circle cx="62.0" cy="195.3" r="1.50" fill="#dfdbd9"/><circle cx="156.8" cy="93.8" r="1.50" fill="#dddcdc"/><circle cx="208.4" cy="105.9" r="1.50" fill="#dedcdb"/><circle cx="160.5" cy="113.5" r="1.50" fill="#c5d6f2"/><circle cx="173.0" cy="131.0" r="1.50" fill="#d6dce4"/><circle cx="175.2" cy="192.0" r="1.50" fill="#d2dbe8"/><circle cx="64.7" cy="248.7" r="1.50" fill="#efcebd"/><circle cx="187.8" cy="211.3" r="1.50" fill="#dfdbd9"/><circle cx="223.0" cy="61.1" r="1.50" fill="#e9d5cb"/><circle cx="142.4" cy="186.7" r="1.50" fill="#ead5c9"/><circle cx="180.6" cy="137.8" r="1.50" fill="#cbd8ee"/><circle cx="197.8" cy="173.8" r="1.50" fill="#f1cdba"/><circle cx="68.1" cy="279.7" r="1.50" fill="#dcdddd"/><circle cx="172.7" cy="170.6" r="1.50" fill="#edd2c3"/><circle cx="125.7" cy="224.5" r="1.50" fill="#e2dad5"/><circle cx="206.4" cy="176.8" r="1.50" fill="#f5c4ac"/><circle cx="197.1" cy="51.1" r="1.50" fill="#e0dbd8"/><circle cx="177.2" cy="148.0" r="1.50" fill="#e9d5cb"/><circle cx="153.6" cy="117.6" r="1.50" fill="#b6cefa"/><circle cx="104.3" cy="260.5" r="1.50" fill="#e4d9d2"/><circle cx="228.7" cy="115.4" r="1.50" fill="#ecd3c5"/><circle cx="82.3" cy="313.9" r="1.50" fill="#e0dbd8"/><circle cx="87.2" cy="125.0" r="1.50" fill="#e4d9d2"/><circle cx="112.0" cy="230.0" r="1.50" fill="#dddcdc"/><circle cx="142.3" cy="133.9" r="1.50" fill="#d3dbe7"/><circle cx="106.1" cy="284.0" r="1.50" fill="#d9dce1"/><circle cx="61.4" cy="329.2" r="1.50" fill="#d4dbe6"/><circle cx="162.2" cy="215.6" r="1.50" fill="#f6a385"/><circle cx="147.0" cy="183.8" r="1.50" fill="#ebd3c6"/><circle cx="84.9" cy="166.7" r="1.50" fill="#dedcdb"/><circle cx="49.2" cy="160.1" r="1.50" fill="#d0473d"/><circle cx="78.9" cy="177.3" r="1.50" fill="#e4d9d2"/><circle cx="52.7" cy="251.9" r="1.50" fill="#f7b79b"/><circle cx="160.1" cy="197.0" r="1.50" fill="#e6d7cf"/><circle cx="238.0" cy="78.4" r="1.50" fill="#f7af91"/><circle cx="228.8" cy="121.4" r="1.50" fill="#d5dbe5"/><circle cx="159.1" cy="165.4" r="1.50" fill="#dadce0"/><circle cx="88.4" cy="331.9" r="1.50" fill="#cedaeb"/><circle cx="48.6" cy="229.7" r="1.50" fill="#e4d9d2"/><circle cx="155.1" cy="89.6" r="1.50" fill="#e1dad6"/><circle cx="78.6" cy="144.3" r="1.50" fill="#e0dbd8"/><circle cx="189.9" cy="180.3" r="1.50" fill="#e1dad6"/><circle cx="105.2" cy="127.4" r="1.50" fill="#e1dad6"/><circle cx="165.4" cy="192.4" r="1.50" fill="#efcfbf"/><circle cx="211.1" cy="175.3" r="1.50" fill="#f7b99e"/><circle cx="147.8" cy="196.2" r="1.50" fill="#f7ba9f"/><circle cx="102.5" cy="135.6" r="1.50" fill="#e0dbd8"/><circle cx="62.3" cy="266.9" r="1.50" fill="#f4c6af"/><circle cx="163.0" cy="125.2" r="1.50" fill="#d2dbe8"/><circle cx="94.8" cy="303.0" r="1.50" fill="#dadce0"/><circle cx="180.3" cy="163.1" r="1.50" fill="#e8d6cc"/><circle cx="65.2" cy="185.9" r="1.50" fill="#e3d9d3"/><circle cx="187.6" cy="95.8" r="1.50" fill="#e2dad5"/><circle cx="172.3" cy="139.8" r="1.50" fill="#c1d4f4"/><circle cx="101.1" cy="120.0" r="1.50" fill="#e6d7cf"/><circle cx="65.3" cy="277.8" r="1.50" fill="#f2c9b4"/><circle cx="201.0" cy="177.4" r="1.50" fill="#b40426"/><circle cx="177.3" cy="296.5" r="1.50" fill="#d44e41"/><circle cx="188.2" cy="62.7" r="1.50" fill="#dddcdc"/><circle cx="51.8" cy="247.6" r="1.50" fill="#edd1c2"/><circle cx="95.7" cy="137.2" r="1.50" fill="#dedcdb"/><circle cx="200.8" cy="91.6" r="1.50" fill="#d3dbe7"/><circle cx="176.9" cy="274.3" r="1.50" fill="#f5c1a9"/><circle cx="89.7" cy="127.6" r="1.50" fill="#dddcdc"/><circle cx="185.9" cy="226.6" r="1.50" fill="#e8d6cc"/><circle cx="87.0" cy="340.0" r="1.50" fill="#d4dbe6"/><circle cx="216.3" cy="88.3" r="1.50" fill="#ead4c8"/><circle cx="130.0" cy="171.6" r="1.50" fill="#c6d6f1"/><circle cx="92.2" cy="317.5" r="1.50" fill="#dfdbd9"/><circle cx="199.5" cy="210.4" r="1.50" fill="#e6d7cf"/><circle cx="75.9" cy="279.1" r="1.50" fill="#e5d8d1"/><circle cx="243.0" cy="198.1" r="1.50" fill="#e0654f"/><circle cx="125.1" cy="109.8" r="1.50" fill="#f3c8b2"/><circle cx="125.2" cy="176.3" r="1.50" fill="#e4d9d2"/><circle cx="212.2" cy="121.7" r="1.50" fill="#d4dbe6"/><circle cx="160.7" cy="110.1" r="1.50" fill="#e4d9d2"/><circle cx="151.6" cy="253.1" r="1.50" fill="#f6a586"/><circle cx="95.1" cy="218.2" r="1.50" fill="#dedcdb"/><circle cx="123.2" cy="101.8" r="1.50" fill="#f1ccb8"/><circle cx="213.3" cy="145.8" r="1.50" fill="#d0473d"/><circle cx="189.6" cy="202.8" r="1.50" fill="#e4d9d2"/><circle cx="114.6" cy="251.9" r="1.50" fill="#e2dad5"/><circle cx="95.4" cy="192.7" r="1.50" fill="#e3d9d3"/><circle cx="169.8" cy="190.2" r="1.50" fill="#e5d8d1"/><circle cx="168.7" cy="255.3" r="1.50" fill="#f1cdba"/><circle cx="155.1" cy="153.8" r="1.50" fill="#dadce0"/><circle cx="91.1" cy="206.8" r="1.50" fill="#dedcdb"/><circle cx="122.2" cy="141.2" r="1.50" fill="#d9dce1"/><circle cx="149.3" cy="120.3" r="1.50" fill="#c1d4f4"/><circle cx="105.1" cy="276.6" r="1.50" fill="#ebd3c6"/><circle cx="219.2" cy="263.3" r="1.50" fill="#d2dbe8"/><circle cx="182.3" cy="198.0" r="1.50" fill="#dcdddd"/><circle cx="211.3" cy="67.2" r="1.50" fill="#f6bda2"/><circle cx="79.7" cy="332.2" r="1.50" fill="#bcd2f7"/><circle cx="180.8" cy="197.1" r="1.50" fill="#e3d9d3"/><circle cx="219.3" cy="171.9" r="1.50" fill="#f1cdba"/><circle cx="59.4" cy="136.6" r="1.50" fill="#d7dce3"/><circle cx="57.3" cy="251.6" r="1.50" fill="#f3c7b1"/><circle cx="222.0" cy="71.4" r="1.50" fill="#e3d9d3"/><circle cx="197.4" cy="67.2" r="1.50" fill="#e57058"/><circle cx="146.9" cy="200.7" r="1.50" fill="#f2cbb7"/><circle cx="216.2" cy="142.0" r="1.50" fill="#f7b599"/><circle cx="87.4" cy="222.7" r="1.50" fill="#d6dce4"/><circle cx="200.0" cy="74.6" r="1.50" fill="#f6a586"/><circle cx="113.0" cy="325.0" r="1.50" fill="#b40426"/><circle cx="95.9" cy="201.0" r="1.50" fill="#c5d6f2"/><circle cx="141.1" cy="126.2" r="1.50" fill="#dddcdc"/><circle cx="198.4" cy="285.2" r="1.50" fill="#dbdcde"/><circle cx="139.1" cy="129.2" r="1.50" fill="#dfdbd9"/><circle cx="201.0" cy="255.2" r="1.50" fill="#e8d6cc"/><circle cx="114.7" cy="165.2" r="1.50" fill="#dbdcde"/><circle cx="214.0" cy="74.2" r="1.50" fill="#d4dbe6"/><circle cx="52.5" cy="146.3" r="1.50" fill="#d9dce1"/><circle cx="94.8" cy="299.0" r="1.50" fill="#ccd9ed"/><circle cx="235.6" cy="203.6" r="1.50" fill="#f3c8b2"/><circle cx="51.5" cy="299.2" r="1.50" fill="#e3d9d3"/><circle cx="127.3" cy="246.5" r="1.50" fill="#e4d9d2"/><circle cx="133.2" cy="225.2" r="1.50" fill="#f1cdba"/><circle cx="195.9" cy="236.6" r="1.50" fill="#e5d8d1"/><circle cx="71.9" cy="153.4" r="1.50" fill="#e0dbd8"/><circle cx="168.8" cy="159.6" r="1.50" fill="#e1dad6"/><circle cx="56.4" cy="142.7" r="1.50" fill="#d5dbe5"/><circle cx="196.0" cy="79.8" r="1.50" fill="#e6d7cf"/><circle cx="228.0" cy="225.6" r="1.50" fill="#b40426"/><circle cx="183.4" cy="293.8" r="1.50" fill="#e2dad5"/><circle cx="199.2" cy="94.2" r="1.50" fill="#bad0f8"/><circle cx="190.4" cy="227.5" r="1.50" fill="#f2cab5"/><circle cx="90.7" cy="235.9" r="1.50" fill="#f5c4ac"/><circle cx="208.5" cy="145.3" r="1.50" fill="#e8d6cc"/><circle cx="165.1" cy="80.0" r="1.50" fill="#ecd3c5"/><circle cx="129.9" cy="154.2" r="1.50" fill="#d9dce1"/><circle cx="81.3" cy="305.5" r="1.50" fill="#e6d7cf"/><circle cx="184.6" cy="84.5" r="1.50" fill="#b40426"/><circle cx="143.3" cy="231.5" r="1.50" fill="#e7d7ce"/><circle cx="102.4" cy="136.5" r="1.50" fill="#e1dad6"/><circle cx="112.2" cy="169.2" r="1.50" fill="#dcdddd"/><circle cx="210.0" cy="32.7" r="1.50" fill="#dedcdb"/><circle cx="99.6" cy="146.6" r="1.50" fill="#d8dce2"/><circle cx="147.8" cy="250.3" r="1.50" fill="#f7af91"/><circle cx="187.1" cy="250.1" r="1.50" fill="#ead5c9"/><circle cx="162.1" cy="130.4" r="1.50" fill="#d4dbe6"/><circle cx="137.9" cy="177.9" r="1.50" fill="#dbdcde"/><circle cx="182.5" cy="188.2" r="1.50" fill="#e8d6cc"/><circle cx="191.2" cy="68.1" r="1.50" fill="#f4c5ad"/><circle cx="212.1" cy="152.3" r="1.50" fill="#e2dad5"/><circle cx="126.5" cy="223.3" r="1.50" fill="#e6d7cf"/><circle cx="171.1" cy="297.9" r="1.50" fill="#dcdddd"/><circle cx="104.8" cy="304.5" r="1.50" fill="#c3d5f4"/><circle cx="86.1" cy="237.3" r="1.50" fill="#e6d7cf"/><circle cx="92.0" cy="143.8" r="1.50" fill="#dddcdc"/><circle cx="120.5" cy="219.1" r="1.50" fill="#dcdddd"/><circle cx="129.4" cy="297.7" r="1.50" fill="#dddcdc"/><circle cx="216.5" cy="149.9" r="1.50" fill="#d85646"/><circle cx="74.4" cy="125.8" r="1.50" fill="#dddcdc"/><circle cx="149.9" cy="113.2" r="1.50" fill="#dcdddd"/><circle cx="117.5" cy="298.9" r="1.50" fill="#cb3e38"/><circle cx="171.1" cy="116.8" r="1.50" fill="#dbdcde"/><circle cx="186.8" cy="172.9" r="1.50" fill="#eed0c0"/><circle cx="172.9" cy="211.1" r="1.50" fill="#efcfbf"/><circle cx="52.3" cy="270.1" r="1.50" fill="#e1dad6"/><circle cx="195.7" cy="151.3" r="1.50" fill="#b40426"/><circle cx="100.5" cy="309.4" r="1.50" fill="#cad8ef"/><circle cx="198.0" cy="151.4" r="1.50" fill="#e4d9d2"/><circle cx="192.9" cy="185.3" r="1.50" fill="#f3c8b2"/><circle cx="244.5" cy="194.9" r="1.50" fill="#b50927"/><circle cx="84.6" cy="315.0" r="1.50" fill="#dddcdc"/><circle cx="203.4" cy="236.8" r="1.50" fill="#cedaeb"/><circle cx="171.4" cy="197.3" r="1.50" fill="#e5d8d1"/><circle cx="105.3" cy="255.4" r="1.50" fill="#ead4c8"/><circle cx="213.0" cy="142.8" r="1.50" fill="#e4d9d2"/><circle cx="215.0" cy="179.8" r="1.50" fill="#f7ad90"/><circle cx="150.2" cy="141.2" r="1.50" fill="#ead5c9"/><circle cx="230.5" cy="66.9" r="1.50" fill="#e0dbd8"/><circle cx="177.6" cy="244.5" r="1.50" fill="#e2dad5"/><circle cx="125.3" cy="273.9" r="1.50" fill="#b40426"/><circle cx="224.0" cy="65.1" r="1.50" fill="#e4d9d2"/><circle cx="112.7" cy="305.6" r="1.50" fill="#dcdddd"/><circle cx="158.3" cy="165.4" r="1.50" fill="#d7dce3"/><circle cx="142.0" cy="220.6" r="1.50" fill="#e9d5cb"/><circle cx="79.5" cy="288.2" r="1.50" fill="#e0dbd8"/><circle cx="82.0" cy="151.9" r="1.50" fill="#d9dce1"/><circle cx="66.2" cy="247.8" r="1.50" fill="#f5c2aa"/><circle cx="220.9" cy="109.3" r="1.50" fill="#e9d5cb"/><circle cx="186.3" cy="247.3" r="1.50" fill="#edd2c3"/><circle cx="139.1" cy="169.0" r="1.50" fill="#f2cbb7"/><circle cx="91.8" cy="120.9" r="1.50" fill="#f7ad90"/><circle cx="162.6" cy="142.6" r="1.50" fill="#cfdaea"/><circle cx="205.8" cy="190.2" r="1.50" fill="#efcfbf"/><circle cx="103.4" cy="156.6" r="1.50" fill="#dcdddd"/><circle cx="102.8" cy="260.7" r="1.50" fill="#e2dad5"/><circle cx="216.9" cy="192.7" r="1.50" fill="#f7af91"/><circle cx="90.4" cy="303.0" r="1.50" fill="#e1dad6"/><circle cx="183.2" cy="169.3" r="1.50" fill="#ead4c8"/><circle cx="217.5" cy="97.6" r="1.50" fill="#e6d7cf"/><circle cx="191.2" cy="228.2" r="1.50" fill="#c1d4f4"/><circle cx="147.2" cy="278.8" r="1.50" fill="#e7d7ce"/><circle cx="205.6" cy="206.3" r="1.50" fill="#adc9fd"/><circle cx="173.6" cy="282.8" r="1.50" fill="#c4d5f3"/><circle cx="104.3" cy="228.9" r="1.50" fill="#ead4c8"/><circle cx="141.9" cy="288.2" r="1.50" fill="#e5d8d1"/><circle cx="208.9" cy="46.4" r="1.50" fill="#dfdbd9"/><circle cx="112.3" cy="108.8" r="1.50" fill="#e5d8d1"/><circle cx="134.7" cy="176.3" r="1.50" fill="#e0dbd8"/><circle cx="232.0" cy="84.6" r="1.50" fill="#f2cab5"/><circle cx="136.2" cy="243.5" r="1.50" fill="#f7b599"/><circle cx="72.6" cy="290.9" r="1.50" fill="#e8d6cc"/><circle cx="134.4" cy="288.4" r="1.50" fill="#ead5c9"/><circle cx="151.0" cy="259.8" r="1.50" fill="#dddcdc"/><circle cx="45.5" cy="130.8" r="1.50" fill="#dadce0"/><circle cx="122.5" cy="270.6" r="1.50" fill="#e2dad5"/><circle cx="96.2" cy="222.7" r="1.50" fill="#e4d9d2"/><circle cx="133.2" cy="154.1" r="1.50" fill="#dcdddd"/><circle cx="80.5" cy="300.5" r="1.50" fill="#dfdbd9"/><circle cx="203.0" cy="130.2" r="1.50" fill="#dbdcde"/><circle cx="114.4" cy="139.8" r="1.50" fill="#dbdcde"/><circle cx="154.0" cy="261.4" r="1.50" fill="#f5c0a7"/><circle cx="191.2" cy="206.0" r="1.50" fill="#d5dbe5"/><circle cx="58.3" cy="160.8" r="1.50" fill="#e36b54"/><circle cx="113.4" cy="276.3" r="1.50" fill="#e1dad6"/><circle cx="191.7" cy="152.7" r="1.50" fill="#edd2c3"/><circle cx="87.9" cy="140.8" r="1.50" fill="#dedcdb"/><circle cx="183.6" cy="72.1" r="1.50" fill="#b40426"/><circle cx="206.4" cy="169.1" r="1.50" fill="#b40426"/><circle cx="214.5" cy="136.3" r="1.50" fill="#b40426"/><circle cx="230.0" cy="213.3" r="1.50" fill="#f2cbb7"/><circle cx="75.9" cy="260.4" r="1.50" fill="#eed0c0"/><circle cx="98.4" cy="146.1" r="1.50" fill="#dadce0"/><circle cx="141.7" cy="179.4" r="1.50" fill="#e3d9d3"/><circle cx="115.8" cy="219.2" r="1.50" fill="#e2dad5"/><circle cx="156.1" cy="117.6" r="1.50" fill="#dbdcde"/><circle cx="233.6" cy="80.3" r="1.50" fill="#e4d9d2"/><circle cx="198.2" cy="97.6" r="1.50" fill="#d3dbe7"/><circle cx="213.0" cy="209.9" r="1.50" fill="#cfdaea"/><circle cx="200.3" cy="234.6" r="1.50" fill="#e4d9d2"/><circle cx="176.3" cy="162.3" r="1.50" fill="#efcebd"/><circle cx="203.9" cy="152.5" r="1.50" fill="#ebd3c6"/><circle cx="214.8" cy="192.8" r="1.50" fill="#f4c5ad"/><circle cx="171.3" cy="75.0" r="1.50" fill="#f5c0a7"/><circle cx="82.9" cy="149.9" r="1.50" fill="#d5dbe5"/><circle cx="202.4" cy="54.9" r="1.50" fill="#d4dbe6"/><circle cx="100.1" cy="145.0" r="1.50" fill="#d8dce2"/><circle cx="217.6" cy="115.9" r="1.50" fill="#f7b396"/><circle cx="179.0" cy="227.9" r="1.50" fill="#e8d6cc"/><circle cx="192.7" cy="110.2" r="1.50" fill="#dbdcde"/><circle cx="234.5" cy="185.2" r="1.50" fill="#ed8366"/><circle cx="77.9" cy="128.9" r="1.50" fill="#d2dbe8"/><circle cx="221.0" cy="135.8" r="1.50" fill="#dbdcde"/><circle cx="212.5" cy="249.6" r="1.50" fill="#d8dce2"/><circle cx="76.7" cy="236.3" r="1.50" fill="#e2dad5"/><circle cx="62.6" cy="216.9" r="1.50" fill="#d3dbe7"/><circle cx="173.3" cy="72.3" r="1.50" fill="#edd2c3"/><circle cx="166.0" cy="160.0" r="1.50" fill="#dcdddd"/><circle cx="172.4" cy="90.6" r="1.50" fill="#efcfbf"/><circle cx="131.9" cy="128.1" r="1.50" fill="#ead5c9"/><circle cx="223.9" cy="136.8" r="1.50" fill="#e1dad6"/><circle cx="67.0" cy="301.5" r="1.50" fill="#d3dbe7"/><circle cx="89.4" cy="125.9" r="1.50" fill="#e0dbd8"/><circle cx="107.7" cy="328.2" r="1.50" fill="#dadce0"/><circle cx="250.3" cy="247.9" r="1.50" fill="#dedcdb"/><circle cx="100.0" cy="186.9" r="1.50" fill="#f4c6af"/><circle cx="221.9" cy="65.1" r="1.50" fill="#e6d7cf"/><circle cx="117.2" cy="151.7" r="1.50" fill="#ecd3c5"/><circle cx="179.0" cy="172.5" r="1.50" fill="#efcfbf"/><circle cx="66.8" cy="289.2" r="1.50" fill="#e9d5cb"/><circle cx="175.5" cy="226.6" r="1.50" fill="#dfdbd9"/><circle cx="198.2" cy="226.3" r="1.50" fill="#d1dae9"/><circle cx="212.6" cy="164.6" r="1.50" fill="#efcebd"/><circle cx="177.0" cy="199.9" r="1.50" fill="#dcdddd"/><circle cx="60.4" cy="245.4" r="1.50" fill="#dfdbd9"/><circle cx="222.8" cy="103.1" r="1.50" fill="#e5d8d1"/><circle cx="155.6" cy="189.6" r="1.50" fill="#f2cab5"/><circle cx="116.3" cy="276.2" r="1.50" fill="#e3d9d3"/><circle cx="201.3" cy="69.3" r="1.50" fill="#dd5f4b"/><circle cx="114.7" cy="306.2" r="1.50" fill="#d2dbe8"/><circle cx="174.6" cy="217.4" r="1.50" fill="#e3d9d3"/><circle cx="239.2" cy="180.4" r="1.50" fill="#e0dbd8"/><circle cx="199.7" cy="223.4" r="1.50" fill="#e8d6cc"/><circle cx="82.4" cy="153.8" r="1.50" fill="#dfdbd9"/><circle cx="156.6" cy="152.9" r="1.50" fill="#cedaeb"/><circle cx="49.1" cy="148.5" r="1.50" fill="#cf453c"/><circle cx="116.2" cy="175.3" r="1.50" fill="#d7dce3"/><circle cx="175.5" cy="211.0" r="1.50" fill="#d8dce2"/><circle cx="159.0" cy="174.8" r="1.50" fill="#cdd9ec"/><circle cx="86.1" cy="271.9" r="1.50" fill="#e8d6cc"/><circle cx="138.2" cy="237.4" r="1.50" fill="#dddcdc"/><circle cx="144.3" cy="64.0" r="1.50" fill="#dddcdc"/><circle cx="170.0" cy="238.3" r="1.50" fill="#eed0c0"/><circle cx="228.2" cy="151.1" r="1.50" fill="#dfdbd9"/><circle cx="65.9" cy="166.3" r="1.50" fill="#dbdcde"/><circle cx="83.1" cy="124.5" r="1.50" fill="#dedcdb"/><circle cx="56.7" cy="154.1" r="1.50" fill="#dfdbd9"/><circle cx="151.9" cy="229.4" r="1.50" fill="#f7ac8e"/><circle cx="101.7" cy="114.1" r="1.50" fill="#dddcdc"/><circle cx="186.2" cy="61.2" r="1.50" fill="#c43032"/><circle cx="202.5" cy="167.7" r="1.50" fill="#f1ccb8"/><circle cx="179.5" cy="166.8" r="1.50" fill="#e9d5cb"/><circle cx="220.8" cy="250.3" r="1.50" fill="#cbd8ee"/><circle cx="187.0" cy="73.4" r="1.50" fill="#cc403a"/><circle cx="123.1" cy="167.0" r="1.50" fill="#dfdbd9"/><circle cx="217.0" cy="271.1" r="1.50" fill="#d8dce2"/><circle cx="90.6" cy="179.7" r="1.50" fill="#f1ccb8"/><circle cx="146.2" cy="319.8" r="1.50" fill="#e3d9d3"/><circle cx="217.9" cy="60.2" r="1.50" fill="#edd2c3"/><circle cx="193.9" cy="73.9" r="1.50" fill="#e2dad5"/><circle cx="217.3" cy="215.5" r="1.50" fill="#d2dbe8"/><circle cx="125.0" cy="202.5" r="1.50" fill="#e2dad5"/><circle cx="148.2" cy="277.7" r="1.50" fill="#dfdbd9"/><circle cx="79.4" cy="303.1" r="1.50" fill="#cdd9ec"/><circle cx="190.3" cy="144.7" r="1.50" fill="#c5d6f2"/><circle cx="76.7" cy="332.9" r="1.50" fill="#b40426"/><circle cx="92.6" cy="286.7" r="1.50" fill="#dcdddd"/><circle cx="148.2" cy="137.1" r="1.50" fill="#d7dce3"/><circle cx="186.8" cy="137.2" r="1.50" fill="#d9dce1"/><circle cx="151.3" cy="296.6" r="1.50" fill="#e2dad5"/><circle cx="200.7" cy="210.2" r="1.50" fill="#b3cdfb"/><circle cx="184.2" cy="164.8" r="1.50" fill="#f1cdba"/><circle cx="130.0" cy="266.2" r="1.50" fill="#e1dad6"/><circle cx="243.3" cy="176.5" r="1.50" fill="#dddcdc"/><circle cx="58.0" cy="249.9" r="1.50" fill="#e9d5cb"/><circle cx="232.9" cy="255.6" r="1.50" fill="#e2dad5"/><circle cx="181.1" cy="94.2" r="1.50" fill="#ead4c8"/><circle cx="89.6" cy="235.6" r="1.50" fill="#f7b79b"/><circle cx="106.2" cy="172.2" r="1.50" fill="#dcdddd"/><circle cx="87.7" cy="183.8" r="1.50" fill="#dedcdb"/><circle cx="211.3" cy="160.6" r="1.50" fill="#efcfbf"/><circle cx="109.4" cy="231.7" r="1.50" fill="#e3d9d3"/><circle cx="213.9" cy="147.7" r="1.50" fill="#e9785d"/><circle cx="166.3" cy="251.5" r="1.50" fill="#e4d9d2"/><circle cx="89.1" cy="202.5" r="1.50" fill="#dbdcde"/><circle cx="224.7" cy="116.8" r="1.50" fill="#ead4c8"/><circle cx="100.1" cy="279.5" r="1.50" fill="#e8d6cc"/><circle cx="206.9" cy="222.6" r="1.50" fill="#cad8ef"/><circle cx="98.4" cy="267.4" r="1.50" fill="#e9d5cb"/><circle cx="123.1" cy="300.6" r="1.50" fill="#d4dbe6"/><circle cx="217.6" cy="186.3" r="1.50" fill="#df634e"/><circle cx="96.9" cy="208.4" r="1.50" fill="#dbdcde"/><circle cx="100.0" cy="116.1" r="1.50" fill="#dcdddd"/><circle cx="238.4" cy="255.7" r="1.50" fill="#d2dbe8"/><circle cx="177.5" cy="178.1" r="1.50" fill="#ecd3c5"/><circle cx="185.8" cy="275.8" r="1.50" fill="#dedcdb"/><circle cx="127.8" cy="257.4" r="1.50" fill="#e2dad5"/><circle cx="99.6" cy="194.6" r="1.50" fill="#d2dbe8"/><circle cx="92.2" cy="172.4" r="1.50" fill="#dcdddd"/><circle cx="94.4" cy="274.5" r="1.50" fill="#efcebd"/><circle cx="144.3" cy="176.4" r="1.50" fill="#d8dce2"/><circle cx="176.4" cy="197.6" r="1.50" fill="#e0dbd8"/><circle cx="233.7" cy="39.0" r="1.50" fill="#e0dbd8"/><circle cx="173.5" cy="183.0" r="1.50" fill="#e7d7ce"/><circle cx="101.1" cy="297.5" r="1.50" fill="#d8dce2"/><circle cx="230.0" cy="128.2" r="1.50" fill="#cedaeb"/><circle cx="224.4" cy="247.1" r="1.50" fill="#e4d9d2"/><circle cx="79.6" cy="195.8" r="1.50" fill="#d8dce2"/><circle cx="100.0" cy="270.9" r="1.50" fill="#e2dad5"/><circle cx="105.1" cy="293.5" r="1.50" fill="#dadce0"/><circle cx="81.4" cy="135.4" r="1.50" fill="#e3d9d3"/><circle cx="189.1" cy="221.5" r="1.50" fill="#e0dbd8"/><circle cx="133.5" cy="197.9" r="1.50" fill="#e7d7ce"/><circle cx="171.3" cy="292.3" r="1.50" fill="#e3d9d3"/><circle cx="113.2" cy="289.9" r="1.50" fill="#b40426"/><circle cx="126.6" cy="145.2" r="1.50" fill="#dfdbd9"/><circle cx="183.5" cy="257.6" r="1.50" fill="#e4d9d2"/><circle cx="132.6" cy="111.2" r="1.50" fill="#e2dad5"/><circle cx="209.3" cy="253.9" r="1.50" fill="#c3d5f4"/><circle cx="225.1" cy="255.2" r="1.50" fill="#d2dbe8"/><circle cx="152.9" cy="179.6" r="1.50" fill="#e9d5cb"/><circle cx="158.2" cy="259.0" r="1.50" fill="#f1cdba"/><circle cx="152.9" cy="214.0" r="1.50" fill="#edd2c3"/><circle cx="184.8" cy="109.8" r="1.50" fill="#b7cff9"/><circle cx="106.1" cy="288.4" r="1.50" fill="#d9dce1"/><circle cx="72.3" cy="140.0" r="1.50" fill="#e3d9d3"/><circle cx="204.7" cy="178.4" r="1.50" fill="#d8dce2"/><circle cx="150.5" cy="207.2" r="1.50" fill="#e9d5cb"/><circle cx="234.8" cy="162.3" r="1.50" fill="#ead4c8"/><circle cx="71.8" cy="221.8" r="1.50" fill="#d3dbe7"/><circle cx="201.3" cy="113.3" r="1.50" fill="#dcdddd"/><circle cx="198.0" cy="159.7" r="1.50" fill="#cb3e38"/><circle cx="81.3" cy="303.7" r="1.50" fill="#dedcdb"/><circle cx="82.7" cy="157.9" r="1.50" fill="#e6d7cf"/><circle cx="63.7" cy="258.8" r="1.50" fill="#f6bda2"/><circle cx="104.3" cy="258.4" r="1.50" fill="#e0dbd8"/><circle cx="126.4" cy="100.4" r="1.50" fill="#b2ccfb"/><circle cx="236.7" cy="110.1" r="1.50" fill="#dedcdb"/><circle cx="112.2" cy="172.2" r="1.50" fill="#dddcdc"/><circle cx="75.5" cy="309.5" r="1.50" fill="#dedcdb"/><circle cx="101.9" cy="121.1" r="1.50" fill="#dbdcde"/><circle cx="197.1" cy="105.3" r="1.50" fill="#e5d8d1"/><circle cx="89.3" cy="294.1" r="1.50" fill="#e4d9d2"/><circle cx="165.6" cy="87.9" r="1.50" fill="#e2dad5"/><circle cx="91.7" cy="284.8" r="1.50" fill="#e1dad6"/><circle cx="233.5" cy="276.8" r="1.50" fill="#dedcdb"/><circle cx="200.7" cy="164.7" r="1.50" fill="#cc403a"/><circle cx="140.9" cy="215.9" r="1.50" fill="#f7b194"/><circle cx="210.5" cy="95.2" r="1.50" fill="#e2dad5"/><circle cx="58.7" cy="164.3" r="1.50" fill="#dedcdb"/><circle cx="222.8" cy="232.4" r="1.50" fill="#ebd3c6"/><circle cx="83.2" cy="301.6" r="1.50" fill="#ead5c9"/><circle cx="121.1" cy="312.5" r="1.50" fill="#dadce0"/><circle cx="151.0" cy="161.2" r="1.50" fill="#dddcdc"/><circle cx="219.8" cy="243.9" r="1.50" fill="#d6dce4"/><circle cx="191.7" cy="183.8" r="1.50" fill="#f7af91"/><circle cx="159.6" cy="247.0" r="1.50" fill="#f2cbb7"/><circle cx="83.8" cy="212.1" r="1.50" fill="#e1dad6"/><circle cx="214.0" cy="250.1" r="1.50" fill="#dcdddd"/><circle cx="129.4" cy="314.6" r="1.50" fill="#b40426"/><circle cx="227.4" cy="69.8" r="1.50" fill="#f1ccb8"/><circle cx="210.7" cy="110.2" r="1.50" fill="#ead5c9"/><circle cx="81.8" cy="165.0" r="1.50" fill="#e0dbd8"/><circle cx="238.9" cy="200.8" r="1.50" fill="#f3c8b2"/><circle cx="112.4" cy="214.0" r="1.50" fill="#d3dbe7"/><circle cx="94.9" cy="152.5" r="1.50" fill="#d1dae9"/><circle cx="96.6" cy="302.8" r="1.50" fill="#a1c0ff"/><circle cx="180.8" cy="247.6" r="1.50" fill="#d9dce1"/><circle cx="153.8" cy="183.3" r="1.50" fill="#e1dad6"/><circle cx="205.7" cy="185.7" r="1.50" fill="#ebd3c6"/><circle cx="219.8" cy="195.9" r="1.50" fill="#ebd3c6"/><circle cx="230.8" cy="274.4" r="1.50" fill="#d7dce3"/><circle cx="212.5" cy="110.1" r="1.50" fill="#f3c8b2"/><circle cx="63.9" cy="251.3" r="1.50" fill="#ebd3c6"/><circle cx="129.5" cy="169.8" r="1.50" fill="#dcdddd"/><circle cx="108.2" cy="144.5" r="1.50" fill="#e1dad6"/><circle cx="167.2" cy="166.3" r="1.50" fill="#d8dce2"/><circle cx="102.2" cy="165.4" r="1.50" fill="#d6dce4"/><circle cx="120.6" cy="255.2" r="1.50" fill="#e1dad6"/><circle cx="116.7" cy="156.1" r="1.50" fill="#dedcdb"/><circle cx="208.4" cy="145.1" r="1.50" fill="#f4c6af"/><circle cx="185.4" cy="229.1" r="1.50" fill="#e1dad6"/><circle cx="157.5" cy="251.6" r="1.50" fill="#e0dbd8"/><circle cx="169.4" cy="112.4" r="1.50" fill="#e5d8d1"/><circle cx="139.1" cy="244.5" r="1.50" fill="#dadce0"/><circle cx="143.5" cy="112.4" r="1.50" fill="#e1dad6"/><circle cx="158.9" cy="188.5" r="1.50" fill="#e5d8d1"/><circle cx="147.0" cy="190.2" r="1.50" fill="#ead5c9"/><circle cx="137.8" cy="241.6" r="1.50" fill="#f7aa8c"/><circle cx="114.0" cy="291.9" r="1.50" fill="#d55042"/><circle cx="233.4" cy="128.9" r="1.50" fill="#e9d5cb"/><circle cx="172.6" cy="204.3" r="1.50" fill="#d9dce1"/><circle cx="131.3" cy="243.4" r="1.50" fill="#e3d9d3"/><circle cx="132.8" cy="282.0" r="1.50" fill="#e7d7ce"/><circle cx="96.3" cy="213.4" r="1.50" fill="#dedcdb"/><circle cx="241.8" cy="175.6" r="1.50" fill="#f0cdbb"/><circle cx="219.3" cy="162.6" r="1.50" fill="#f2c9b4"/><circle cx="74.6" cy="286.7" r="1.50" fill="#eed0c0"/><circle cx="75.8" cy="222.9" r="1.50" fill="#d4dbe6"/><circle cx="123.6" cy="299.7" r="1.50" fill="#e1dad6"/><circle cx="88.7" cy="304.4" r="1.50" fill="#d1dae9"/><circle cx="89.1" cy="204.1" r="1.50" fill="#e0dbd8"/><circle cx="124.1" cy="203.8" r="1.50" fill="#e3d9d3"/><circle cx="73.7" cy="186.5" r="1.50" fill="#e6d7cf"/><circle cx="167.9" cy="105.0" r="1.50" fill="#c1d4f4"/><circle cx="105.9" cy="228.3" r="1.50" fill="#d8dce2"/><circle cx="218.7" cy="268.5" r="1.50" fill="#d9dce1"/><circle cx="184.8" cy="82.1" r="1.50" fill="#f7b396"/><circle cx="149.6" cy="263.4" r="1.50" fill="#e3d9d3"/><circle cx="159.5" cy="255.2" r="1.50" fill="#edd1c2"/><circle cx="67.2" cy="201.7" r="1.50" fill="#d7dce3"/><circle cx="179.4" cy="273.2" r="1.50" fill="#ecd3c5"/><circle cx="203.3" cy="73.5" r="1.50" fill="#f7af91"/><circle cx="154.4" cy="161.3" r="1.50" fill="#dbdcde"/><circle cx="143.9" cy="231.9" r="1.50" fill="#e3d9d3"/><circle cx="58.5" cy="312.0" r="1.50" fill="#dfdbd9"/><circle cx="218.1" cy="83.7" r="1.50" fill="#ecd3c5"/><circle cx="62.6" cy="137.8" r="1.50" fill="#d9dce1"/><circle cx="204.2" cy="97.2" r="1.50" fill="#e3d9d3"/><circle cx="133.0" cy="322.0" r="1.50" fill="#dddcdc"/><circle cx="176.0" cy="172.2" r="1.50" fill="#edd1c2"/><circle cx="215.5" cy="237.4" r="1.50" fill="#c7d7f0"/><circle cx="72.9" cy="335.8" r="1.50" fill="#dedcdb"/><circle cx="204.2" cy="198.6" r="1.50" fill="#c9d7f0"/><circle cx="213.3" cy="141.1" r="1.50" fill="#e2dad5"/><circle cx="201.1" cy="291.0" r="1.50" fill="#dddcdc"/><circle cx="102.4" cy="194.6" r="1.50" fill="#dfdbd9"/><circle cx="84.4" cy="195.6" r="1.50" fill="#dbdcde"/><circle cx="112.6" cy="255.8" r="1.50" fill="#e1dad6"/><circle cx="142.7" cy="273.6" r="1.50" fill="#dedcdb"/><circle cx="167.3" cy="111.6" r="1.50" fill="#cdd9ec"/><circle cx="209.6" cy="181.0" r="1.50" fill="#e3d9d3"/><circle cx="177.3" cy="195.7" r="1.50" fill="#dedcdb"/><circle cx="90.6" cy="168.5" r="1.50" fill="#d7dce3"/><circle cx="124.3" cy="116.6" r="1.50" fill="#e8d6cc"/><circle cx="117.4" cy="188.9" r="1.50" fill="#e1dad6"/><circle cx="60.8" cy="146.3" r="1.50" fill="#3b4cc0"/><circle cx="63.9" cy="146.3" r="1.50" fill="#3b4cc0"/><circle cx="56.0" cy="211.0" r="1.50" fill="#3b4cc0"/><circle cx="57.7" cy="212.7" r="1.50" fill="#3b4cc0"/><circle cx="142.0" cy="231.5" r="1.50" fill="#3b4cc0"/><circle cx="183.0" cy="104.0" r="1.50" fill="#5977e3"/><circle cx="186.0" cy="107.0" r="1.50" fill="#5977e3"/></g>
</g>
<path d="M40.35 108.12 L214.45 18.55 M40.35 108.12 L41.90 361.45 M41.90 361.45 L85.25 375.82 M43.83 101.83 L43.83 108.33 M85.62 80.34 L85.62 86.84 M127.40 58.84 L127.40 65.34 M169.18 37.34 L169.18 43.84 M210.97 15.84 L210.97 22.34 M38.67 358.03 L43.11 355.74 M38.30 297.23 L42.74 294.94 M37.92 236.43 L42.37 234.15 M37.55 175.64 L42.00 173.35 M37.18 114.84 L41.63 112.55 M39.03 363.66 L44.01 361.10 M59.84 370.56 L64.82 368.00 M80.65 377.46 L85.63 374.90" stroke="#000" stroke-width="1.30" fill="none" stroke-linecap="butt"/>
<g font-family="'DejaVu Serif','Liberation Serif',serif" font-size="11.1" fill="#000" stroke="#000" stroke-width="0.2" text-anchor="middle">
<text x="40.13" y="94.03" >−0.50</text>
<text x="81.92" y="72.54" >−0.25</text>
<text x="123.70" y="51.04" >0.00</text>
<text x="165.48" y="29.54" >0.25</text>
<text x="207.27" y="8.04" >0.50</text>
<text x="24.70" y="371.08" >0.00</text>
<text x="24.25" y="310.29" >0.25</text>
<text x="23.80" y="249.49" >0.50</text>
<text x="23.35" y="188.69" >0.75</text>
<text x="22.90" y="127.89" >1.00</text>
<text x="28.60" y="397.80" >−0.1</text>
<text x="49.90" y="404.50" >0.0</text>
<text x="69.70" y="411.30" >0.1</text>
<g transform="translate(121.10,21.00) rotate(-27.2)"><text font-style="italic">x</text><text x="0.90" y="-0.50">˜</text></g>
<g transform="translate(3.65,251.10) rotate(0.0)"><text font-style="italic">y</text><text x="0.55" y="-0.40">˜</text></g>
<g transform="translate(32.40,430.10) rotate(17.5)"><text font-style="italic">z</text><text x="1.20" y="-0.25">˜</text></g>
</g>
<defs><linearGradient id="cw" gradientUnits="userSpaceOnUse" x1="0" y1="55.10" x2="0" y2="265.60"><stop offset="0.0000" stop-color="#b40426"/><stop offset="0.0312" stop-color="#be242e"/><stop offset="0.0625" stop-color="#ca3b37"/><stop offset="0.0938" stop-color="#d44e41"/><stop offset="0.1250" stop-color="#dd5f4b"/><stop offset="0.1562" stop-color="#e46e56"/><stop offset="0.1875" stop-color="#eb7d62"/><stop offset="0.2188" stop-color="#f08b6e"/><stop offset="0.2500" stop-color="#f4987a"/><stop offset="0.2812" stop-color="#f6a586"/><stop offset="0.3125" stop-color="#f7b093"/><stop offset="0.3438" stop-color="#f7ba9f"/><stop offset="0.3750" stop-color="#f5c4ac"/><stop offset="0.4062" stop-color="#f1ccb8"/><stop offset="0.4375" stop-color="#ecd3c5"/><stop offset="0.4688" stop-color="#e5d8d1"/><stop offset="0.5000" stop-color="#dddcdc"/><stop offset="0.5312" stop-color="#d5dbe5"/><stop offset="0.5625" stop-color="#ccd9ed"/><stop offset="0.5938" stop-color="#c3d5f4"/><stop offset="0.6250" stop-color="#b9d0f9"/><stop offset="0.6562" stop-color="#aec9fc"/><stop offset="0.6875" stop-color="#a3c2fe"/><stop offset="0.7188" stop-color="#98b9ff"/><stop offset="0.7500" stop-color="#8db0fe"/><stop offset="0.7812" stop-color="#82a6fb"/><stop offset="0.8125" stop-color="#779af7"/><stop offset="0.8438" stop-color="#6c8ff1"/><stop offset="0.8750" stop-color="#6282ea"/><stop offset="0.9062" stop-color="#5875e1"/><stop offset="0.9375" stop-color="#4e68d8"/><stop offset="0.9688" stop-color="#445acc"/><stop offset="1.0000" stop-color="#3b4cc0"/></linearGradient></defs>
<rect x="278.50" y="55.10" width="11.90" height="210.50" fill="url(#cw)"/>
<polygon points="278.50,55.40 284.45,44.10 290.40,55.40" fill="#b40426"/>
<polygon points="278.50,265.30 284.45,276.50 290.40,265.30" fill="#3b4cc0"/>
<path d="M278.50 55.10 L284.45 44.10 L290.40 55.10 L290.40 265.60 L284.45 276.50 L278.50 265.60 Z" fill="none" stroke="#000" stroke-width="1.1" stroke-linejoin="miter"/>
<path d="M290.40 55.10 L294.80 55.10 M290.40 107.80 L294.80 107.80 M290.40 160.40 L294.80 160.40 M290.40 213.00 L294.80 213.00 M290.40 265.60 L294.80 265.60" stroke="#000" stroke-width="1.1" fill="none"/>
<g font-family="'DejaVu Serif','Liberation Serif',serif" font-size="11.1" fill="#000" stroke="#000" stroke-width="0.2">
<text x="300.00" y="59.20">50</text>
<text x="300.00" y="111.90">25</text>
<text x="300.00" y="164.50">0</text>
<text x="300.00" y="217.10">−25</text>
<text x="300.00" y="269.70">−50</text>
<g transform="translate(339.6,172.3) rotate(-90)"><text font-style="italic">J</text><text x="3.0" y="-2.54" text-anchor="middle">˜</text><text x="4.45" y="1.8" font-size="7.8">conv</text></g>
</g>
</svg>
</body></html>
